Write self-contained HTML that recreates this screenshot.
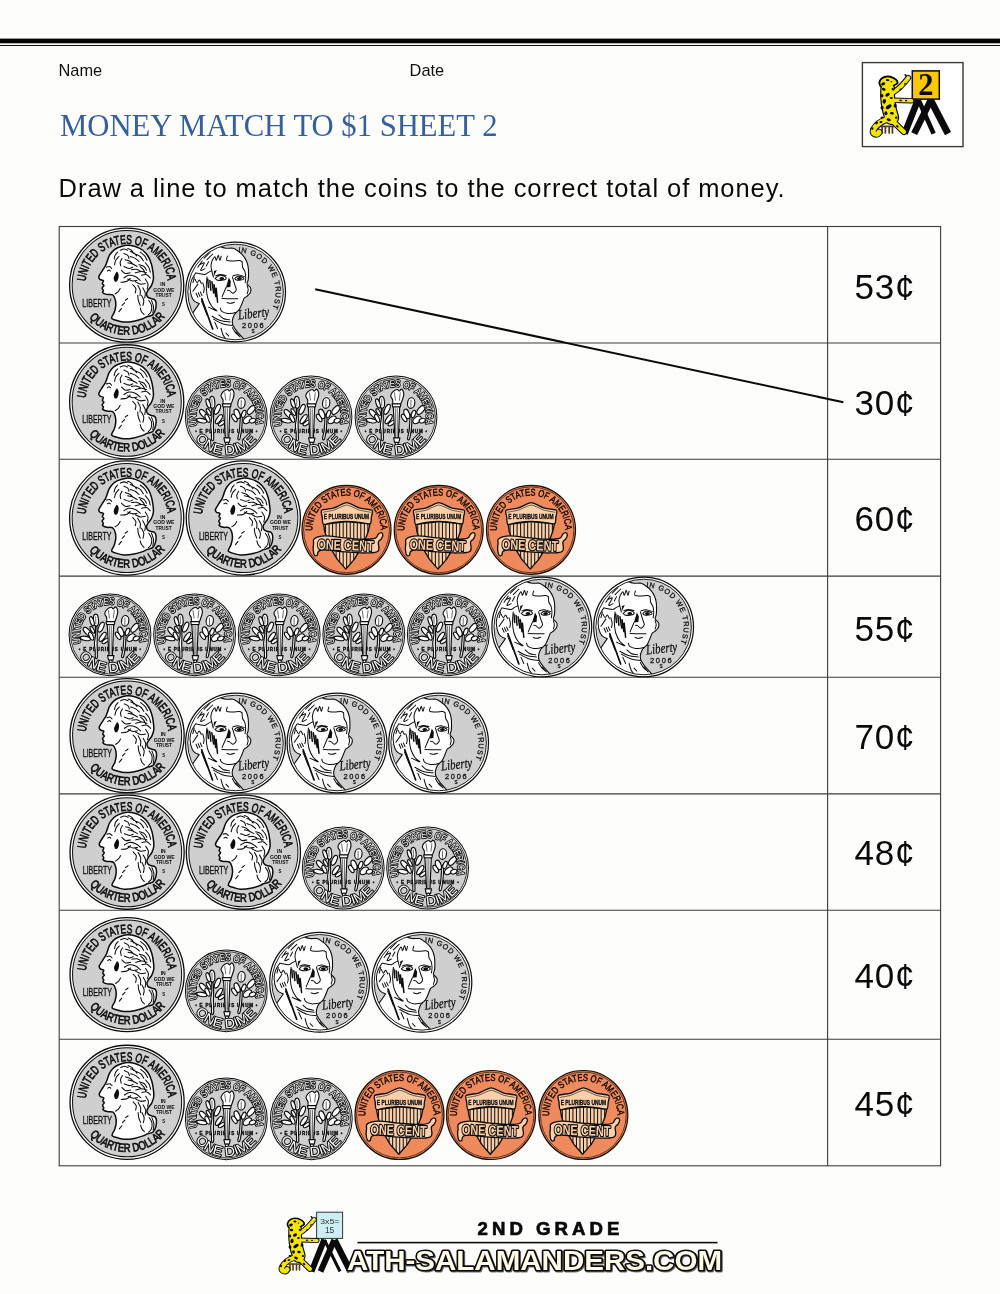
<!DOCTYPE html>
<html lang="en"><head><meta charset="utf-8"><title>Money Match to $1 Sheet 2</title>
<style>
html,body{margin:0;padding:0;background:#fdfefc;}
body{width:1000px;height:1294px;overflow:hidden;position:relative;}
svg{position:absolute;left:0;top:0;display:block;will-change:transform;opacity:0.999}
</style></head><body>
<svg width="1000" height="1294" viewBox="0 0 1000 1294" font-family="Liberation Sans, sans-serif">
<rect x="0" y="38.6" width="1000" height="4.7" fill="#050505"/>
<rect x="0" y="45" width="1000" height="1" fill="#111"/>
<text x="58.5" y="75.6" font-size="16.4" fill="#111">Name</text>
<text x="409.6" y="75.6" font-size="16.4" fill="#111">Date</text>
<text font-family="Liberation Serif, serif" x="60" y="135.7" font-size="32" fill="#365f9b" textLength="437.5" lengthAdjust="spacingAndGlyphs">MONEY MATCH TO $1 SHEET 2</text>
<text x="58.6" y="196.7" font-size="25.5" fill="#0a0a0a" textLength="726" lengthAdjust="spacing">Draw a line to match the coins to the correct total of money.</text>
<rect x="862.4" y="62.6" width="100.6" height="84" fill="#fff" stroke="#3a3a3a" stroke-width="1.4"/><g stroke="#0a0a0a" fill="none" stroke-linecap="butt"><path d="M918 99.6L904.6 133.6" stroke-width="6.6"/><path d="M931 99.6L914.2 133.6" stroke-width="6.6"/><path d="M918.6 100L933.6 133.6" stroke-width="4.6"/><path d="M930.4 99.6L948 133.6" stroke-width="6.8"/></g><rect x="912.3" y="70.9" width="27" height="28.2" fill="#fbc800" stroke="#0a0a0a" stroke-width="1.5"/><text x="925.8" y="95" text-anchor="middle" font-family="Liberation Serif, serif" font-weight="bold" font-size="30.5" fill="#0a0a0a">2</text><g transform="translate(849.4 56.6) scale(0.109)" fill="none" stroke-linecap="round" stroke-linejoin="round"><path d="M285 640H410M300 645V700M330 645V700M365 645V700M395 645V700" stroke="#5a3a1a" stroke-width="16"/><path d="M350 575C295 590 245 625 220 672C210 712 255 726 272 694" stroke="#0a0a0a" stroke-width="64"/><path d="M395 590C430 620 455 650 500 690" stroke="#0a0a0a" stroke-width="58"/><path d="M400 330C450 300 500 250 540 195" stroke="#0a0a0a" stroke-width="54"/><path d="M395 400C450 400 510 402 570 406" stroke="#0a0a0a" stroke-width="50"/><path d="M352 300C346 370 358 470 388 560" stroke="#0a0a0a" stroke-width="138"/><path d="M275 240C285 185 350 170 400 195C430 210 448 225 440 245C420 262 400 262 380 290C340 310 280 295 275 240Z" fill="#f3e400" stroke="#0a0a0a" stroke-width="18"/><path d="M350 575C295 590 245 625 220 672C210 712 255 726 272 694" stroke="#f3e400" stroke-width="46"/><path d="M395 590C430 620 455 650 500 690" stroke="#f3e400" stroke-width="40"/><path d="M400 330C450 300 500 250 540 195" stroke="#f3e400" stroke-width="36"/><path d="M395 400C450 400 510 402 570 406" stroke="#f3e400" stroke-width="32"/><path d="M352 300C346 370 358 470 388 560" stroke="#f3e400" stroke-width="116"/><path d="M285 240C295 195 350 182 395 203C420 215 436 228 430 242C412 255 395 255 372 284C340 300 292 290 285 240Z" fill="#f3e400"/><ellipse cx="300" cy="470" rx="14" ry="18" transform="rotate(0 300 470)" fill="#0a0a0a"/><ellipse cx="420" cy="450" rx="14" ry="18" transform="rotate(10 420 450)" fill="#0a0a0a"/><ellipse cx="400" cy="300" rx="14" ry="10" transform="rotate(30 400 300)" fill="#0a0a0a"/><ellipse cx="300" cy="360" rx="12" ry="16" transform="rotate(0 300 360)" fill="#0a0a0a"/><ellipse cx="430" cy="560" rx="12" ry="10" transform="rotate(0 430 560)" fill="#0a0a0a"/><ellipse cx="290" cy="600" rx="14" ry="9" transform="rotate(-20 290 600)" fill="#0a0a0a"/><ellipse cx="310" cy="250" rx="20" ry="13" transform="rotate(-20 310 250)" fill="#0a0a0a"/><ellipse cx="350" cy="215" rx="16" ry="10" transform="rotate(10 350 215)" fill="#0a0a0a"/><ellipse cx="315" cy="300" rx="18" ry="12" transform="rotate(20 315 300)" fill="#0a0a0a"/><ellipse cx="350" cy="350" rx="22" ry="14" transform="rotate(-30 350 350)" fill="#0a0a0a"/><ellipse cx="385" cy="380" rx="14" ry="10" transform="rotate(0 385 380)" fill="#0a0a0a"/><ellipse cx="320" cy="410" rx="16" ry="22" transform="rotate(10 320 410)" fill="#0a0a0a"/><ellipse cx="360" cy="460" rx="30" ry="16" transform="rotate(-35 360 460)" fill="#0a0a0a"/><ellipse cx="390" cy="520" rx="18" ry="12" transform="rotate(10 390 520)" fill="#0a0a0a"/><ellipse cx="335" cy="520" rx="14" ry="18" transform="rotate(0 335 520)" fill="#0a0a0a"/><ellipse cx="360" cy="580" rx="20" ry="12" transform="rotate(20 360 580)" fill="#0a0a0a"/><ellipse cx="300" cy="560" rx="14" ry="10" transform="rotate(0 300 560)" fill="#0a0a0a"/><ellipse cx="250" cy="610" rx="14" ry="10" transform="rotate(-30 250 610)" fill="#0a0a0a"/><ellipse cx="210" cy="660" rx="10" ry="12" transform="rotate(0 210 660)" fill="#0a0a0a"/><ellipse cx="440" cy="640" rx="14" ry="9" transform="rotate(40 440 640)" fill="#0a0a0a"/><ellipse cx="470" cy="300" rx="12" ry="8" transform="rotate(-45 470 300)" fill="#0a0a0a"/><ellipse cx="510" cy="250" rx="10" ry="7" transform="rotate(-50 510 250)" fill="#0a0a0a"/><ellipse cx="470" cy="402" rx="12" ry="8" transform="rotate(0 470 402)" fill="#0a0a0a"/><ellipse cx="520" cy="404" rx="10" ry="7" transform="rotate(0 520 404)" fill="#0a0a0a"/><ellipse cx="385" cy="230" rx="8" ry="6" transform="rotate(0 385 230)" fill="#0a0a0a"/><path d="M520 175L548 200" stroke="#ddd" stroke-width="14"/><path d="M512 168L524 180" stroke="#0a0a0a" stroke-width="14"/></g>
<g fill="none" stroke="#3c3c3c" stroke-width="1.1">
<rect x="59.2" y="226.5" width="881.4" height="939.3"/>
<line x1="59.2" y1="343" x2="940.6" y2="343"/>
<line x1="59.2" y1="459.2" x2="940.6" y2="459.2"/>
<line x1="59.2" y1="576.1" x2="940.6" y2="576.1"/>
<line x1="59.2" y1="677.3" x2="940.6" y2="677.3"/>
<line x1="59.2" y1="793.9" x2="940.6" y2="793.9"/>
<line x1="59.2" y1="910.2" x2="940.6" y2="910.2"/>
<line x1="59.2" y1="1039.2" x2="940.6" y2="1039.2"/>
<line x1="827.6" y1="226.5" x2="827.6" y2="1165.8"/>
</g>
<text x="854.4" y="298.5" font-size="35" fill="#0a0a0a" letter-spacing="0.9">53¢</text>
<text x="854.4" y="414.7" font-size="35" fill="#0a0a0a" letter-spacing="0.9">30¢</text>
<text x="854.4" y="531" font-size="35" fill="#0a0a0a" letter-spacing="0.9">60¢</text>
<text x="854.4" y="640.7" font-size="35" fill="#0a0a0a" letter-spacing="0.9">55¢</text>
<text x="854.4" y="749" font-size="35" fill="#0a0a0a" letter-spacing="0.9">70¢</text>
<text x="854.4" y="865.3" font-size="35" fill="#0a0a0a" letter-spacing="0.9">48¢</text>
<text x="854.4" y="988" font-size="35" fill="#0a0a0a" letter-spacing="0.9">40¢</text>
<text x="854.4" y="1116.4" font-size="35" fill="#0a0a0a" letter-spacing="0.9">45¢</text>
<g transform="translate(126.7 285.1) scale(1.003)"><circle r="56.9" fill="#fff" stroke="#0c0c0c" stroke-width="1.3"/><circle r="54.4" fill="#cfcfcf" stroke="#0c0c0c" stroke-width="1"/><path d="M-9 -37.25C-11.19 -36.35 -11.96 -35.73 -13.38 -34.38C-14.79 -33.02 -16.46 -30.98 -17.5 -29.12C-18.54 -27.27 -19 -24.92 -19.62 -23.25C-20.25 -21.58 -20.48 -20.58 -21.25 -19.12C-22.02 -17.67 -23.17 -16.27 -24.25 -14.5C-25.33 -12.73 -27.33 -9.96 -27.75 -8.5C-28.17 -7.04 -27.5 -6.42 -26.75 -5.75C-26 -5.08 -23.67 -5.21 -23.25 -4.5C-22.83 -3.79 -24.33 -2.33 -24.25 -1.5C-24.17 -0.67 -22.71 -0.25 -22.75 0.5C-22.79 1.25 -24.42 2.17 -24.5 3C-24.58 3.83 -23.33 4.75 -23.25 5.5C-23.17 6.25 -24.54 6.88 -24 7.5C-23.46 8.12 -21.67 8.88 -20 9.25C-18.33 9.62 -15.42 8.92 -14 9.75C-12.58 10.58 -12.02 12.5 -11.5 14.25C-10.98 16 -10.75 18.17 -10.88 20.25C-11 22.33 -11.56 24.62 -12.25 26.75C-12.94 28.88 -15.54 31.54 -15 33C-14.46 34.46 -11.04 34.85 -9 35.5C-6.96 36.15 -5.46 36.79 -2.75 36.88C-0.04 36.96 4.12 36.56 7.25 36C10.38 35.44 13.88 34.25 16 33.5C18.12 32.75 18.83 31.96 20 31.5C21.17 31.04 21.96 31.12 23 30.75C24.04 30.38 25.29 30.38 26.25 29.25C27.21 28.12 28.25 25.92 28.75 24C29.25 22.08 29.42 19.33 29.25 17.75C29.08 16.17 28.54 15.21 27.75 14.5C26.96 13.79 25.62 13.92 24.5 13.5C23.38 13.08 21.79 12.83 21 12C20.21 11.17 19.71 9.62 19.75 8.5C19.79 7.38 20.42 6.62 21.25 5.25C22.08 3.88 23.85 2.12 24.75 0.25C25.65 -1.62 26.4 -3.71 26.62 -6C26.85 -8.29 26.46 -11 26.12 -13.5C25.79 -16 25.4 -18.5 24.62 -21C23.85 -23.5 22.94 -26.21 21.5 -28.5C20.06 -30.79 18.17 -33.08 16 -34.75C13.83 -36.42 11.21 -37.67 8.5 -38.5C5.79 -39.33 2.67 -39.96 -0.25 -39.75C-3.17 -39.54 -6.81 -38.15 -9 -37.25Z" fill="#fff" stroke="#0c0c0c" stroke-width="1.5" stroke-linejoin="round"/><path d="M-6.5 -34.75C-5.88 -34.96 -4 -36 -2.75 -36C-1.5 -36 0.38 -34.96 1 -34.75M1 -36.62C1.62 -36.31 3.81 -35.58 4.75 -34.75C5.69 -33.92 6.31 -32.15 6.62 -31.62M-2.75 -31.62C-2.12 -31.31 0.17 -30.58 1 -29.75C1.83 -28.92 2.04 -27.15 2.25 -26.62M-7.75 -28.5C-8.27 -27.88 -10.15 -26.1 -10.88 -24.75C-11.6 -23.4 -11.92 -21.1 -12.12 -20.38M-4.62 -26.62C-4.94 -26 -6.29 -24.12 -6.5 -22.88C-6.71 -21.62 -5.98 -19.75 -5.88 -19.12M3.5 -28.5C4.33 -28.19 7.04 -27.46 8.5 -26.62C9.96 -25.79 11.62 -24.02 12.25 -23.5M8.5 -31C9.33 -30.58 12.15 -29.65 13.5 -28.5C14.85 -27.35 16.1 -24.85 16.62 -24.12M-2.75 -18.5C-1.92 -18.19 0.79 -16.73 2.25 -16.62C3.71 -16.52 5.38 -17.67 6 -17.88M1 -22.25C1.83 -22.04 4.44 -21.62 6 -21C7.56 -20.38 9.65 -18.92 10.38 -18.5M12.25 -20.38C13.08 -20.06 16 -19.44 17.25 -18.5C18.5 -17.56 19.33 -15.38 19.75 -14.75M-2.75 -7.25C-1.92 -7.67 0.38 -9.54 2.25 -9.75C4.12 -9.96 6.62 -9.33 8.5 -8.5C10.38 -7.67 12.67 -5.38 13.5 -4.75M-5.88 -2.88C-4.94 -2.98 -1.81 -2.88 -0.25 -3.5C1.31 -4.12 2.88 -6.1 3.5 -6.62M8.5 -3.5C9.33 -3.08 11.83 -1.31 13.5 -1C15.17 -0.69 17.67 -1.52 18.5 -1.62M14.75 -9.75C15.58 -9.85 18.29 -10.79 19.75 -10.38C21.21 -9.96 22.88 -7.77 23.5 -7.25M11 0.25C11.42 1.08 13.12 3.58 13.5 5.25C13.88 6.92 13.29 9.42 13.25 10.25M16 2.75C16.42 3.58 18.17 6.08 18.5 7.75C18.83 9.42 18.08 11.92 18 12.75M8.5 -12.25C9.54 -12.46 12.88 -13.5 14.75 -13.5C16.62 -13.5 18.92 -12.46 19.75 -12.25M3.5 -33.5C4.12 -33.25 6.21 -32.73 7.25 -32C8.29 -31.27 9.33 -29.6 9.75 -29.12M13.5 -32.88C14.23 -32.25 16.73 -30.48 17.88 -29.12C19.02 -27.77 19.96 -25.48 20.38 -24.75M-1.5 -25.38C-0.67 -25.06 2.15 -24.33 3.5 -23.5C4.85 -22.67 6.1 -20.9 6.62 -20.38M4.75 -15.38C5.58 -15.44 8.29 -15.96 9.75 -15.75C11.21 -15.54 12.88 -14.4 13.5 -14.12M-9 -32.88C-9.42 -32.35 -10.92 -30.9 -11.5 -29.75C-12.08 -28.6 -12.33 -26.62 -12.5 -26M18.5 -22.25C19.08 -21.52 21.17 -19.44 22 -17.88C22.83 -16.31 23.25 -13.71 23.5 -12.88M1 -6C1.83 -5.69 4.44 -4.33 6 -4.12C7.56 -3.92 9.65 -4.65 10.38 -4.75M18.5 -6C18.96 -5.17 20.94 -2.67 21.25 -1C21.56 0.67 20.52 3.17 20.38 4M6 -0.38C6.52 0.25 8.71 2.02 9.12 3.38C9.54 4.73 8.6 7.02 8.5 7.75M14.75 10.25C15.12 11.08 16.75 13.58 17 15.25C17.25 16.92 16.38 19.42 16.25 20.25M-5.25 -14.75C-4.62 -14.23 -2.96 -12.04 -1.5 -11.62C-0.04 -11.21 2.67 -12.15 3.5 -12.25M13.5 -18.5C14.02 -17.98 15.79 -16.52 16.62 -15.38C17.46 -14.23 18.19 -12.25 18.5 -11.62M-6.5 3.38C-6.81 3.9 -7.54 5.6 -8.38 6.5C-9.21 7.4 -10.98 8.38 -11.5 8.75M-1.5 15.25 L1 13.38M-4.62 20.25 L-2.12 17.75M-7.75 26.5 L-5.25 23.38M11 10.25C11.1 11.08 11.21 13.58 11.62 15.25C12.04 16.92 13.19 19.42 13.5 20.25M13.5 22.75C13.71 23.38 14.12 25.42 14.75 26.5C15.38 27.58 16.83 28.79 17.25 29.25M-20.25 -17.88C-19.73 -17.98 -18 -18.71 -17.12 -18.5C-16.25 -18.29 -15.35 -16.94 -15 -16.62M-19.25 -14.12C-18.96 -14.27 -18 -15.02 -17.5 -15C-17 -14.98 -16.46 -14.17 -16.25 -14M22 15.25C22.46 16.08 24.38 18.38 24.75 20.25C25.12 22.12 24.79 24.92 24.25 26.5C23.71 28.08 21.96 29.21 21.5 29.75M24.75 15.25C25.08 16.29 26.54 19.42 26.75 21.5C26.96 23.58 26.12 26.71 26 27.75" fill="none" stroke="#0c0c0c" stroke-width="1.05" stroke-linecap="round"/><path d="M-9.62 -13.25C-9 -13.15 -8.1 -11.17 -8 -9.75C-7.9 -8.33 -8.42 -5.83 -9 -4.75C-9.58 -3.67 -10.83 -2.94 -11.5 -3.25C-12.17 -3.56 -12.96 -5.44 -13 -6.62C-13.04 -7.81 -12.31 -9.27 -11.75 -10.38C-11.19 -11.48 -10.25 -13.35 -9.62 -13.25Z" fill="#0c0c0c"/><path id="c0a" d="M-41.04 -3.59 A41.2 41.2 0 0 1 40.97 -4.31" fill="none"/><path id="c0b" d="M-37.43 32.54 A49.6 49.6 0 0 0 38 -31.88" fill="none"/><g fill="#0c0c0c" stroke="#0c0c0c" stroke-width="0.65" font-family="Liberation Sans, sans-serif"><text font-size="12.6"><textPath href="#c0a" textLength="121" lengthAdjust="spacingAndGlyphs">UNITED STATES OF AMERICA</textPath></text><text font-size="12"><textPath href="#c0b" textLength="86" lengthAdjust="spacingAndGlyphs">QUARTER DOLLAR</textPath></text><text x="-44.2" y="21.6" font-size="10.2" stroke-width="0.3" textLength="29" lengthAdjust="spacingAndGlyphs">LIBERTY</text><g font-size="5" font-weight="bold" text-anchor="middle" stroke="none"><text x="36" y="0.8">IN</text><text x="37" y="6.4" textLength="21" lengthAdjust="spacingAndGlyphs">GOD WE</text><text x="36.8" y="11.6" textLength="16" lengthAdjust="spacingAndGlyphs">TRUST</text><text x="36.6" y="21" font-size="4.4">S</text></g></g></g>
<g transform="translate(235.6 292) scale(1.006)"><clipPath id="c1k"><circle r="47.3"/></clipPath><circle r="49.6" fill="#fff" stroke="#0c0c0c" stroke-width="1.2"/><circle r="47.5" fill="#cfcfcf"/><g clip-path="url(#c1k)"><path d="M-15.12 -45.25C-13.25 -44.22 -11.2 -43.73 -9.52 -43.5C-7.84 -43.27 -4.11 -43.87 -2.52 -43.5C-0.93 -43.13 1.07 -41.63 2.38 -40.7C3.69 -39.77 6.16 -37.81 7.28 -36.5C8.4 -35.19 10.08 -32.49 10.78 -30.9C11.48 -29.32 12.25 -26.38 12.53 -24.6C12.81 -22.83 12.88 -19.29 12.88 -17.61C12.88 -15.93 12.71 -13.29 12.53 -12.01C12.34 -10.73 11.15 -9.11 11.48 -8.02C11.8 -6.93 14.58 -5.03 14.98 -3.82C15.37 -2.61 14.96 -0.04 14.42 1.08C13.87 2.2 11.68 3.92 10.92 4.58C10.15 5.23 9.26 5.14 8.68 5.98C8.1 6.82 7.23 9.38 6.58 10.87C5.92 12.37 4.62 15.87 3.78 17.17C2.94 18.48 0.98 19.93 0.28 20.67C-0.42 21.42 -1 21.74 -1.47 22.77C-1.94 23.8 -3.08 26.97 -3.22 28.37C-3.36 29.77 -3.17 31.78 -2.52 33.27C-1.87 34.76 0.37 37.89 1.68 39.57C2.99 41.25 5.97 44.06 7.28 45.86C8.58 47.67 19.87 52.11 11.48 53.07C3.08 54.03 -46.75 66.79 -55.7 53.07C-64.66 39.36 -60 -35.89 -55.7 -49.8C-51.41 -63.7 -28.92 -51.8 -23.51 -51.2C-18.1 -50.59 -16.98 -46.27 -15.12 -45.25Z" fill="#fff" stroke="#0c0c0c" stroke-width="1.1"/><path d="M-49.41 -0.11C-48.85 -2.16 -45.17 1.1 -44.51 1.78C-43.84 2.46 -43.18 5.91 -42.76 6.68C-42.34 7.45 -40.97 8.99 -40.31 9.48C-39.64 9.97 -35.82 10.35 -36.11 11.57C-36.4 12.8 -41.85 20.65 -43.25 21.72C-44.65 22.79 -49.49 24.46 -50.1 22.28C-50.72 20.1 -49.97 1.94 -49.41 -0.11Z" fill="#cfcfcf"/><path d="M-8.12 -35.8C-8.21 -35.08 -9.61 -32.28 -8.68 -31.46C-7.74 -30.65 -4.6 -30.94 -2.52 -30.9C-0.44 -30.87 2.26 -31.39 3.78 -31.25C5.3 -31.11 6.11 -30.26 6.58 -30.06M6.58 -30.06C6.65 -29.15 6.55 -26.21 7 -24.6C7.44 -23 8.72 -22.04 9.24 -20.41C9.75 -18.77 10.03 -16.67 10.08 -14.81C10.12 -12.94 9.61 -10.14 9.52 -9.21M-23.51 -30.76C-23.05 -31.49 -21.44 -34.98 -20.71 -35.1C-19.99 -35.22 -19.76 -31.23 -19.17 -31.46C-18.59 -31.7 -17.8 -36.5 -17.21 -36.5C-16.63 -36.5 -16.17 -31.6 -15.68 -31.46C-15.19 -31.32 -14.51 -34.96 -14.28 -35.66M-31.21 -33.7 L-25.47 -39.3M-28.41 -32.16 L-22.67 -37.76M-35.41 -27.26C-34.69 -27.52 -31.19 -29.74 -31.07 -28.8C-30.95 -27.87 -34.83 -22.6 -34.71 -21.67C-34.59 -20.73 -31.09 -22.95 -30.37 -23.21M-29.11 -25.86 L-26.87 -30.2M-37.51 -24.6 L-33.31 -30.9M-39.61 -19.01C-38.91 -18.87 -36.93 -18.42 -35.41 -18.17C-33.89 -17.91 -31.91 -17.23 -30.51 -17.47C-29.11 -17.7 -28.08 -18.96 -27.01 -19.57C-25.94 -20.17 -24.56 -20.85 -24.07 -21.11M-23.51 -30.76C-23.68 -29.97 -24.49 -27.73 -24.49 -26C-24.49 -24.28 -23.91 -22.27 -23.51 -20.41C-23.12 -18.54 -22.35 -15.74 -22.11 -14.81M-40.31 -12.71C-39.96 -12.1 -38.91 -9.19 -38.21 -9.07C-37.51 -8.95 -36.81 -12.13 -36.11 -12.01C-35.41 -11.89 -34.36 -8.98 -34.01 -8.37M-42.41 -0.67 L-37.51 -7.81M-39.26 1.29 L-37.51 5.14M-37.16 0.59 L-35.41 4.44M-35.06 -0.11 L-33.45 3.53M-39.61 -19.01C-40.28 -17.84 -42.73 -14.34 -43.67 -12.01C-44.6 -9.68 -45.07 -7.31 -45.21 -5.01C-45.35 -2.71 -44.62 0.65 -44.51 1.78M-41.01 -14.81 L-42.41 -9.21M-32.61 -9.21C-32.38 -8.28 -31.33 -5.24 -31.21 -3.61C-31.09 -1.98 -31.79 -0.11 -31.91 0.59M-44.51 1.78C-44.22 2.59 -43.46 5.39 -42.76 6.68C-42.06 7.96 -41.42 8.66 -40.31 9.48C-39.2 10.29 -36.81 11.22 -36.11 11.57M-36.11 11.57 L-43.25 21.72M-20.36 -13.41C-19.72 -13.85 -18.09 -15.72 -16.52 -16.07C-14.94 -16.42 -12.08 -16.01 -10.92 -15.51C-9.75 -15.01 -9.05 -13.71 -9.52 -13.06C-9.98 -12.4 -12.2 -11.76 -13.72 -11.59C-15.23 -11.41 -17.51 -11.71 -18.61 -12.01C-19.72 -12.31 -20.07 -13.17 -20.36 -13.41M-0.77 -13.41C-0.24 -13.78 1.04 -15.47 2.38 -15.65C3.72 -15.82 6.34 -14.95 7.28 -14.46C8.21 -13.97 8.56 -13.19 7.98 -12.71C7.39 -12.23 5.06 -11.68 3.78 -11.59C2.5 -11.5 1.04 -11.85 0.28 -12.15C-0.48 -12.45 -0.59 -13.2 -0.77 -13.41M-19.66 -16.07C-18.91 -16.3 -16.81 -17.41 -15.12 -17.47C-13.42 -17.53 -10.45 -16.59 -9.52 -16.42M-2.52 -16.07C-1.7 -16.24 0.51 -17.23 2.38 -17.12C4.25 -17 7.63 -15.66 8.68 -15.37M-3.22 -15.02C-2.87 -13.85 -1.77 -10.12 -1.12 -8.02C-0.47 -5.92 0.68 -3.82 0.7 -2.42C0.72 -1.02 -0.33 -0.21 -0.98 0.38C-1.63 0.96 -2.38 1.37 -3.22 1.08C-4.06 0.79 -5.2 -0.91 -6.02 -1.37C-6.83 -1.84 -7.77 -1.66 -8.12 -1.72M-9.52 -4.52 L-13.37 4.58M-13.72 6.33C-12.43 6.4 -8.7 6.7 -6.02 6.75C-3.34 6.79 0.98 6.63 2.38 6.61M-8.47 10.52C-7.88 10.65 -6.19 11.35 -4.97 11.29C-3.74 11.24 -1.76 10.36 -1.12 10.17M-15.12 16.12C-14.88 16.65 -14.88 18.4 -13.72 19.27C-12.55 20.15 -9.98 21.08 -8.12 21.37C-6.25 21.66 -3.98 21.2 -2.52 21.02C-1.06 20.85 0.1 20.44 0.63 20.32M11.48 -6.41C11.65 -5.71 12.53 -3.61 12.53 -2.21C12.53 -0.81 11.65 1.29 11.48 1.99M-28.41 -15.02C-28.53 -13.27 -29.23 -8.02 -29.11 -4.52C-28.99 -1.02 -28.64 2.83 -27.71 5.98C-26.78 9.13 -25.03 12.27 -23.51 14.37C-22 16.47 -19.43 17.87 -18.61 18.57M-27.01 15.07 L-19.31 18.57M-23.51 24.17C-22.11 24.87 -18.15 27.44 -15.12 28.37C-12.08 29.3 -6.95 29.54 -5.32 29.77M-22.11 26.97C-20.48 27.79 -15.47 30.82 -12.32 31.87C-9.17 32.92 -4.74 33.03 -3.22 33.27M-16.52 22.77C-15.82 23.35 -14.07 25.45 -12.32 26.27C-10.57 27.09 -7.07 27.44 -6.02 27.67M-34.01 8.78 L-28.41 22.77M-14.42 36.07C-14.07 37.23 -13.13 41.32 -12.32 43.07C-11.5 44.81 -9.98 45.98 -9.52 46.56M-9.52 40.97 L-6.72 43.76M-3.22 35.37C-2.64 36.3 -1 39.45 0.28 40.97C1.56 42.48 3.78 43.88 4.48 44.46M-20.71 29.98 L-17.91 36.28M0.28 39.78 L4.48 44.67" fill="none" stroke="#0c0c0c" stroke-width="1" stroke-linecap="round" stroke-linejoin="round"/><path d="M-27.71 -12.92 L-27.01 -4.52M-25.61 -11.52 L-24.56 -1.72M-23.51 -10.12 L-21.76 1.08M-21.41 -7.32 L-19.66 4.58M-19.31 -3.82 L-17.91 10.17" fill="none" stroke="#0c0c0c" stroke-width="1.5" stroke-linecap="round"/><path d="M-33.66 6.68 L-22.81 36.77" fill="none" stroke="#0c0c0c" stroke-width="1.7" stroke-linecap="round"/><path d="M-6.72 -14.32 L-4.76 -10.61 L-5.18 -5.01 L-9.66 -4.45 L-7.98 -9.91ZM-21.41 -20.97 L-18.61 -21.81 L-21.97 -14.81Z" fill="#0c0c0c"/><ellipse cx="-13.72" cy="-13.41" rx="2.4" ry="1.5" fill="#0c0c0c"/><ellipse cx="3.78" cy="-13.41" rx="2.4" ry="1.5" fill="#0c0c0c"/></g><circle r="47.5" fill="none" stroke="#0c0c0c" stroke-width="0.9"/><path id="c1a" d="M2.78 -39.8 A39.9 39.9 0 0 1 34.55 19.95" fill="none"/><g fill="#0c0c0c" stroke="#0c0c0c" stroke-width="0.25" font-family="Liberation Sans, sans-serif"><text font-size="7.2"><textPath href="#c1a" textLength="76" lengthAdjust="spacing">IN GOD WE TRUST</textPath></text><text x="3" y="27.3" font-family="Liberation Serif, serif" font-style="italic" font-size="14" textLength="31" lengthAdjust="spacingAndGlyphs" transform="rotate(-6 3 27.3)">Liberty</text><text x="6.4" y="35.7" font-size="7.4" textLength="21.5" lengthAdjust="spacing">2006</text><text x="15.7" y="41.2" font-size="4.6">S</text></g></g>
<g transform="translate(126.7 401.8) scale(1.003)"><circle r="56.9" fill="#fff" stroke="#0c0c0c" stroke-width="1.3"/><circle r="54.4" fill="#cfcfcf" stroke="#0c0c0c" stroke-width="1"/><path d="M-9 -37.25C-11.19 -36.35 -11.96 -35.73 -13.38 -34.38C-14.79 -33.02 -16.46 -30.98 -17.5 -29.12C-18.54 -27.27 -19 -24.92 -19.62 -23.25C-20.25 -21.58 -20.48 -20.58 -21.25 -19.12C-22.02 -17.67 -23.17 -16.27 -24.25 -14.5C-25.33 -12.73 -27.33 -9.96 -27.75 -8.5C-28.17 -7.04 -27.5 -6.42 -26.75 -5.75C-26 -5.08 -23.67 -5.21 -23.25 -4.5C-22.83 -3.79 -24.33 -2.33 -24.25 -1.5C-24.17 -0.67 -22.71 -0.25 -22.75 0.5C-22.79 1.25 -24.42 2.17 -24.5 3C-24.58 3.83 -23.33 4.75 -23.25 5.5C-23.17 6.25 -24.54 6.88 -24 7.5C-23.46 8.12 -21.67 8.88 -20 9.25C-18.33 9.62 -15.42 8.92 -14 9.75C-12.58 10.58 -12.02 12.5 -11.5 14.25C-10.98 16 -10.75 18.17 -10.88 20.25C-11 22.33 -11.56 24.62 -12.25 26.75C-12.94 28.88 -15.54 31.54 -15 33C-14.46 34.46 -11.04 34.85 -9 35.5C-6.96 36.15 -5.46 36.79 -2.75 36.88C-0.04 36.96 4.12 36.56 7.25 36C10.38 35.44 13.88 34.25 16 33.5C18.12 32.75 18.83 31.96 20 31.5C21.17 31.04 21.96 31.12 23 30.75C24.04 30.38 25.29 30.38 26.25 29.25C27.21 28.12 28.25 25.92 28.75 24C29.25 22.08 29.42 19.33 29.25 17.75C29.08 16.17 28.54 15.21 27.75 14.5C26.96 13.79 25.62 13.92 24.5 13.5C23.38 13.08 21.79 12.83 21 12C20.21 11.17 19.71 9.62 19.75 8.5C19.79 7.38 20.42 6.62 21.25 5.25C22.08 3.88 23.85 2.12 24.75 0.25C25.65 -1.62 26.4 -3.71 26.62 -6C26.85 -8.29 26.46 -11 26.12 -13.5C25.79 -16 25.4 -18.5 24.62 -21C23.85 -23.5 22.94 -26.21 21.5 -28.5C20.06 -30.79 18.17 -33.08 16 -34.75C13.83 -36.42 11.21 -37.67 8.5 -38.5C5.79 -39.33 2.67 -39.96 -0.25 -39.75C-3.17 -39.54 -6.81 -38.15 -9 -37.25Z" fill="#fff" stroke="#0c0c0c" stroke-width="1.5" stroke-linejoin="round"/><path d="M-6.5 -34.75C-5.88 -34.96 -4 -36 -2.75 -36C-1.5 -36 0.38 -34.96 1 -34.75M1 -36.62C1.62 -36.31 3.81 -35.58 4.75 -34.75C5.69 -33.92 6.31 -32.15 6.62 -31.62M-2.75 -31.62C-2.12 -31.31 0.17 -30.58 1 -29.75C1.83 -28.92 2.04 -27.15 2.25 -26.62M-7.75 -28.5C-8.27 -27.88 -10.15 -26.1 -10.88 -24.75C-11.6 -23.4 -11.92 -21.1 -12.12 -20.38M-4.62 -26.62C-4.94 -26 -6.29 -24.12 -6.5 -22.88C-6.71 -21.62 -5.98 -19.75 -5.88 -19.12M3.5 -28.5C4.33 -28.19 7.04 -27.46 8.5 -26.62C9.96 -25.79 11.62 -24.02 12.25 -23.5M8.5 -31C9.33 -30.58 12.15 -29.65 13.5 -28.5C14.85 -27.35 16.1 -24.85 16.62 -24.12M-2.75 -18.5C-1.92 -18.19 0.79 -16.73 2.25 -16.62C3.71 -16.52 5.38 -17.67 6 -17.88M1 -22.25C1.83 -22.04 4.44 -21.62 6 -21C7.56 -20.38 9.65 -18.92 10.38 -18.5M12.25 -20.38C13.08 -20.06 16 -19.44 17.25 -18.5C18.5 -17.56 19.33 -15.38 19.75 -14.75M-2.75 -7.25C-1.92 -7.67 0.38 -9.54 2.25 -9.75C4.12 -9.96 6.62 -9.33 8.5 -8.5C10.38 -7.67 12.67 -5.38 13.5 -4.75M-5.88 -2.88C-4.94 -2.98 -1.81 -2.88 -0.25 -3.5C1.31 -4.12 2.88 -6.1 3.5 -6.62M8.5 -3.5C9.33 -3.08 11.83 -1.31 13.5 -1C15.17 -0.69 17.67 -1.52 18.5 -1.62M14.75 -9.75C15.58 -9.85 18.29 -10.79 19.75 -10.38C21.21 -9.96 22.88 -7.77 23.5 -7.25M11 0.25C11.42 1.08 13.12 3.58 13.5 5.25C13.88 6.92 13.29 9.42 13.25 10.25M16 2.75C16.42 3.58 18.17 6.08 18.5 7.75C18.83 9.42 18.08 11.92 18 12.75M8.5 -12.25C9.54 -12.46 12.88 -13.5 14.75 -13.5C16.62 -13.5 18.92 -12.46 19.75 -12.25M3.5 -33.5C4.12 -33.25 6.21 -32.73 7.25 -32C8.29 -31.27 9.33 -29.6 9.75 -29.12M13.5 -32.88C14.23 -32.25 16.73 -30.48 17.88 -29.12C19.02 -27.77 19.96 -25.48 20.38 -24.75M-1.5 -25.38C-0.67 -25.06 2.15 -24.33 3.5 -23.5C4.85 -22.67 6.1 -20.9 6.62 -20.38M4.75 -15.38C5.58 -15.44 8.29 -15.96 9.75 -15.75C11.21 -15.54 12.88 -14.4 13.5 -14.12M-9 -32.88C-9.42 -32.35 -10.92 -30.9 -11.5 -29.75C-12.08 -28.6 -12.33 -26.62 -12.5 -26M18.5 -22.25C19.08 -21.52 21.17 -19.44 22 -17.88C22.83 -16.31 23.25 -13.71 23.5 -12.88M1 -6C1.83 -5.69 4.44 -4.33 6 -4.12C7.56 -3.92 9.65 -4.65 10.38 -4.75M18.5 -6C18.96 -5.17 20.94 -2.67 21.25 -1C21.56 0.67 20.52 3.17 20.38 4M6 -0.38C6.52 0.25 8.71 2.02 9.12 3.38C9.54 4.73 8.6 7.02 8.5 7.75M14.75 10.25C15.12 11.08 16.75 13.58 17 15.25C17.25 16.92 16.38 19.42 16.25 20.25M-5.25 -14.75C-4.62 -14.23 -2.96 -12.04 -1.5 -11.62C-0.04 -11.21 2.67 -12.15 3.5 -12.25M13.5 -18.5C14.02 -17.98 15.79 -16.52 16.62 -15.38C17.46 -14.23 18.19 -12.25 18.5 -11.62M-6.5 3.38C-6.81 3.9 -7.54 5.6 -8.38 6.5C-9.21 7.4 -10.98 8.38 -11.5 8.75M-1.5 15.25 L1 13.38M-4.62 20.25 L-2.12 17.75M-7.75 26.5 L-5.25 23.38M11 10.25C11.1 11.08 11.21 13.58 11.62 15.25C12.04 16.92 13.19 19.42 13.5 20.25M13.5 22.75C13.71 23.38 14.12 25.42 14.75 26.5C15.38 27.58 16.83 28.79 17.25 29.25M-20.25 -17.88C-19.73 -17.98 -18 -18.71 -17.12 -18.5C-16.25 -18.29 -15.35 -16.94 -15 -16.62M-19.25 -14.12C-18.96 -14.27 -18 -15.02 -17.5 -15C-17 -14.98 -16.46 -14.17 -16.25 -14M22 15.25C22.46 16.08 24.38 18.38 24.75 20.25C25.12 22.12 24.79 24.92 24.25 26.5C23.71 28.08 21.96 29.21 21.5 29.75M24.75 15.25C25.08 16.29 26.54 19.42 26.75 21.5C26.96 23.58 26.12 26.71 26 27.75" fill="none" stroke="#0c0c0c" stroke-width="1.05" stroke-linecap="round"/><path d="M-9.62 -13.25C-9 -13.15 -8.1 -11.17 -8 -9.75C-7.9 -8.33 -8.42 -5.83 -9 -4.75C-9.58 -3.67 -10.83 -2.94 -11.5 -3.25C-12.17 -3.56 -12.96 -5.44 -13 -6.62C-13.04 -7.81 -12.31 -9.27 -11.75 -10.38C-11.19 -11.48 -10.25 -13.35 -9.62 -13.25Z" fill="#0c0c0c"/><path id="c2a" d="M-41.04 -3.59 A41.2 41.2 0 0 1 40.97 -4.31" fill="none"/><path id="c2b" d="M-37.43 32.54 A49.6 49.6 0 0 0 38 -31.88" fill="none"/><g fill="#0c0c0c" stroke="#0c0c0c" stroke-width="0.65" font-family="Liberation Sans, sans-serif"><text font-size="12.6"><textPath href="#c2a" textLength="121" lengthAdjust="spacingAndGlyphs">UNITED STATES OF AMERICA</textPath></text><text font-size="12"><textPath href="#c2b" textLength="86" lengthAdjust="spacingAndGlyphs">QUARTER DOLLAR</textPath></text><text x="-44.2" y="21.6" font-size="10.2" stroke-width="0.3" textLength="29" lengthAdjust="spacingAndGlyphs">LIBERTY</text><g font-size="5" font-weight="bold" text-anchor="middle" stroke="none"><text x="36" y="0.8">IN</text><text x="37" y="6.4" textLength="21" lengthAdjust="spacingAndGlyphs">GOD WE</text><text x="36.8" y="11.6" textLength="16" lengthAdjust="spacingAndGlyphs">TRUST</text><text x="36.6" y="21" font-size="4.4">S</text></g></g></g>
<g transform="translate(226.3 417) scale(1.005)"><circle r="40.7" fill="#fff" stroke="#0c0c0c" stroke-width="1"/><circle r="39.1" fill="#cfcfcf" stroke="#0c0c0c" stroke-width="0.8"/><text x="0" y="15.8" text-anchor="middle" font-family="Liberation Sans, sans-serif" font-weight="bold" font-size="4.5" fill="#0c0c0c" stroke="#0c0c0c" stroke-width="0.35" textLength="62" lengthAdjust="spacing">• E PLURIBUS UNUM •</text><g fill="#fff" stroke="#0c0c0c" stroke-width="1.15" stroke-linejoin="round"><path d="M-15.49 8.36C-15.55 11.05 -14.88 13.55 -14.73 15.96C-14.57 18.37 -14.88 21.66 -14.54 22.8C-14.19 23.94 -12.95 23.94 -12.64 22.8C-12.32 21.66 -12.6 18.37 -12.64 15.96C-12.67 13.55 -12.83 11.05 -12.83 8.36C-12.83 5.67 -12.56 2.66 -12.64 -0.19C-12.71 -3.04 -12.98 -7.32 -13.3 -8.74C-13.62 -10.17 -14.36 -10.17 -14.54 -8.74C-14.71 -7.32 -14.19 -3.04 -14.35 -0.19C-14.5 2.66 -15.42 5.67 -15.49 8.36Z"/><path d="M13.59 6.46C13.36 9.15 13.36 11.53 13.02 14.06C12.67 16.59 11.43 20.33 11.5 21.66C11.56 22.99 12.83 23.24 13.4 22.04C13.97 20.84 14.54 17.04 14.92 14.44C15.3 11.84 15.52 9.22 15.68 6.46C15.83 3.71 16.09 -0.67 15.87 -2.09C15.64 -3.52 14.73 -3.52 14.35 -2.09C13.97 -0.67 13.81 3.77 13.59 6.46Z"/><ellipse cx="-13.97" cy="-14.63" rx="2.57" ry="5.89" transform="rotate(-4 -13.97 -14.63)"/><ellipse cx="-8.84" cy="-7.6" rx="2.28" ry="5.32" transform="rotate(25 -8.84 -7.6)"/><ellipse cx="-17.96" cy="-13.49" rx="1.81" ry="4.75" transform="rotate(-18 -17.96 -13.49)"/><ellipse cx="-22.52" cy="-3.04" rx="2.38" ry="5.51" transform="rotate(-42 -22.52 -3.04)"/><ellipse cx="-24.42" cy="3.61" rx="2.09" ry="5.13" transform="rotate(-80 -24.42 3.61)"/><ellipse cx="-7.32" cy="2.09" rx="2.09" ry="5.32" transform="rotate(35 -7.32 2.09)"/><ellipse cx="-18.72" cy="1.33" rx="1.81" ry="4.37" transform="rotate(-25 -18.72 1.33)"/><ellipse cx="-4.47" cy="6.08" rx="1.71" ry="3.99" transform="rotate(55 -4.47 6.08)"/><ellipse cx="-17.58" cy="-4.94" rx="1.52" ry="3.8" transform="rotate(-30 -17.58 -4.94)"/><ellipse cx="15.11" cy="-13.87" rx="3.61" ry="5.32" transform="rotate(8 15.11 -13.87)"/><ellipse cx="24.8" cy="-7.03" rx="2.66" ry="5.32" transform="rotate(40 24.8 -7.03)"/><ellipse cx="21" cy="2.85" rx="2.95" ry="4.75" transform="rotate(52 21 2.85)"/><ellipse cx="10.74" cy="-3.04" rx="2.57" ry="4.94" transform="rotate(-20 10.74 -3.04)"/><ellipse cx="26.13" cy="3.61" rx="2.19" ry="3.23" transform="rotate(72 26.13 3.61)"/><ellipse cx="8.08" cy="0.95" rx="1.9" ry="4.18" transform="rotate(-32 8.08 0.95)"/><ellipse cx="17.39" cy="-3.04" rx="1.9" ry="3.8" transform="rotate(20 17.39 -3.04)"/><path d="M-2.66 -13.02C-3.93 -13.7 -2.9 -15.79 -3.33 -17.1C-3.75 -18.41 -5.16 -19.68 -5.23 -20.9C-5.29 -22.12 -4.4 -23.47 -3.71 -24.42C-3.01 -25.37 -1.9 -26.11 -1.05 -26.6C-0.19 -27.09 0.7 -27.49 1.43 -27.36C2.15 -27.23 2.69 -25.78 3.33 -25.84C3.96 -25.9 4.59 -27.74 5.23 -27.74C5.86 -27.74 6.71 -26.79 7.13 -25.84C7.54 -24.89 7.82 -23.47 7.7 -22.04C7.57 -20.62 6.94 -18.79 6.37 -17.29C5.8 -15.79 5.78 -13.73 4.28 -13.02C2.77 -12.3 -1.39 -12.33 -2.66 -13.02Z"/><path d="M-2.76 -10.45 L3.71 -10.45 L2.38 20.71 L-1.05 20.71Z"/><path d="M-3.9 -13.11 L4.85 -13.11 L4.28 -10.07 L-3.33 -10.07Z"/><path d="M-2.38 20.71 L3.9 20.71 L2.95 25.27 L-1.43 25.27Z"/><circle cx="0.67" cy="26.6" r="1.5"/></g><path d="M-0.67 -8.74 L-0.29 19.76M1.24 -8.74 L1.24 19.76M-1.62 -24.42 L-0.48 -16.34M4.28 -24.42 L3.33 -16.34M-14.25 -18.24 L-14.16 -10.64M14.92 -17.1 L14.73 -9.5" fill="none" stroke="#0c0c0c" stroke-width="0.6"/><path id="c3a" d="M-29.03 8.32 A30.2 30.2 0 1 1 29.3 7.31" fill="none"/><path id="c3b" d="M-30.47 21.34 A37.2 37.2 0 0 0 30.47 21.34" fill="none"/><g fill="#fff" stroke="#0c0c0c" stroke-width="2" font-family="Liberation Sans, sans-serif" font-weight="normal" paint-order="stroke" stroke-linejoin="round"><text font-size="9.6"><textPath href="#c3a" textLength="110" lengthAdjust="spacingAndGlyphs">UNITED STATES OF AMERICA</textPath></text><text font-size="13.4"><textPath href="#c3b" textLength="70" lengthAdjust="spacingAndGlyphs">ONE DIME</textPath></text></g></g>
<g transform="translate(311 417) scale(1.005)"><circle r="40.7" fill="#fff" stroke="#0c0c0c" stroke-width="1"/><circle r="39.1" fill="#cfcfcf" stroke="#0c0c0c" stroke-width="0.8"/><text x="0" y="15.8" text-anchor="middle" font-family="Liberation Sans, sans-serif" font-weight="bold" font-size="4.5" fill="#0c0c0c" stroke="#0c0c0c" stroke-width="0.35" textLength="62" lengthAdjust="spacing">• E PLURIBUS UNUM •</text><g fill="#fff" stroke="#0c0c0c" stroke-width="1.15" stroke-linejoin="round"><path d="M-15.49 8.36C-15.55 11.05 -14.88 13.55 -14.73 15.96C-14.57 18.37 -14.88 21.66 -14.54 22.8C-14.19 23.94 -12.95 23.94 -12.64 22.8C-12.32 21.66 -12.6 18.37 -12.64 15.96C-12.67 13.55 -12.83 11.05 -12.83 8.36C-12.83 5.67 -12.56 2.66 -12.64 -0.19C-12.71 -3.04 -12.98 -7.32 -13.3 -8.74C-13.62 -10.17 -14.36 -10.17 -14.54 -8.74C-14.71 -7.32 -14.19 -3.04 -14.35 -0.19C-14.5 2.66 -15.42 5.67 -15.49 8.36Z"/><path d="M13.59 6.46C13.36 9.15 13.36 11.53 13.02 14.06C12.67 16.59 11.43 20.33 11.5 21.66C11.56 22.99 12.83 23.24 13.4 22.04C13.97 20.84 14.54 17.04 14.92 14.44C15.3 11.84 15.52 9.22 15.68 6.46C15.83 3.71 16.09 -0.67 15.87 -2.09C15.64 -3.52 14.73 -3.52 14.35 -2.09C13.97 -0.67 13.81 3.77 13.59 6.46Z"/><ellipse cx="-13.97" cy="-14.63" rx="2.57" ry="5.89" transform="rotate(-4 -13.97 -14.63)"/><ellipse cx="-8.84" cy="-7.6" rx="2.28" ry="5.32" transform="rotate(25 -8.84 -7.6)"/><ellipse cx="-17.96" cy="-13.49" rx="1.81" ry="4.75" transform="rotate(-18 -17.96 -13.49)"/><ellipse cx="-22.52" cy="-3.04" rx="2.38" ry="5.51" transform="rotate(-42 -22.52 -3.04)"/><ellipse cx="-24.42" cy="3.61" rx="2.09" ry="5.13" transform="rotate(-80 -24.42 3.61)"/><ellipse cx="-7.32" cy="2.09" rx="2.09" ry="5.32" transform="rotate(35 -7.32 2.09)"/><ellipse cx="-18.72" cy="1.33" rx="1.81" ry="4.37" transform="rotate(-25 -18.72 1.33)"/><ellipse cx="-4.47" cy="6.08" rx="1.71" ry="3.99" transform="rotate(55 -4.47 6.08)"/><ellipse cx="-17.58" cy="-4.94" rx="1.52" ry="3.8" transform="rotate(-30 -17.58 -4.94)"/><ellipse cx="15.11" cy="-13.87" rx="3.61" ry="5.32" transform="rotate(8 15.11 -13.87)"/><ellipse cx="24.8" cy="-7.03" rx="2.66" ry="5.32" transform="rotate(40 24.8 -7.03)"/><ellipse cx="21" cy="2.85" rx="2.95" ry="4.75" transform="rotate(52 21 2.85)"/><ellipse cx="10.74" cy="-3.04" rx="2.57" ry="4.94" transform="rotate(-20 10.74 -3.04)"/><ellipse cx="26.13" cy="3.61" rx="2.19" ry="3.23" transform="rotate(72 26.13 3.61)"/><ellipse cx="8.08" cy="0.95" rx="1.9" ry="4.18" transform="rotate(-32 8.08 0.95)"/><ellipse cx="17.39" cy="-3.04" rx="1.9" ry="3.8" transform="rotate(20 17.39 -3.04)"/><path d="M-2.66 -13.02C-3.93 -13.7 -2.9 -15.79 -3.33 -17.1C-3.75 -18.41 -5.16 -19.68 -5.23 -20.9C-5.29 -22.12 -4.4 -23.47 -3.71 -24.42C-3.01 -25.37 -1.9 -26.11 -1.05 -26.6C-0.19 -27.09 0.7 -27.49 1.43 -27.36C2.15 -27.23 2.69 -25.78 3.33 -25.84C3.96 -25.9 4.59 -27.74 5.23 -27.74C5.86 -27.74 6.71 -26.79 7.13 -25.84C7.54 -24.89 7.82 -23.47 7.7 -22.04C7.57 -20.62 6.94 -18.79 6.37 -17.29C5.8 -15.79 5.78 -13.73 4.28 -13.02C2.77 -12.3 -1.39 -12.33 -2.66 -13.02Z"/><path d="M-2.76 -10.45 L3.71 -10.45 L2.38 20.71 L-1.05 20.71Z"/><path d="M-3.9 -13.11 L4.85 -13.11 L4.28 -10.07 L-3.33 -10.07Z"/><path d="M-2.38 20.71 L3.9 20.71 L2.95 25.27 L-1.43 25.27Z"/><circle cx="0.67" cy="26.6" r="1.5"/></g><path d="M-0.67 -8.74 L-0.29 19.76M1.24 -8.74 L1.24 19.76M-1.62 -24.42 L-0.48 -16.34M4.28 -24.42 L3.33 -16.34M-14.25 -18.24 L-14.16 -10.64M14.92 -17.1 L14.73 -9.5" fill="none" stroke="#0c0c0c" stroke-width="0.6"/><path id="c4a" d="M-29.03 8.32 A30.2 30.2 0 1 1 29.3 7.31" fill="none"/><path id="c4b" d="M-30.47 21.34 A37.2 37.2 0 0 0 30.47 21.34" fill="none"/><g fill="#fff" stroke="#0c0c0c" stroke-width="2" font-family="Liberation Sans, sans-serif" font-weight="normal" paint-order="stroke" stroke-linejoin="round"><text font-size="9.6"><textPath href="#c4a" textLength="110" lengthAdjust="spacingAndGlyphs">UNITED STATES OF AMERICA</textPath></text><text font-size="13.4"><textPath href="#c4b" textLength="70" lengthAdjust="spacingAndGlyphs">ONE DIME</textPath></text></g></g>
<g transform="translate(396 417) scale(1.005)"><circle r="40.7" fill="#fff" stroke="#0c0c0c" stroke-width="1"/><circle r="39.1" fill="#cfcfcf" stroke="#0c0c0c" stroke-width="0.8"/><text x="0" y="15.8" text-anchor="middle" font-family="Liberation Sans, sans-serif" font-weight="bold" font-size="4.5" fill="#0c0c0c" stroke="#0c0c0c" stroke-width="0.35" textLength="62" lengthAdjust="spacing">• E PLURIBUS UNUM •</text><g fill="#fff" stroke="#0c0c0c" stroke-width="1.15" stroke-linejoin="round"><path d="M-15.49 8.36C-15.55 11.05 -14.88 13.55 -14.73 15.96C-14.57 18.37 -14.88 21.66 -14.54 22.8C-14.19 23.94 -12.95 23.94 -12.64 22.8C-12.32 21.66 -12.6 18.37 -12.64 15.96C-12.67 13.55 -12.83 11.05 -12.83 8.36C-12.83 5.67 -12.56 2.66 -12.64 -0.19C-12.71 -3.04 -12.98 -7.32 -13.3 -8.74C-13.62 -10.17 -14.36 -10.17 -14.54 -8.74C-14.71 -7.32 -14.19 -3.04 -14.35 -0.19C-14.5 2.66 -15.42 5.67 -15.49 8.36Z"/><path d="M13.59 6.46C13.36 9.15 13.36 11.53 13.02 14.06C12.67 16.59 11.43 20.33 11.5 21.66C11.56 22.99 12.83 23.24 13.4 22.04C13.97 20.84 14.54 17.04 14.92 14.44C15.3 11.84 15.52 9.22 15.68 6.46C15.83 3.71 16.09 -0.67 15.87 -2.09C15.64 -3.52 14.73 -3.52 14.35 -2.09C13.97 -0.67 13.81 3.77 13.59 6.46Z"/><ellipse cx="-13.97" cy="-14.63" rx="2.57" ry="5.89" transform="rotate(-4 -13.97 -14.63)"/><ellipse cx="-8.84" cy="-7.6" rx="2.28" ry="5.32" transform="rotate(25 -8.84 -7.6)"/><ellipse cx="-17.96" cy="-13.49" rx="1.81" ry="4.75" transform="rotate(-18 -17.96 -13.49)"/><ellipse cx="-22.52" cy="-3.04" rx="2.38" ry="5.51" transform="rotate(-42 -22.52 -3.04)"/><ellipse cx="-24.42" cy="3.61" rx="2.09" ry="5.13" transform="rotate(-80 -24.42 3.61)"/><ellipse cx="-7.32" cy="2.09" rx="2.09" ry="5.32" transform="rotate(35 -7.32 2.09)"/><ellipse cx="-18.72" cy="1.33" rx="1.81" ry="4.37" transform="rotate(-25 -18.72 1.33)"/><ellipse cx="-4.47" cy="6.08" rx="1.71" ry="3.99" transform="rotate(55 -4.47 6.08)"/><ellipse cx="-17.58" cy="-4.94" rx="1.52" ry="3.8" transform="rotate(-30 -17.58 -4.94)"/><ellipse cx="15.11" cy="-13.87" rx="3.61" ry="5.32" transform="rotate(8 15.11 -13.87)"/><ellipse cx="24.8" cy="-7.03" rx="2.66" ry="5.32" transform="rotate(40 24.8 -7.03)"/><ellipse cx="21" cy="2.85" rx="2.95" ry="4.75" transform="rotate(52 21 2.85)"/><ellipse cx="10.74" cy="-3.04" rx="2.57" ry="4.94" transform="rotate(-20 10.74 -3.04)"/><ellipse cx="26.13" cy="3.61" rx="2.19" ry="3.23" transform="rotate(72 26.13 3.61)"/><ellipse cx="8.08" cy="0.95" rx="1.9" ry="4.18" transform="rotate(-32 8.08 0.95)"/><ellipse cx="17.39" cy="-3.04" rx="1.9" ry="3.8" transform="rotate(20 17.39 -3.04)"/><path d="M-2.66 -13.02C-3.93 -13.7 -2.9 -15.79 -3.33 -17.1C-3.75 -18.41 -5.16 -19.68 -5.23 -20.9C-5.29 -22.12 -4.4 -23.47 -3.71 -24.42C-3.01 -25.37 -1.9 -26.11 -1.05 -26.6C-0.19 -27.09 0.7 -27.49 1.43 -27.36C2.15 -27.23 2.69 -25.78 3.33 -25.84C3.96 -25.9 4.59 -27.74 5.23 -27.74C5.86 -27.74 6.71 -26.79 7.13 -25.84C7.54 -24.89 7.82 -23.47 7.7 -22.04C7.57 -20.62 6.94 -18.79 6.37 -17.29C5.8 -15.79 5.78 -13.73 4.28 -13.02C2.77 -12.3 -1.39 -12.33 -2.66 -13.02Z"/><path d="M-2.76 -10.45 L3.71 -10.45 L2.38 20.71 L-1.05 20.71Z"/><path d="M-3.9 -13.11 L4.85 -13.11 L4.28 -10.07 L-3.33 -10.07Z"/><path d="M-2.38 20.71 L3.9 20.71 L2.95 25.27 L-1.43 25.27Z"/><circle cx="0.67" cy="26.6" r="1.5"/></g><path d="M-0.67 -8.74 L-0.29 19.76M1.24 -8.74 L1.24 19.76M-1.62 -24.42 L-0.48 -16.34M4.28 -24.42 L3.33 -16.34M-14.25 -18.24 L-14.16 -10.64M14.92 -17.1 L14.73 -9.5" fill="none" stroke="#0c0c0c" stroke-width="0.6"/><path id="c5a" d="M-29.03 8.32 A30.2 30.2 0 1 1 29.3 7.31" fill="none"/><path id="c5b" d="M-30.47 21.34 A37.2 37.2 0 0 0 30.47 21.34" fill="none"/><g fill="#fff" stroke="#0c0c0c" stroke-width="2" font-family="Liberation Sans, sans-serif" font-weight="normal" paint-order="stroke" stroke-linejoin="round"><text font-size="9.6"><textPath href="#c5a" textLength="110" lengthAdjust="spacingAndGlyphs">UNITED STATES OF AMERICA</textPath></text><text font-size="13.4"><textPath href="#c5b" textLength="70" lengthAdjust="spacingAndGlyphs">ONE DIME</textPath></text></g></g>
<g transform="translate(126.7 518) scale(1.003)"><circle r="56.9" fill="#fff" stroke="#0c0c0c" stroke-width="1.3"/><circle r="54.4" fill="#cfcfcf" stroke="#0c0c0c" stroke-width="1"/><path d="M-9 -37.25C-11.19 -36.35 -11.96 -35.73 -13.38 -34.38C-14.79 -33.02 -16.46 -30.98 -17.5 -29.12C-18.54 -27.27 -19 -24.92 -19.62 -23.25C-20.25 -21.58 -20.48 -20.58 -21.25 -19.12C-22.02 -17.67 -23.17 -16.27 -24.25 -14.5C-25.33 -12.73 -27.33 -9.96 -27.75 -8.5C-28.17 -7.04 -27.5 -6.42 -26.75 -5.75C-26 -5.08 -23.67 -5.21 -23.25 -4.5C-22.83 -3.79 -24.33 -2.33 -24.25 -1.5C-24.17 -0.67 -22.71 -0.25 -22.75 0.5C-22.79 1.25 -24.42 2.17 -24.5 3C-24.58 3.83 -23.33 4.75 -23.25 5.5C-23.17 6.25 -24.54 6.88 -24 7.5C-23.46 8.12 -21.67 8.88 -20 9.25C-18.33 9.62 -15.42 8.92 -14 9.75C-12.58 10.58 -12.02 12.5 -11.5 14.25C-10.98 16 -10.75 18.17 -10.88 20.25C-11 22.33 -11.56 24.62 -12.25 26.75C-12.94 28.88 -15.54 31.54 -15 33C-14.46 34.46 -11.04 34.85 -9 35.5C-6.96 36.15 -5.46 36.79 -2.75 36.88C-0.04 36.96 4.12 36.56 7.25 36C10.38 35.44 13.88 34.25 16 33.5C18.12 32.75 18.83 31.96 20 31.5C21.17 31.04 21.96 31.12 23 30.75C24.04 30.38 25.29 30.38 26.25 29.25C27.21 28.12 28.25 25.92 28.75 24C29.25 22.08 29.42 19.33 29.25 17.75C29.08 16.17 28.54 15.21 27.75 14.5C26.96 13.79 25.62 13.92 24.5 13.5C23.38 13.08 21.79 12.83 21 12C20.21 11.17 19.71 9.62 19.75 8.5C19.79 7.38 20.42 6.62 21.25 5.25C22.08 3.88 23.85 2.12 24.75 0.25C25.65 -1.62 26.4 -3.71 26.62 -6C26.85 -8.29 26.46 -11 26.12 -13.5C25.79 -16 25.4 -18.5 24.62 -21C23.85 -23.5 22.94 -26.21 21.5 -28.5C20.06 -30.79 18.17 -33.08 16 -34.75C13.83 -36.42 11.21 -37.67 8.5 -38.5C5.79 -39.33 2.67 -39.96 -0.25 -39.75C-3.17 -39.54 -6.81 -38.15 -9 -37.25Z" fill="#fff" stroke="#0c0c0c" stroke-width="1.5" stroke-linejoin="round"/><path d="M-6.5 -34.75C-5.88 -34.96 -4 -36 -2.75 -36C-1.5 -36 0.38 -34.96 1 -34.75M1 -36.62C1.62 -36.31 3.81 -35.58 4.75 -34.75C5.69 -33.92 6.31 -32.15 6.62 -31.62M-2.75 -31.62C-2.12 -31.31 0.17 -30.58 1 -29.75C1.83 -28.92 2.04 -27.15 2.25 -26.62M-7.75 -28.5C-8.27 -27.88 -10.15 -26.1 -10.88 -24.75C-11.6 -23.4 -11.92 -21.1 -12.12 -20.38M-4.62 -26.62C-4.94 -26 -6.29 -24.12 -6.5 -22.88C-6.71 -21.62 -5.98 -19.75 -5.88 -19.12M3.5 -28.5C4.33 -28.19 7.04 -27.46 8.5 -26.62C9.96 -25.79 11.62 -24.02 12.25 -23.5M8.5 -31C9.33 -30.58 12.15 -29.65 13.5 -28.5C14.85 -27.35 16.1 -24.85 16.62 -24.12M-2.75 -18.5C-1.92 -18.19 0.79 -16.73 2.25 -16.62C3.71 -16.52 5.38 -17.67 6 -17.88M1 -22.25C1.83 -22.04 4.44 -21.62 6 -21C7.56 -20.38 9.65 -18.92 10.38 -18.5M12.25 -20.38C13.08 -20.06 16 -19.44 17.25 -18.5C18.5 -17.56 19.33 -15.38 19.75 -14.75M-2.75 -7.25C-1.92 -7.67 0.38 -9.54 2.25 -9.75C4.12 -9.96 6.62 -9.33 8.5 -8.5C10.38 -7.67 12.67 -5.38 13.5 -4.75M-5.88 -2.88C-4.94 -2.98 -1.81 -2.88 -0.25 -3.5C1.31 -4.12 2.88 -6.1 3.5 -6.62M8.5 -3.5C9.33 -3.08 11.83 -1.31 13.5 -1C15.17 -0.69 17.67 -1.52 18.5 -1.62M14.75 -9.75C15.58 -9.85 18.29 -10.79 19.75 -10.38C21.21 -9.96 22.88 -7.77 23.5 -7.25M11 0.25C11.42 1.08 13.12 3.58 13.5 5.25C13.88 6.92 13.29 9.42 13.25 10.25M16 2.75C16.42 3.58 18.17 6.08 18.5 7.75C18.83 9.42 18.08 11.92 18 12.75M8.5 -12.25C9.54 -12.46 12.88 -13.5 14.75 -13.5C16.62 -13.5 18.92 -12.46 19.75 -12.25M3.5 -33.5C4.12 -33.25 6.21 -32.73 7.25 -32C8.29 -31.27 9.33 -29.6 9.75 -29.12M13.5 -32.88C14.23 -32.25 16.73 -30.48 17.88 -29.12C19.02 -27.77 19.96 -25.48 20.38 -24.75M-1.5 -25.38C-0.67 -25.06 2.15 -24.33 3.5 -23.5C4.85 -22.67 6.1 -20.9 6.62 -20.38M4.75 -15.38C5.58 -15.44 8.29 -15.96 9.75 -15.75C11.21 -15.54 12.88 -14.4 13.5 -14.12M-9 -32.88C-9.42 -32.35 -10.92 -30.9 -11.5 -29.75C-12.08 -28.6 -12.33 -26.62 -12.5 -26M18.5 -22.25C19.08 -21.52 21.17 -19.44 22 -17.88C22.83 -16.31 23.25 -13.71 23.5 -12.88M1 -6C1.83 -5.69 4.44 -4.33 6 -4.12C7.56 -3.92 9.65 -4.65 10.38 -4.75M18.5 -6C18.96 -5.17 20.94 -2.67 21.25 -1C21.56 0.67 20.52 3.17 20.38 4M6 -0.38C6.52 0.25 8.71 2.02 9.12 3.38C9.54 4.73 8.6 7.02 8.5 7.75M14.75 10.25C15.12 11.08 16.75 13.58 17 15.25C17.25 16.92 16.38 19.42 16.25 20.25M-5.25 -14.75C-4.62 -14.23 -2.96 -12.04 -1.5 -11.62C-0.04 -11.21 2.67 -12.15 3.5 -12.25M13.5 -18.5C14.02 -17.98 15.79 -16.52 16.62 -15.38C17.46 -14.23 18.19 -12.25 18.5 -11.62M-6.5 3.38C-6.81 3.9 -7.54 5.6 -8.38 6.5C-9.21 7.4 -10.98 8.38 -11.5 8.75M-1.5 15.25 L1 13.38M-4.62 20.25 L-2.12 17.75M-7.75 26.5 L-5.25 23.38M11 10.25C11.1 11.08 11.21 13.58 11.62 15.25C12.04 16.92 13.19 19.42 13.5 20.25M13.5 22.75C13.71 23.38 14.12 25.42 14.75 26.5C15.38 27.58 16.83 28.79 17.25 29.25M-20.25 -17.88C-19.73 -17.98 -18 -18.71 -17.12 -18.5C-16.25 -18.29 -15.35 -16.94 -15 -16.62M-19.25 -14.12C-18.96 -14.27 -18 -15.02 -17.5 -15C-17 -14.98 -16.46 -14.17 -16.25 -14M22 15.25C22.46 16.08 24.38 18.38 24.75 20.25C25.12 22.12 24.79 24.92 24.25 26.5C23.71 28.08 21.96 29.21 21.5 29.75M24.75 15.25C25.08 16.29 26.54 19.42 26.75 21.5C26.96 23.58 26.12 26.71 26 27.75" fill="none" stroke="#0c0c0c" stroke-width="1.05" stroke-linecap="round"/><path d="M-9.62 -13.25C-9 -13.15 -8.1 -11.17 -8 -9.75C-7.9 -8.33 -8.42 -5.83 -9 -4.75C-9.58 -3.67 -10.83 -2.94 -11.5 -3.25C-12.17 -3.56 -12.96 -5.44 -13 -6.62C-13.04 -7.81 -12.31 -9.27 -11.75 -10.38C-11.19 -11.48 -10.25 -13.35 -9.62 -13.25Z" fill="#0c0c0c"/><path id="c6a" d="M-41.04 -3.59 A41.2 41.2 0 0 1 40.97 -4.31" fill="none"/><path id="c6b" d="M-37.43 32.54 A49.6 49.6 0 0 0 38 -31.88" fill="none"/><g fill="#0c0c0c" stroke="#0c0c0c" stroke-width="0.65" font-family="Liberation Sans, sans-serif"><text font-size="12.6"><textPath href="#c6a" textLength="121" lengthAdjust="spacingAndGlyphs">UNITED STATES OF AMERICA</textPath></text><text font-size="12"><textPath href="#c6b" textLength="86" lengthAdjust="spacingAndGlyphs">QUARTER DOLLAR</textPath></text><text x="-44.2" y="21.6" font-size="10.2" stroke-width="0.3" textLength="29" lengthAdjust="spacingAndGlyphs">LIBERTY</text><g font-size="5" font-weight="bold" text-anchor="middle" stroke="none"><text x="36" y="0.8">IN</text><text x="37" y="6.4" textLength="21" lengthAdjust="spacingAndGlyphs">GOD WE</text><text x="36.8" y="11.6" textLength="16" lengthAdjust="spacingAndGlyphs">TRUST</text><text x="36.6" y="21" font-size="4.4">S</text></g></g></g>
<g transform="translate(243.3 518) scale(1.003)"><circle r="56.9" fill="#fff" stroke="#0c0c0c" stroke-width="1.3"/><circle r="54.4" fill="#cfcfcf" stroke="#0c0c0c" stroke-width="1"/><path d="M-9 -37.25C-11.19 -36.35 -11.96 -35.73 -13.38 -34.38C-14.79 -33.02 -16.46 -30.98 -17.5 -29.12C-18.54 -27.27 -19 -24.92 -19.62 -23.25C-20.25 -21.58 -20.48 -20.58 -21.25 -19.12C-22.02 -17.67 -23.17 -16.27 -24.25 -14.5C-25.33 -12.73 -27.33 -9.96 -27.75 -8.5C-28.17 -7.04 -27.5 -6.42 -26.75 -5.75C-26 -5.08 -23.67 -5.21 -23.25 -4.5C-22.83 -3.79 -24.33 -2.33 -24.25 -1.5C-24.17 -0.67 -22.71 -0.25 -22.75 0.5C-22.79 1.25 -24.42 2.17 -24.5 3C-24.58 3.83 -23.33 4.75 -23.25 5.5C-23.17 6.25 -24.54 6.88 -24 7.5C-23.46 8.12 -21.67 8.88 -20 9.25C-18.33 9.62 -15.42 8.92 -14 9.75C-12.58 10.58 -12.02 12.5 -11.5 14.25C-10.98 16 -10.75 18.17 -10.88 20.25C-11 22.33 -11.56 24.62 -12.25 26.75C-12.94 28.88 -15.54 31.54 -15 33C-14.46 34.46 -11.04 34.85 -9 35.5C-6.96 36.15 -5.46 36.79 -2.75 36.88C-0.04 36.96 4.12 36.56 7.25 36C10.38 35.44 13.88 34.25 16 33.5C18.12 32.75 18.83 31.96 20 31.5C21.17 31.04 21.96 31.12 23 30.75C24.04 30.38 25.29 30.38 26.25 29.25C27.21 28.12 28.25 25.92 28.75 24C29.25 22.08 29.42 19.33 29.25 17.75C29.08 16.17 28.54 15.21 27.75 14.5C26.96 13.79 25.62 13.92 24.5 13.5C23.38 13.08 21.79 12.83 21 12C20.21 11.17 19.71 9.62 19.75 8.5C19.79 7.38 20.42 6.62 21.25 5.25C22.08 3.88 23.85 2.12 24.75 0.25C25.65 -1.62 26.4 -3.71 26.62 -6C26.85 -8.29 26.46 -11 26.12 -13.5C25.79 -16 25.4 -18.5 24.62 -21C23.85 -23.5 22.94 -26.21 21.5 -28.5C20.06 -30.79 18.17 -33.08 16 -34.75C13.83 -36.42 11.21 -37.67 8.5 -38.5C5.79 -39.33 2.67 -39.96 -0.25 -39.75C-3.17 -39.54 -6.81 -38.15 -9 -37.25Z" fill="#fff" stroke="#0c0c0c" stroke-width="1.5" stroke-linejoin="round"/><path d="M-6.5 -34.75C-5.88 -34.96 -4 -36 -2.75 -36C-1.5 -36 0.38 -34.96 1 -34.75M1 -36.62C1.62 -36.31 3.81 -35.58 4.75 -34.75C5.69 -33.92 6.31 -32.15 6.62 -31.62M-2.75 -31.62C-2.12 -31.31 0.17 -30.58 1 -29.75C1.83 -28.92 2.04 -27.15 2.25 -26.62M-7.75 -28.5C-8.27 -27.88 -10.15 -26.1 -10.88 -24.75C-11.6 -23.4 -11.92 -21.1 -12.12 -20.38M-4.62 -26.62C-4.94 -26 -6.29 -24.12 -6.5 -22.88C-6.71 -21.62 -5.98 -19.75 -5.88 -19.12M3.5 -28.5C4.33 -28.19 7.04 -27.46 8.5 -26.62C9.96 -25.79 11.62 -24.02 12.25 -23.5M8.5 -31C9.33 -30.58 12.15 -29.65 13.5 -28.5C14.85 -27.35 16.1 -24.85 16.62 -24.12M-2.75 -18.5C-1.92 -18.19 0.79 -16.73 2.25 -16.62C3.71 -16.52 5.38 -17.67 6 -17.88M1 -22.25C1.83 -22.04 4.44 -21.62 6 -21C7.56 -20.38 9.65 -18.92 10.38 -18.5M12.25 -20.38C13.08 -20.06 16 -19.44 17.25 -18.5C18.5 -17.56 19.33 -15.38 19.75 -14.75M-2.75 -7.25C-1.92 -7.67 0.38 -9.54 2.25 -9.75C4.12 -9.96 6.62 -9.33 8.5 -8.5C10.38 -7.67 12.67 -5.38 13.5 -4.75M-5.88 -2.88C-4.94 -2.98 -1.81 -2.88 -0.25 -3.5C1.31 -4.12 2.88 -6.1 3.5 -6.62M8.5 -3.5C9.33 -3.08 11.83 -1.31 13.5 -1C15.17 -0.69 17.67 -1.52 18.5 -1.62M14.75 -9.75C15.58 -9.85 18.29 -10.79 19.75 -10.38C21.21 -9.96 22.88 -7.77 23.5 -7.25M11 0.25C11.42 1.08 13.12 3.58 13.5 5.25C13.88 6.92 13.29 9.42 13.25 10.25M16 2.75C16.42 3.58 18.17 6.08 18.5 7.75C18.83 9.42 18.08 11.92 18 12.75M8.5 -12.25C9.54 -12.46 12.88 -13.5 14.75 -13.5C16.62 -13.5 18.92 -12.46 19.75 -12.25M3.5 -33.5C4.12 -33.25 6.21 -32.73 7.25 -32C8.29 -31.27 9.33 -29.6 9.75 -29.12M13.5 -32.88C14.23 -32.25 16.73 -30.48 17.88 -29.12C19.02 -27.77 19.96 -25.48 20.38 -24.75M-1.5 -25.38C-0.67 -25.06 2.15 -24.33 3.5 -23.5C4.85 -22.67 6.1 -20.9 6.62 -20.38M4.75 -15.38C5.58 -15.44 8.29 -15.96 9.75 -15.75C11.21 -15.54 12.88 -14.4 13.5 -14.12M-9 -32.88C-9.42 -32.35 -10.92 -30.9 -11.5 -29.75C-12.08 -28.6 -12.33 -26.62 -12.5 -26M18.5 -22.25C19.08 -21.52 21.17 -19.44 22 -17.88C22.83 -16.31 23.25 -13.71 23.5 -12.88M1 -6C1.83 -5.69 4.44 -4.33 6 -4.12C7.56 -3.92 9.65 -4.65 10.38 -4.75M18.5 -6C18.96 -5.17 20.94 -2.67 21.25 -1C21.56 0.67 20.52 3.17 20.38 4M6 -0.38C6.52 0.25 8.71 2.02 9.12 3.38C9.54 4.73 8.6 7.02 8.5 7.75M14.75 10.25C15.12 11.08 16.75 13.58 17 15.25C17.25 16.92 16.38 19.42 16.25 20.25M-5.25 -14.75C-4.62 -14.23 -2.96 -12.04 -1.5 -11.62C-0.04 -11.21 2.67 -12.15 3.5 -12.25M13.5 -18.5C14.02 -17.98 15.79 -16.52 16.62 -15.38C17.46 -14.23 18.19 -12.25 18.5 -11.62M-6.5 3.38C-6.81 3.9 -7.54 5.6 -8.38 6.5C-9.21 7.4 -10.98 8.38 -11.5 8.75M-1.5 15.25 L1 13.38M-4.62 20.25 L-2.12 17.75M-7.75 26.5 L-5.25 23.38M11 10.25C11.1 11.08 11.21 13.58 11.62 15.25C12.04 16.92 13.19 19.42 13.5 20.25M13.5 22.75C13.71 23.38 14.12 25.42 14.75 26.5C15.38 27.58 16.83 28.79 17.25 29.25M-20.25 -17.88C-19.73 -17.98 -18 -18.71 -17.12 -18.5C-16.25 -18.29 -15.35 -16.94 -15 -16.62M-19.25 -14.12C-18.96 -14.27 -18 -15.02 -17.5 -15C-17 -14.98 -16.46 -14.17 -16.25 -14M22 15.25C22.46 16.08 24.38 18.38 24.75 20.25C25.12 22.12 24.79 24.92 24.25 26.5C23.71 28.08 21.96 29.21 21.5 29.75M24.75 15.25C25.08 16.29 26.54 19.42 26.75 21.5C26.96 23.58 26.12 26.71 26 27.75" fill="none" stroke="#0c0c0c" stroke-width="1.05" stroke-linecap="round"/><path d="M-9.62 -13.25C-9 -13.15 -8.1 -11.17 -8 -9.75C-7.9 -8.33 -8.42 -5.83 -9 -4.75C-9.58 -3.67 -10.83 -2.94 -11.5 -3.25C-12.17 -3.56 -12.96 -5.44 -13 -6.62C-13.04 -7.81 -12.31 -9.27 -11.75 -10.38C-11.19 -11.48 -10.25 -13.35 -9.62 -13.25Z" fill="#0c0c0c"/><path id="c7a" d="M-41.04 -3.59 A41.2 41.2 0 0 1 40.97 -4.31" fill="none"/><path id="c7b" d="M-37.43 32.54 A49.6 49.6 0 0 0 38 -31.88" fill="none"/><g fill="#0c0c0c" stroke="#0c0c0c" stroke-width="0.65" font-family="Liberation Sans, sans-serif"><text font-size="12.6"><textPath href="#c7a" textLength="121" lengthAdjust="spacingAndGlyphs">UNITED STATES OF AMERICA</textPath></text><text font-size="12"><textPath href="#c7b" textLength="86" lengthAdjust="spacingAndGlyphs">QUARTER DOLLAR</textPath></text><text x="-44.2" y="21.6" font-size="10.2" stroke-width="0.3" textLength="29" lengthAdjust="spacingAndGlyphs">LIBERTY</text><g font-size="5" font-weight="bold" text-anchor="middle" stroke="none"><text x="36" y="0.8">IN</text><text x="37" y="6.4" textLength="21" lengthAdjust="spacingAndGlyphs">GOD WE</text><text x="36.8" y="11.6" textLength="16" lengthAdjust="spacingAndGlyphs">TRUST</text><text x="36.6" y="21" font-size="4.4">S</text></g></g></g>
<g transform="translate(346.5 529.8) scale(1.007)"><circle r="44.2" fill="#ef8a5d" stroke="#1c0d05" stroke-width="1.2"/><circle r="42.6" fill="none" stroke="#2a1408" stroke-width="0.7"/><clipPath id="c8k"><path d="M-22.7 -5.4 L-21.7 1.4 L-19.1 9.4 L-15.1 19.4 L-9.1 29.4 L-0.7 39 L7.7 29.4 L13.7 19.4 L18.7 9.4 L21.7 1.4 L23.3 -5.8 L0.2 -8.2Z"/></clipPath><g fill="#fbcfa8" stroke="#0c0c0c" stroke-width="1.3" stroke-linejoin="round"><path d="M-22.7 -5.4 L-21.7 1.4 L-19.1 9.4 L-15.1 19.4 L-9.1 29.4 L-0.7 39 L7.7 29.4 L13.7 19.4 L18.7 9.4 L21.7 1.4 L23.3 -5.8 L0.2 -8.2Z"/><path d="M-20.8 -7.6 L-20.8 39.4M-17.3 -7.6 L-17.3 39.4M-13.8 -7.6 L-13.8 39.4M-10.3 -7.6 L-10.3 39.4M-6.8 -7.6 L-6.8 39.4M-3.3 -7.6 L-3.3 39.4M0.2 -7.6 L0.2 39.4M3.7 -7.6 L3.7 39.4M7.2 -7.6 L7.2 39.4M10.7 -7.6 L10.7 39.4M14.2 -7.6 L14.2 39.4M17.7 -7.6 L17.7 39.4M21.2 -7.6 L21.2 39.4" fill="none" stroke-width="1" clip-path="url(#c8k)"/><path d="M-24.7 -19.4C-23.52 -20.32 -14.79 -21.04 -12.3 -21.8C-9.81 -22.56 -2.3 -27 0.2 -27C2.7 -27 10.19 -22.56 12.7 -21.8C15.21 -21.04 24.1 -20.32 25.3 -19.4C26.5 -18.48 24.88 -13.94 24.7 -12.6C24.52 -11.26 24.7 -6.52 23.5 -6C22.3 -5.48 15.03 -7.16 12.7 -7.4C10.37 -7.64 2.7 -8.4 0.2 -8.4C-2.3 -8.4 -9.99 -7.7 -12.3 -7.4C-14.61 -7.1 -21.72 -4.88 -22.9 -5.4C-24.08 -5.92 -23.92 -11.2 -24.1 -12.6C-24.28 -14 -25.88 -18.48 -24.7 -19.4Z"/><path d="M-23.5 -17.4C-22.38 -17.62 -14.67 -18.88 -12.3 -19.6C-9.93 -20.32 -2.3 -24.6 0.2 -24.6C2.7 -24.6 10.31 -20.32 12.7 -19.6C15.09 -18.88 22.96 -17.62 24.1 -17.4" fill="none" stroke-width="0.6"/><path d="M-31.7 8.6C-29.42 7.04 -27.38 6.12 -21.3 6C-15.22 5.88 -9.3 7.32 -1.3 8C6.7 8.68 12.7 9.36 18.7 9.4C24.7 9.44 26.14 9.2 28.7 8.2C31.26 7.2 30.34 5.48 31.5 4.4C32.66 3.32 33.58 2.6 34.5 2.8C35.42 3 36.14 4.08 36.1 5.4C36.06 6.72 35.18 8.04 34.3 9.4C33.42 10.76 32.34 9.8 31.7 12.2C31.06 14.6 33.7 19.24 31.1 21.4C28.5 23.56 25.18 22.88 18.7 23C12.22 23.12 6.7 22.6 -1.3 22C-9.3 21.4 -16.02 20.12 -21.3 20C-26.58 19.88 -26.14 20.32 -27.7 21.4C-29.26 22.48 -28.26 24.68 -29.1 25.4C-29.94 26.12 -31.1 26.16 -31.9 25C-32.7 23.84 -32.94 21.84 -33.1 19.6C-33.26 17.36 -32.98 16 -32.7 13.8C-32.42 11.6 -33.98 10.16 -31.7 8.6Z"/></g><g font-family="Liberation Sans, sans-serif" font-weight="bold"><text x="0" y="-10.4" text-anchor="middle" font-size="6.4" fill="#0c0c0c" stroke="#0c0c0c" stroke-width="0.3" textLength="45" lengthAdjust="spacingAndGlyphs">E PLURIBUS UNUM</text><text x="-0.6" y="20.2" text-anchor="middle" font-size="14" fill="#fbcfa8" stroke="#0c0c0c" stroke-width="2.4" stroke-linejoin="round" paint-order="stroke" textLength="56" lengthAdjust="spacingAndGlyphs" transform="rotate(1.5)">ONE CENT</text><path id="c8a" d="M-33.98 1.19 A34 34 0 1 1 33.98 1.19" fill="none"/><text font-size="9.8" fill="#0c0603" stroke="#0c0603" stroke-width="0.4" font-weight="normal"><textPath href="#c8a" textLength="108" lengthAdjust="spacingAndGlyphs">UNITED STATES OF AMERICA</textPath></text></g></g>
<g transform="translate(438.7 529.8) scale(1.007)"><circle r="44.2" fill="#ef8a5d" stroke="#1c0d05" stroke-width="1.2"/><circle r="42.6" fill="none" stroke="#2a1408" stroke-width="0.7"/><clipPath id="c9k"><path d="M-22.7 -5.4 L-21.7 1.4 L-19.1 9.4 L-15.1 19.4 L-9.1 29.4 L-0.7 39 L7.7 29.4 L13.7 19.4 L18.7 9.4 L21.7 1.4 L23.3 -5.8 L0.2 -8.2Z"/></clipPath><g fill="#fbcfa8" stroke="#0c0c0c" stroke-width="1.3" stroke-linejoin="round"><path d="M-22.7 -5.4 L-21.7 1.4 L-19.1 9.4 L-15.1 19.4 L-9.1 29.4 L-0.7 39 L7.7 29.4 L13.7 19.4 L18.7 9.4 L21.7 1.4 L23.3 -5.8 L0.2 -8.2Z"/><path d="M-20.8 -7.6 L-20.8 39.4M-17.3 -7.6 L-17.3 39.4M-13.8 -7.6 L-13.8 39.4M-10.3 -7.6 L-10.3 39.4M-6.8 -7.6 L-6.8 39.4M-3.3 -7.6 L-3.3 39.4M0.2 -7.6 L0.2 39.4M3.7 -7.6 L3.7 39.4M7.2 -7.6 L7.2 39.4M10.7 -7.6 L10.7 39.4M14.2 -7.6 L14.2 39.4M17.7 -7.6 L17.7 39.4M21.2 -7.6 L21.2 39.4" fill="none" stroke-width="1" clip-path="url(#c9k)"/><path d="M-24.7 -19.4C-23.52 -20.32 -14.79 -21.04 -12.3 -21.8C-9.81 -22.56 -2.3 -27 0.2 -27C2.7 -27 10.19 -22.56 12.7 -21.8C15.21 -21.04 24.1 -20.32 25.3 -19.4C26.5 -18.48 24.88 -13.94 24.7 -12.6C24.52 -11.26 24.7 -6.52 23.5 -6C22.3 -5.48 15.03 -7.16 12.7 -7.4C10.37 -7.64 2.7 -8.4 0.2 -8.4C-2.3 -8.4 -9.99 -7.7 -12.3 -7.4C-14.61 -7.1 -21.72 -4.88 -22.9 -5.4C-24.08 -5.92 -23.92 -11.2 -24.1 -12.6C-24.28 -14 -25.88 -18.48 -24.7 -19.4Z"/><path d="M-23.5 -17.4C-22.38 -17.62 -14.67 -18.88 -12.3 -19.6C-9.93 -20.32 -2.3 -24.6 0.2 -24.6C2.7 -24.6 10.31 -20.32 12.7 -19.6C15.09 -18.88 22.96 -17.62 24.1 -17.4" fill="none" stroke-width="0.6"/><path d="M-31.7 8.6C-29.42 7.04 -27.38 6.12 -21.3 6C-15.22 5.88 -9.3 7.32 -1.3 8C6.7 8.68 12.7 9.36 18.7 9.4C24.7 9.44 26.14 9.2 28.7 8.2C31.26 7.2 30.34 5.48 31.5 4.4C32.66 3.32 33.58 2.6 34.5 2.8C35.42 3 36.14 4.08 36.1 5.4C36.06 6.72 35.18 8.04 34.3 9.4C33.42 10.76 32.34 9.8 31.7 12.2C31.06 14.6 33.7 19.24 31.1 21.4C28.5 23.56 25.18 22.88 18.7 23C12.22 23.12 6.7 22.6 -1.3 22C-9.3 21.4 -16.02 20.12 -21.3 20C-26.58 19.88 -26.14 20.32 -27.7 21.4C-29.26 22.48 -28.26 24.68 -29.1 25.4C-29.94 26.12 -31.1 26.16 -31.9 25C-32.7 23.84 -32.94 21.84 -33.1 19.6C-33.26 17.36 -32.98 16 -32.7 13.8C-32.42 11.6 -33.98 10.16 -31.7 8.6Z"/></g><g font-family="Liberation Sans, sans-serif" font-weight="bold"><text x="0" y="-10.4" text-anchor="middle" font-size="6.4" fill="#0c0c0c" stroke="#0c0c0c" stroke-width="0.3" textLength="45" lengthAdjust="spacingAndGlyphs">E PLURIBUS UNUM</text><text x="-0.6" y="20.2" text-anchor="middle" font-size="14" fill="#fbcfa8" stroke="#0c0c0c" stroke-width="2.4" stroke-linejoin="round" paint-order="stroke" textLength="56" lengthAdjust="spacingAndGlyphs" transform="rotate(1.5)">ONE CENT</text><path id="c9a" d="M-33.98 1.19 A34 34 0 1 1 33.98 1.19" fill="none"/><text font-size="9.8" fill="#0c0603" stroke="#0c0603" stroke-width="0.4" font-weight="normal"><textPath href="#c9a" textLength="108" lengthAdjust="spacingAndGlyphs">UNITED STATES OF AMERICA</textPath></text></g></g>
<g transform="translate(531 529.8) scale(1.007)"><circle r="44.2" fill="#ef8a5d" stroke="#1c0d05" stroke-width="1.2"/><circle r="42.6" fill="none" stroke="#2a1408" stroke-width="0.7"/><clipPath id="c10k"><path d="M-22.7 -5.4 L-21.7 1.4 L-19.1 9.4 L-15.1 19.4 L-9.1 29.4 L-0.7 39 L7.7 29.4 L13.7 19.4 L18.7 9.4 L21.7 1.4 L23.3 -5.8 L0.2 -8.2Z"/></clipPath><g fill="#fbcfa8" stroke="#0c0c0c" stroke-width="1.3" stroke-linejoin="round"><path d="M-22.7 -5.4 L-21.7 1.4 L-19.1 9.4 L-15.1 19.4 L-9.1 29.4 L-0.7 39 L7.7 29.4 L13.7 19.4 L18.7 9.4 L21.7 1.4 L23.3 -5.8 L0.2 -8.2Z"/><path d="M-20.8 -7.6 L-20.8 39.4M-17.3 -7.6 L-17.3 39.4M-13.8 -7.6 L-13.8 39.4M-10.3 -7.6 L-10.3 39.4M-6.8 -7.6 L-6.8 39.4M-3.3 -7.6 L-3.3 39.4M0.2 -7.6 L0.2 39.4M3.7 -7.6 L3.7 39.4M7.2 -7.6 L7.2 39.4M10.7 -7.6 L10.7 39.4M14.2 -7.6 L14.2 39.4M17.7 -7.6 L17.7 39.4M21.2 -7.6 L21.2 39.4" fill="none" stroke-width="1" clip-path="url(#c10k)"/><path d="M-24.7 -19.4C-23.52 -20.32 -14.79 -21.04 -12.3 -21.8C-9.81 -22.56 -2.3 -27 0.2 -27C2.7 -27 10.19 -22.56 12.7 -21.8C15.21 -21.04 24.1 -20.32 25.3 -19.4C26.5 -18.48 24.88 -13.94 24.7 -12.6C24.52 -11.26 24.7 -6.52 23.5 -6C22.3 -5.48 15.03 -7.16 12.7 -7.4C10.37 -7.64 2.7 -8.4 0.2 -8.4C-2.3 -8.4 -9.99 -7.7 -12.3 -7.4C-14.61 -7.1 -21.72 -4.88 -22.9 -5.4C-24.08 -5.92 -23.92 -11.2 -24.1 -12.6C-24.28 -14 -25.88 -18.48 -24.7 -19.4Z"/><path d="M-23.5 -17.4C-22.38 -17.62 -14.67 -18.88 -12.3 -19.6C-9.93 -20.32 -2.3 -24.6 0.2 -24.6C2.7 -24.6 10.31 -20.32 12.7 -19.6C15.09 -18.88 22.96 -17.62 24.1 -17.4" fill="none" stroke-width="0.6"/><path d="M-31.7 8.6C-29.42 7.04 -27.38 6.12 -21.3 6C-15.22 5.88 -9.3 7.32 -1.3 8C6.7 8.68 12.7 9.36 18.7 9.4C24.7 9.44 26.14 9.2 28.7 8.2C31.26 7.2 30.34 5.48 31.5 4.4C32.66 3.32 33.58 2.6 34.5 2.8C35.42 3 36.14 4.08 36.1 5.4C36.06 6.72 35.18 8.04 34.3 9.4C33.42 10.76 32.34 9.8 31.7 12.2C31.06 14.6 33.7 19.24 31.1 21.4C28.5 23.56 25.18 22.88 18.7 23C12.22 23.12 6.7 22.6 -1.3 22C-9.3 21.4 -16.02 20.12 -21.3 20C-26.58 19.88 -26.14 20.32 -27.7 21.4C-29.26 22.48 -28.26 24.68 -29.1 25.4C-29.94 26.12 -31.1 26.16 -31.9 25C-32.7 23.84 -32.94 21.84 -33.1 19.6C-33.26 17.36 -32.98 16 -32.7 13.8C-32.42 11.6 -33.98 10.16 -31.7 8.6Z"/></g><g font-family="Liberation Sans, sans-serif" font-weight="bold"><text x="0" y="-10.4" text-anchor="middle" font-size="6.4" fill="#0c0c0c" stroke="#0c0c0c" stroke-width="0.3" textLength="45" lengthAdjust="spacingAndGlyphs">E PLURIBUS UNUM</text><text x="-0.6" y="20.2" text-anchor="middle" font-size="14" fill="#fbcfa8" stroke="#0c0c0c" stroke-width="2.4" stroke-linejoin="round" paint-order="stroke" textLength="56" lengthAdjust="spacingAndGlyphs" transform="rotate(1.5)">ONE CENT</text><path id="c10a" d="M-33.98 1.19 A34 34 0 1 1 33.98 1.19" fill="none"/><text font-size="9.8" fill="#0c0603" stroke="#0c0603" stroke-width="0.4" font-weight="normal"><textPath href="#c10a" textLength="108" lengthAdjust="spacingAndGlyphs">UNITED STATES OF AMERICA</textPath></text></g></g>
<g transform="translate(110 634.8) scale(1.005)"><circle r="40.7" fill="#fff" stroke="#0c0c0c" stroke-width="1"/><circle r="39.1" fill="#cfcfcf" stroke="#0c0c0c" stroke-width="0.8"/><text x="0" y="15.8" text-anchor="middle" font-family="Liberation Sans, sans-serif" font-weight="bold" font-size="4.5" fill="#0c0c0c" stroke="#0c0c0c" stroke-width="0.35" textLength="62" lengthAdjust="spacing">• E PLURIBUS UNUM •</text><g fill="#fff" stroke="#0c0c0c" stroke-width="1.15" stroke-linejoin="round"><path d="M-15.49 8.36C-15.55 11.05 -14.88 13.55 -14.73 15.96C-14.57 18.37 -14.88 21.66 -14.54 22.8C-14.19 23.94 -12.95 23.94 -12.64 22.8C-12.32 21.66 -12.6 18.37 -12.64 15.96C-12.67 13.55 -12.83 11.05 -12.83 8.36C-12.83 5.67 -12.56 2.66 -12.64 -0.19C-12.71 -3.04 -12.98 -7.32 -13.3 -8.74C-13.62 -10.17 -14.36 -10.17 -14.54 -8.74C-14.71 -7.32 -14.19 -3.04 -14.35 -0.19C-14.5 2.66 -15.42 5.67 -15.49 8.36Z"/><path d="M13.59 6.46C13.36 9.15 13.36 11.53 13.02 14.06C12.67 16.59 11.43 20.33 11.5 21.66C11.56 22.99 12.83 23.24 13.4 22.04C13.97 20.84 14.54 17.04 14.92 14.44C15.3 11.84 15.52 9.22 15.68 6.46C15.83 3.71 16.09 -0.67 15.87 -2.09C15.64 -3.52 14.73 -3.52 14.35 -2.09C13.97 -0.67 13.81 3.77 13.59 6.46Z"/><ellipse cx="-13.97" cy="-14.63" rx="2.57" ry="5.89" transform="rotate(-4 -13.97 -14.63)"/><ellipse cx="-8.84" cy="-7.6" rx="2.28" ry="5.32" transform="rotate(25 -8.84 -7.6)"/><ellipse cx="-17.96" cy="-13.49" rx="1.81" ry="4.75" transform="rotate(-18 -17.96 -13.49)"/><ellipse cx="-22.52" cy="-3.04" rx="2.38" ry="5.51" transform="rotate(-42 -22.52 -3.04)"/><ellipse cx="-24.42" cy="3.61" rx="2.09" ry="5.13" transform="rotate(-80 -24.42 3.61)"/><ellipse cx="-7.32" cy="2.09" rx="2.09" ry="5.32" transform="rotate(35 -7.32 2.09)"/><ellipse cx="-18.72" cy="1.33" rx="1.81" ry="4.37" transform="rotate(-25 -18.72 1.33)"/><ellipse cx="-4.47" cy="6.08" rx="1.71" ry="3.99" transform="rotate(55 -4.47 6.08)"/><ellipse cx="-17.58" cy="-4.94" rx="1.52" ry="3.8" transform="rotate(-30 -17.58 -4.94)"/><ellipse cx="15.11" cy="-13.87" rx="3.61" ry="5.32" transform="rotate(8 15.11 -13.87)"/><ellipse cx="24.8" cy="-7.03" rx="2.66" ry="5.32" transform="rotate(40 24.8 -7.03)"/><ellipse cx="21" cy="2.85" rx="2.95" ry="4.75" transform="rotate(52 21 2.85)"/><ellipse cx="10.74" cy="-3.04" rx="2.57" ry="4.94" transform="rotate(-20 10.74 -3.04)"/><ellipse cx="26.13" cy="3.61" rx="2.19" ry="3.23" transform="rotate(72 26.13 3.61)"/><ellipse cx="8.08" cy="0.95" rx="1.9" ry="4.18" transform="rotate(-32 8.08 0.95)"/><ellipse cx="17.39" cy="-3.04" rx="1.9" ry="3.8" transform="rotate(20 17.39 -3.04)"/><path d="M-2.66 -13.02C-3.93 -13.7 -2.9 -15.79 -3.33 -17.1C-3.75 -18.41 -5.16 -19.68 -5.23 -20.9C-5.29 -22.12 -4.4 -23.47 -3.71 -24.42C-3.01 -25.37 -1.9 -26.11 -1.05 -26.6C-0.19 -27.09 0.7 -27.49 1.43 -27.36C2.15 -27.23 2.69 -25.78 3.33 -25.84C3.96 -25.9 4.59 -27.74 5.23 -27.74C5.86 -27.74 6.71 -26.79 7.13 -25.84C7.54 -24.89 7.82 -23.47 7.7 -22.04C7.57 -20.62 6.94 -18.79 6.37 -17.29C5.8 -15.79 5.78 -13.73 4.28 -13.02C2.77 -12.3 -1.39 -12.33 -2.66 -13.02Z"/><path d="M-2.76 -10.45 L3.71 -10.45 L2.38 20.71 L-1.05 20.71Z"/><path d="M-3.9 -13.11 L4.85 -13.11 L4.28 -10.07 L-3.33 -10.07Z"/><path d="M-2.38 20.71 L3.9 20.71 L2.95 25.27 L-1.43 25.27Z"/><circle cx="0.67" cy="26.6" r="1.5"/></g><path d="M-0.67 -8.74 L-0.29 19.76M1.24 -8.74 L1.24 19.76M-1.62 -24.42 L-0.48 -16.34M4.28 -24.42 L3.33 -16.34M-14.25 -18.24 L-14.16 -10.64M14.92 -17.1 L14.73 -9.5" fill="none" stroke="#0c0c0c" stroke-width="0.6"/><path id="c11a" d="M-29.03 8.32 A30.2 30.2 0 1 1 29.3 7.31" fill="none"/><path id="c11b" d="M-30.47 21.34 A37.2 37.2 0 0 0 30.47 21.34" fill="none"/><g fill="#fff" stroke="#0c0c0c" stroke-width="2" font-family="Liberation Sans, sans-serif" font-weight="normal" paint-order="stroke" stroke-linejoin="round"><text font-size="9.6"><textPath href="#c11a" textLength="110" lengthAdjust="spacingAndGlyphs">UNITED STATES OF AMERICA</textPath></text><text font-size="13.4"><textPath href="#c11b" textLength="70" lengthAdjust="spacingAndGlyphs">ONE DIME</textPath></text></g></g>
<g transform="translate(194.6 634.8) scale(1.005)"><circle r="40.7" fill="#fff" stroke="#0c0c0c" stroke-width="1"/><circle r="39.1" fill="#cfcfcf" stroke="#0c0c0c" stroke-width="0.8"/><text x="0" y="15.8" text-anchor="middle" font-family="Liberation Sans, sans-serif" font-weight="bold" font-size="4.5" fill="#0c0c0c" stroke="#0c0c0c" stroke-width="0.35" textLength="62" lengthAdjust="spacing">• E PLURIBUS UNUM •</text><g fill="#fff" stroke="#0c0c0c" stroke-width="1.15" stroke-linejoin="round"><path d="M-15.49 8.36C-15.55 11.05 -14.88 13.55 -14.73 15.96C-14.57 18.37 -14.88 21.66 -14.54 22.8C-14.19 23.94 -12.95 23.94 -12.64 22.8C-12.32 21.66 -12.6 18.37 -12.64 15.96C-12.67 13.55 -12.83 11.05 -12.83 8.36C-12.83 5.67 -12.56 2.66 -12.64 -0.19C-12.71 -3.04 -12.98 -7.32 -13.3 -8.74C-13.62 -10.17 -14.36 -10.17 -14.54 -8.74C-14.71 -7.32 -14.19 -3.04 -14.35 -0.19C-14.5 2.66 -15.42 5.67 -15.49 8.36Z"/><path d="M13.59 6.46C13.36 9.15 13.36 11.53 13.02 14.06C12.67 16.59 11.43 20.33 11.5 21.66C11.56 22.99 12.83 23.24 13.4 22.04C13.97 20.84 14.54 17.04 14.92 14.44C15.3 11.84 15.52 9.22 15.68 6.46C15.83 3.71 16.09 -0.67 15.87 -2.09C15.64 -3.52 14.73 -3.52 14.35 -2.09C13.97 -0.67 13.81 3.77 13.59 6.46Z"/><ellipse cx="-13.97" cy="-14.63" rx="2.57" ry="5.89" transform="rotate(-4 -13.97 -14.63)"/><ellipse cx="-8.84" cy="-7.6" rx="2.28" ry="5.32" transform="rotate(25 -8.84 -7.6)"/><ellipse cx="-17.96" cy="-13.49" rx="1.81" ry="4.75" transform="rotate(-18 -17.96 -13.49)"/><ellipse cx="-22.52" cy="-3.04" rx="2.38" ry="5.51" transform="rotate(-42 -22.52 -3.04)"/><ellipse cx="-24.42" cy="3.61" rx="2.09" ry="5.13" transform="rotate(-80 -24.42 3.61)"/><ellipse cx="-7.32" cy="2.09" rx="2.09" ry="5.32" transform="rotate(35 -7.32 2.09)"/><ellipse cx="-18.72" cy="1.33" rx="1.81" ry="4.37" transform="rotate(-25 -18.72 1.33)"/><ellipse cx="-4.47" cy="6.08" rx="1.71" ry="3.99" transform="rotate(55 -4.47 6.08)"/><ellipse cx="-17.58" cy="-4.94" rx="1.52" ry="3.8" transform="rotate(-30 -17.58 -4.94)"/><ellipse cx="15.11" cy="-13.87" rx="3.61" ry="5.32" transform="rotate(8 15.11 -13.87)"/><ellipse cx="24.8" cy="-7.03" rx="2.66" ry="5.32" transform="rotate(40 24.8 -7.03)"/><ellipse cx="21" cy="2.85" rx="2.95" ry="4.75" transform="rotate(52 21 2.85)"/><ellipse cx="10.74" cy="-3.04" rx="2.57" ry="4.94" transform="rotate(-20 10.74 -3.04)"/><ellipse cx="26.13" cy="3.61" rx="2.19" ry="3.23" transform="rotate(72 26.13 3.61)"/><ellipse cx="8.08" cy="0.95" rx="1.9" ry="4.18" transform="rotate(-32 8.08 0.95)"/><ellipse cx="17.39" cy="-3.04" rx="1.9" ry="3.8" transform="rotate(20 17.39 -3.04)"/><path d="M-2.66 -13.02C-3.93 -13.7 -2.9 -15.79 -3.33 -17.1C-3.75 -18.41 -5.16 -19.68 -5.23 -20.9C-5.29 -22.12 -4.4 -23.47 -3.71 -24.42C-3.01 -25.37 -1.9 -26.11 -1.05 -26.6C-0.19 -27.09 0.7 -27.49 1.43 -27.36C2.15 -27.23 2.69 -25.78 3.33 -25.84C3.96 -25.9 4.59 -27.74 5.23 -27.74C5.86 -27.74 6.71 -26.79 7.13 -25.84C7.54 -24.89 7.82 -23.47 7.7 -22.04C7.57 -20.62 6.94 -18.79 6.37 -17.29C5.8 -15.79 5.78 -13.73 4.28 -13.02C2.77 -12.3 -1.39 -12.33 -2.66 -13.02Z"/><path d="M-2.76 -10.45 L3.71 -10.45 L2.38 20.71 L-1.05 20.71Z"/><path d="M-3.9 -13.11 L4.85 -13.11 L4.28 -10.07 L-3.33 -10.07Z"/><path d="M-2.38 20.71 L3.9 20.71 L2.95 25.27 L-1.43 25.27Z"/><circle cx="0.67" cy="26.6" r="1.5"/></g><path d="M-0.67 -8.74 L-0.29 19.76M1.24 -8.74 L1.24 19.76M-1.62 -24.42 L-0.48 -16.34M4.28 -24.42 L3.33 -16.34M-14.25 -18.24 L-14.16 -10.64M14.92 -17.1 L14.73 -9.5" fill="none" stroke="#0c0c0c" stroke-width="0.6"/><path id="c12a" d="M-29.03 8.32 A30.2 30.2 0 1 1 29.3 7.31" fill="none"/><path id="c12b" d="M-30.47 21.34 A37.2 37.2 0 0 0 30.47 21.34" fill="none"/><g fill="#fff" stroke="#0c0c0c" stroke-width="2" font-family="Liberation Sans, sans-serif" font-weight="normal" paint-order="stroke" stroke-linejoin="round"><text font-size="9.6"><textPath href="#c12a" textLength="110" lengthAdjust="spacingAndGlyphs">UNITED STATES OF AMERICA</textPath></text><text font-size="13.4"><textPath href="#c12b" textLength="70" lengthAdjust="spacingAndGlyphs">ONE DIME</textPath></text></g></g>
<g transform="translate(279.2 634.8) scale(1.005)"><circle r="40.7" fill="#fff" stroke="#0c0c0c" stroke-width="1"/><circle r="39.1" fill="#cfcfcf" stroke="#0c0c0c" stroke-width="0.8"/><text x="0" y="15.8" text-anchor="middle" font-family="Liberation Sans, sans-serif" font-weight="bold" font-size="4.5" fill="#0c0c0c" stroke="#0c0c0c" stroke-width="0.35" textLength="62" lengthAdjust="spacing">• E PLURIBUS UNUM •</text><g fill="#fff" stroke="#0c0c0c" stroke-width="1.15" stroke-linejoin="round"><path d="M-15.49 8.36C-15.55 11.05 -14.88 13.55 -14.73 15.96C-14.57 18.37 -14.88 21.66 -14.54 22.8C-14.19 23.94 -12.95 23.94 -12.64 22.8C-12.32 21.66 -12.6 18.37 -12.64 15.96C-12.67 13.55 -12.83 11.05 -12.83 8.36C-12.83 5.67 -12.56 2.66 -12.64 -0.19C-12.71 -3.04 -12.98 -7.32 -13.3 -8.74C-13.62 -10.17 -14.36 -10.17 -14.54 -8.74C-14.71 -7.32 -14.19 -3.04 -14.35 -0.19C-14.5 2.66 -15.42 5.67 -15.49 8.36Z"/><path d="M13.59 6.46C13.36 9.15 13.36 11.53 13.02 14.06C12.67 16.59 11.43 20.33 11.5 21.66C11.56 22.99 12.83 23.24 13.4 22.04C13.97 20.84 14.54 17.04 14.92 14.44C15.3 11.84 15.52 9.22 15.68 6.46C15.83 3.71 16.09 -0.67 15.87 -2.09C15.64 -3.52 14.73 -3.52 14.35 -2.09C13.97 -0.67 13.81 3.77 13.59 6.46Z"/><ellipse cx="-13.97" cy="-14.63" rx="2.57" ry="5.89" transform="rotate(-4 -13.97 -14.63)"/><ellipse cx="-8.84" cy="-7.6" rx="2.28" ry="5.32" transform="rotate(25 -8.84 -7.6)"/><ellipse cx="-17.96" cy="-13.49" rx="1.81" ry="4.75" transform="rotate(-18 -17.96 -13.49)"/><ellipse cx="-22.52" cy="-3.04" rx="2.38" ry="5.51" transform="rotate(-42 -22.52 -3.04)"/><ellipse cx="-24.42" cy="3.61" rx="2.09" ry="5.13" transform="rotate(-80 -24.42 3.61)"/><ellipse cx="-7.32" cy="2.09" rx="2.09" ry="5.32" transform="rotate(35 -7.32 2.09)"/><ellipse cx="-18.72" cy="1.33" rx="1.81" ry="4.37" transform="rotate(-25 -18.72 1.33)"/><ellipse cx="-4.47" cy="6.08" rx="1.71" ry="3.99" transform="rotate(55 -4.47 6.08)"/><ellipse cx="-17.58" cy="-4.94" rx="1.52" ry="3.8" transform="rotate(-30 -17.58 -4.94)"/><ellipse cx="15.11" cy="-13.87" rx="3.61" ry="5.32" transform="rotate(8 15.11 -13.87)"/><ellipse cx="24.8" cy="-7.03" rx="2.66" ry="5.32" transform="rotate(40 24.8 -7.03)"/><ellipse cx="21" cy="2.85" rx="2.95" ry="4.75" transform="rotate(52 21 2.85)"/><ellipse cx="10.74" cy="-3.04" rx="2.57" ry="4.94" transform="rotate(-20 10.74 -3.04)"/><ellipse cx="26.13" cy="3.61" rx="2.19" ry="3.23" transform="rotate(72 26.13 3.61)"/><ellipse cx="8.08" cy="0.95" rx="1.9" ry="4.18" transform="rotate(-32 8.08 0.95)"/><ellipse cx="17.39" cy="-3.04" rx="1.9" ry="3.8" transform="rotate(20 17.39 -3.04)"/><path d="M-2.66 -13.02C-3.93 -13.7 -2.9 -15.79 -3.33 -17.1C-3.75 -18.41 -5.16 -19.68 -5.23 -20.9C-5.29 -22.12 -4.4 -23.47 -3.71 -24.42C-3.01 -25.37 -1.9 -26.11 -1.05 -26.6C-0.19 -27.09 0.7 -27.49 1.43 -27.36C2.15 -27.23 2.69 -25.78 3.33 -25.84C3.96 -25.9 4.59 -27.74 5.23 -27.74C5.86 -27.74 6.71 -26.79 7.13 -25.84C7.54 -24.89 7.82 -23.47 7.7 -22.04C7.57 -20.62 6.94 -18.79 6.37 -17.29C5.8 -15.79 5.78 -13.73 4.28 -13.02C2.77 -12.3 -1.39 -12.33 -2.66 -13.02Z"/><path d="M-2.76 -10.45 L3.71 -10.45 L2.38 20.71 L-1.05 20.71Z"/><path d="M-3.9 -13.11 L4.85 -13.11 L4.28 -10.07 L-3.33 -10.07Z"/><path d="M-2.38 20.71 L3.9 20.71 L2.95 25.27 L-1.43 25.27Z"/><circle cx="0.67" cy="26.6" r="1.5"/></g><path d="M-0.67 -8.74 L-0.29 19.76M1.24 -8.74 L1.24 19.76M-1.62 -24.42 L-0.48 -16.34M4.28 -24.42 L3.33 -16.34M-14.25 -18.24 L-14.16 -10.64M14.92 -17.1 L14.73 -9.5" fill="none" stroke="#0c0c0c" stroke-width="0.6"/><path id="c13a" d="M-29.03 8.32 A30.2 30.2 0 1 1 29.3 7.31" fill="none"/><path id="c13b" d="M-30.47 21.34 A37.2 37.2 0 0 0 30.47 21.34" fill="none"/><g fill="#fff" stroke="#0c0c0c" stroke-width="2" font-family="Liberation Sans, sans-serif" font-weight="normal" paint-order="stroke" stroke-linejoin="round"><text font-size="9.6"><textPath href="#c13a" textLength="110" lengthAdjust="spacingAndGlyphs">UNITED STATES OF AMERICA</textPath></text><text font-size="13.4"><textPath href="#c13b" textLength="70" lengthAdjust="spacingAndGlyphs">ONE DIME</textPath></text></g></g>
<g transform="translate(363.8 634.8) scale(1.005)"><circle r="40.7" fill="#fff" stroke="#0c0c0c" stroke-width="1"/><circle r="39.1" fill="#cfcfcf" stroke="#0c0c0c" stroke-width="0.8"/><text x="0" y="15.8" text-anchor="middle" font-family="Liberation Sans, sans-serif" font-weight="bold" font-size="4.5" fill="#0c0c0c" stroke="#0c0c0c" stroke-width="0.35" textLength="62" lengthAdjust="spacing">• E PLURIBUS UNUM •</text><g fill="#fff" stroke="#0c0c0c" stroke-width="1.15" stroke-linejoin="round"><path d="M-15.49 8.36C-15.55 11.05 -14.88 13.55 -14.73 15.96C-14.57 18.37 -14.88 21.66 -14.54 22.8C-14.19 23.94 -12.95 23.94 -12.64 22.8C-12.32 21.66 -12.6 18.37 -12.64 15.96C-12.67 13.55 -12.83 11.05 -12.83 8.36C-12.83 5.67 -12.56 2.66 -12.64 -0.19C-12.71 -3.04 -12.98 -7.32 -13.3 -8.74C-13.62 -10.17 -14.36 -10.17 -14.54 -8.74C-14.71 -7.32 -14.19 -3.04 -14.35 -0.19C-14.5 2.66 -15.42 5.67 -15.49 8.36Z"/><path d="M13.59 6.46C13.36 9.15 13.36 11.53 13.02 14.06C12.67 16.59 11.43 20.33 11.5 21.66C11.56 22.99 12.83 23.24 13.4 22.04C13.97 20.84 14.54 17.04 14.92 14.44C15.3 11.84 15.52 9.22 15.68 6.46C15.83 3.71 16.09 -0.67 15.87 -2.09C15.64 -3.52 14.73 -3.52 14.35 -2.09C13.97 -0.67 13.81 3.77 13.59 6.46Z"/><ellipse cx="-13.97" cy="-14.63" rx="2.57" ry="5.89" transform="rotate(-4 -13.97 -14.63)"/><ellipse cx="-8.84" cy="-7.6" rx="2.28" ry="5.32" transform="rotate(25 -8.84 -7.6)"/><ellipse cx="-17.96" cy="-13.49" rx="1.81" ry="4.75" transform="rotate(-18 -17.96 -13.49)"/><ellipse cx="-22.52" cy="-3.04" rx="2.38" ry="5.51" transform="rotate(-42 -22.52 -3.04)"/><ellipse cx="-24.42" cy="3.61" rx="2.09" ry="5.13" transform="rotate(-80 -24.42 3.61)"/><ellipse cx="-7.32" cy="2.09" rx="2.09" ry="5.32" transform="rotate(35 -7.32 2.09)"/><ellipse cx="-18.72" cy="1.33" rx="1.81" ry="4.37" transform="rotate(-25 -18.72 1.33)"/><ellipse cx="-4.47" cy="6.08" rx="1.71" ry="3.99" transform="rotate(55 -4.47 6.08)"/><ellipse cx="-17.58" cy="-4.94" rx="1.52" ry="3.8" transform="rotate(-30 -17.58 -4.94)"/><ellipse cx="15.11" cy="-13.87" rx="3.61" ry="5.32" transform="rotate(8 15.11 -13.87)"/><ellipse cx="24.8" cy="-7.03" rx="2.66" ry="5.32" transform="rotate(40 24.8 -7.03)"/><ellipse cx="21" cy="2.85" rx="2.95" ry="4.75" transform="rotate(52 21 2.85)"/><ellipse cx="10.74" cy="-3.04" rx="2.57" ry="4.94" transform="rotate(-20 10.74 -3.04)"/><ellipse cx="26.13" cy="3.61" rx="2.19" ry="3.23" transform="rotate(72 26.13 3.61)"/><ellipse cx="8.08" cy="0.95" rx="1.9" ry="4.18" transform="rotate(-32 8.08 0.95)"/><ellipse cx="17.39" cy="-3.04" rx="1.9" ry="3.8" transform="rotate(20 17.39 -3.04)"/><path d="M-2.66 -13.02C-3.93 -13.7 -2.9 -15.79 -3.33 -17.1C-3.75 -18.41 -5.16 -19.68 -5.23 -20.9C-5.29 -22.12 -4.4 -23.47 -3.71 -24.42C-3.01 -25.37 -1.9 -26.11 -1.05 -26.6C-0.19 -27.09 0.7 -27.49 1.43 -27.36C2.15 -27.23 2.69 -25.78 3.33 -25.84C3.96 -25.9 4.59 -27.74 5.23 -27.74C5.86 -27.74 6.71 -26.79 7.13 -25.84C7.54 -24.89 7.82 -23.47 7.7 -22.04C7.57 -20.62 6.94 -18.79 6.37 -17.29C5.8 -15.79 5.78 -13.73 4.28 -13.02C2.77 -12.3 -1.39 -12.33 -2.66 -13.02Z"/><path d="M-2.76 -10.45 L3.71 -10.45 L2.38 20.71 L-1.05 20.71Z"/><path d="M-3.9 -13.11 L4.85 -13.11 L4.28 -10.07 L-3.33 -10.07Z"/><path d="M-2.38 20.71 L3.9 20.71 L2.95 25.27 L-1.43 25.27Z"/><circle cx="0.67" cy="26.6" r="1.5"/></g><path d="M-0.67 -8.74 L-0.29 19.76M1.24 -8.74 L1.24 19.76M-1.62 -24.42 L-0.48 -16.34M4.28 -24.42 L3.33 -16.34M-14.25 -18.24 L-14.16 -10.64M14.92 -17.1 L14.73 -9.5" fill="none" stroke="#0c0c0c" stroke-width="0.6"/><path id="c14a" d="M-29.03 8.32 A30.2 30.2 0 1 1 29.3 7.31" fill="none"/><path id="c14b" d="M-30.47 21.34 A37.2 37.2 0 0 0 30.47 21.34" fill="none"/><g fill="#fff" stroke="#0c0c0c" stroke-width="2" font-family="Liberation Sans, sans-serif" font-weight="normal" paint-order="stroke" stroke-linejoin="round"><text font-size="9.6"><textPath href="#c14a" textLength="110" lengthAdjust="spacingAndGlyphs">UNITED STATES OF AMERICA</textPath></text><text font-size="13.4"><textPath href="#c14b" textLength="70" lengthAdjust="spacingAndGlyphs">ONE DIME</textPath></text></g></g>
<g transform="translate(448.3 634.8) scale(1.005)"><circle r="40.7" fill="#fff" stroke="#0c0c0c" stroke-width="1"/><circle r="39.1" fill="#cfcfcf" stroke="#0c0c0c" stroke-width="0.8"/><text x="0" y="15.8" text-anchor="middle" font-family="Liberation Sans, sans-serif" font-weight="bold" font-size="4.5" fill="#0c0c0c" stroke="#0c0c0c" stroke-width="0.35" textLength="62" lengthAdjust="spacing">• E PLURIBUS UNUM •</text><g fill="#fff" stroke="#0c0c0c" stroke-width="1.15" stroke-linejoin="round"><path d="M-15.49 8.36C-15.55 11.05 -14.88 13.55 -14.73 15.96C-14.57 18.37 -14.88 21.66 -14.54 22.8C-14.19 23.94 -12.95 23.94 -12.64 22.8C-12.32 21.66 -12.6 18.37 -12.64 15.96C-12.67 13.55 -12.83 11.05 -12.83 8.36C-12.83 5.67 -12.56 2.66 -12.64 -0.19C-12.71 -3.04 -12.98 -7.32 -13.3 -8.74C-13.62 -10.17 -14.36 -10.17 -14.54 -8.74C-14.71 -7.32 -14.19 -3.04 -14.35 -0.19C-14.5 2.66 -15.42 5.67 -15.49 8.36Z"/><path d="M13.59 6.46C13.36 9.15 13.36 11.53 13.02 14.06C12.67 16.59 11.43 20.33 11.5 21.66C11.56 22.99 12.83 23.24 13.4 22.04C13.97 20.84 14.54 17.04 14.92 14.44C15.3 11.84 15.52 9.22 15.68 6.46C15.83 3.71 16.09 -0.67 15.87 -2.09C15.64 -3.52 14.73 -3.52 14.35 -2.09C13.97 -0.67 13.81 3.77 13.59 6.46Z"/><ellipse cx="-13.97" cy="-14.63" rx="2.57" ry="5.89" transform="rotate(-4 -13.97 -14.63)"/><ellipse cx="-8.84" cy="-7.6" rx="2.28" ry="5.32" transform="rotate(25 -8.84 -7.6)"/><ellipse cx="-17.96" cy="-13.49" rx="1.81" ry="4.75" transform="rotate(-18 -17.96 -13.49)"/><ellipse cx="-22.52" cy="-3.04" rx="2.38" ry="5.51" transform="rotate(-42 -22.52 -3.04)"/><ellipse cx="-24.42" cy="3.61" rx="2.09" ry="5.13" transform="rotate(-80 -24.42 3.61)"/><ellipse cx="-7.32" cy="2.09" rx="2.09" ry="5.32" transform="rotate(35 -7.32 2.09)"/><ellipse cx="-18.72" cy="1.33" rx="1.81" ry="4.37" transform="rotate(-25 -18.72 1.33)"/><ellipse cx="-4.47" cy="6.08" rx="1.71" ry="3.99" transform="rotate(55 -4.47 6.08)"/><ellipse cx="-17.58" cy="-4.94" rx="1.52" ry="3.8" transform="rotate(-30 -17.58 -4.94)"/><ellipse cx="15.11" cy="-13.87" rx="3.61" ry="5.32" transform="rotate(8 15.11 -13.87)"/><ellipse cx="24.8" cy="-7.03" rx="2.66" ry="5.32" transform="rotate(40 24.8 -7.03)"/><ellipse cx="21" cy="2.85" rx="2.95" ry="4.75" transform="rotate(52 21 2.85)"/><ellipse cx="10.74" cy="-3.04" rx="2.57" ry="4.94" transform="rotate(-20 10.74 -3.04)"/><ellipse cx="26.13" cy="3.61" rx="2.19" ry="3.23" transform="rotate(72 26.13 3.61)"/><ellipse cx="8.08" cy="0.95" rx="1.9" ry="4.18" transform="rotate(-32 8.08 0.95)"/><ellipse cx="17.39" cy="-3.04" rx="1.9" ry="3.8" transform="rotate(20 17.39 -3.04)"/><path d="M-2.66 -13.02C-3.93 -13.7 -2.9 -15.79 -3.33 -17.1C-3.75 -18.41 -5.16 -19.68 -5.23 -20.9C-5.29 -22.12 -4.4 -23.47 -3.71 -24.42C-3.01 -25.37 -1.9 -26.11 -1.05 -26.6C-0.19 -27.09 0.7 -27.49 1.43 -27.36C2.15 -27.23 2.69 -25.78 3.33 -25.84C3.96 -25.9 4.59 -27.74 5.23 -27.74C5.86 -27.74 6.71 -26.79 7.13 -25.84C7.54 -24.89 7.82 -23.47 7.7 -22.04C7.57 -20.62 6.94 -18.79 6.37 -17.29C5.8 -15.79 5.78 -13.73 4.28 -13.02C2.77 -12.3 -1.39 -12.33 -2.66 -13.02Z"/><path d="M-2.76 -10.45 L3.71 -10.45 L2.38 20.71 L-1.05 20.71Z"/><path d="M-3.9 -13.11 L4.85 -13.11 L4.28 -10.07 L-3.33 -10.07Z"/><path d="M-2.38 20.71 L3.9 20.71 L2.95 25.27 L-1.43 25.27Z"/><circle cx="0.67" cy="26.6" r="1.5"/></g><path d="M-0.67 -8.74 L-0.29 19.76M1.24 -8.74 L1.24 19.76M-1.62 -24.42 L-0.48 -16.34M4.28 -24.42 L3.33 -16.34M-14.25 -18.24 L-14.16 -10.64M14.92 -17.1 L14.73 -9.5" fill="none" stroke="#0c0c0c" stroke-width="0.6"/><path id="c15a" d="M-29.03 8.32 A30.2 30.2 0 1 1 29.3 7.31" fill="none"/><path id="c15b" d="M-30.47 21.34 A37.2 37.2 0 0 0 30.47 21.34" fill="none"/><g fill="#fff" stroke="#0c0c0c" stroke-width="2" font-family="Liberation Sans, sans-serif" font-weight="normal" paint-order="stroke" stroke-linejoin="round"><text font-size="9.6"><textPath href="#c15a" textLength="110" lengthAdjust="spacingAndGlyphs">UNITED STATES OF AMERICA</textPath></text><text font-size="13.4"><textPath href="#c15b" textLength="70" lengthAdjust="spacingAndGlyphs">ONE DIME</textPath></text></g></g>
<g transform="translate(541.8 627) scale(1.006)"><clipPath id="c16k"><circle r="47.3"/></clipPath><circle r="49.6" fill="#fff" stroke="#0c0c0c" stroke-width="1.2"/><circle r="47.5" fill="#cfcfcf"/><g clip-path="url(#c16k)"><path d="M-15.12 -45.25C-13.25 -44.22 -11.2 -43.73 -9.52 -43.5C-7.84 -43.27 -4.11 -43.87 -2.52 -43.5C-0.93 -43.13 1.07 -41.63 2.38 -40.7C3.69 -39.77 6.16 -37.81 7.28 -36.5C8.4 -35.19 10.08 -32.49 10.78 -30.9C11.48 -29.32 12.25 -26.38 12.53 -24.6C12.81 -22.83 12.88 -19.29 12.88 -17.61C12.88 -15.93 12.71 -13.29 12.53 -12.01C12.34 -10.73 11.15 -9.11 11.48 -8.02C11.8 -6.93 14.58 -5.03 14.98 -3.82C15.37 -2.61 14.96 -0.04 14.42 1.08C13.87 2.2 11.68 3.92 10.92 4.58C10.15 5.23 9.26 5.14 8.68 5.98C8.1 6.82 7.23 9.38 6.58 10.87C5.92 12.37 4.62 15.87 3.78 17.17C2.94 18.48 0.98 19.93 0.28 20.67C-0.42 21.42 -1 21.74 -1.47 22.77C-1.94 23.8 -3.08 26.97 -3.22 28.37C-3.36 29.77 -3.17 31.78 -2.52 33.27C-1.87 34.76 0.37 37.89 1.68 39.57C2.99 41.25 5.97 44.06 7.28 45.86C8.58 47.67 19.87 52.11 11.48 53.07C3.08 54.03 -46.75 66.79 -55.7 53.07C-64.66 39.36 -60 -35.89 -55.7 -49.8C-51.41 -63.7 -28.92 -51.8 -23.51 -51.2C-18.1 -50.59 -16.98 -46.27 -15.12 -45.25Z" fill="#fff" stroke="#0c0c0c" stroke-width="1.1"/><path d="M-49.41 -0.11C-48.85 -2.16 -45.17 1.1 -44.51 1.78C-43.84 2.46 -43.18 5.91 -42.76 6.68C-42.34 7.45 -40.97 8.99 -40.31 9.48C-39.64 9.97 -35.82 10.35 -36.11 11.57C-36.4 12.8 -41.85 20.65 -43.25 21.72C-44.65 22.79 -49.49 24.46 -50.1 22.28C-50.72 20.1 -49.97 1.94 -49.41 -0.11Z" fill="#cfcfcf"/><path d="M-8.12 -35.8C-8.21 -35.08 -9.61 -32.28 -8.68 -31.46C-7.74 -30.65 -4.6 -30.94 -2.52 -30.9C-0.44 -30.87 2.26 -31.39 3.78 -31.25C5.3 -31.11 6.11 -30.26 6.58 -30.06M6.58 -30.06C6.65 -29.15 6.55 -26.21 7 -24.6C7.44 -23 8.72 -22.04 9.24 -20.41C9.75 -18.77 10.03 -16.67 10.08 -14.81C10.12 -12.94 9.61 -10.14 9.52 -9.21M-23.51 -30.76C-23.05 -31.49 -21.44 -34.98 -20.71 -35.1C-19.99 -35.22 -19.76 -31.23 -19.17 -31.46C-18.59 -31.7 -17.8 -36.5 -17.21 -36.5C-16.63 -36.5 -16.17 -31.6 -15.68 -31.46C-15.19 -31.32 -14.51 -34.96 -14.28 -35.66M-31.21 -33.7 L-25.47 -39.3M-28.41 -32.16 L-22.67 -37.76M-35.41 -27.26C-34.69 -27.52 -31.19 -29.74 -31.07 -28.8C-30.95 -27.87 -34.83 -22.6 -34.71 -21.67C-34.59 -20.73 -31.09 -22.95 -30.37 -23.21M-29.11 -25.86 L-26.87 -30.2M-37.51 -24.6 L-33.31 -30.9M-39.61 -19.01C-38.91 -18.87 -36.93 -18.42 -35.41 -18.17C-33.89 -17.91 -31.91 -17.23 -30.51 -17.47C-29.11 -17.7 -28.08 -18.96 -27.01 -19.57C-25.94 -20.17 -24.56 -20.85 -24.07 -21.11M-23.51 -30.76C-23.68 -29.97 -24.49 -27.73 -24.49 -26C-24.49 -24.28 -23.91 -22.27 -23.51 -20.41C-23.12 -18.54 -22.35 -15.74 -22.11 -14.81M-40.31 -12.71C-39.96 -12.1 -38.91 -9.19 -38.21 -9.07C-37.51 -8.95 -36.81 -12.13 -36.11 -12.01C-35.41 -11.89 -34.36 -8.98 -34.01 -8.37M-42.41 -0.67 L-37.51 -7.81M-39.26 1.29 L-37.51 5.14M-37.16 0.59 L-35.41 4.44M-35.06 -0.11 L-33.45 3.53M-39.61 -19.01C-40.28 -17.84 -42.73 -14.34 -43.67 -12.01C-44.6 -9.68 -45.07 -7.31 -45.21 -5.01C-45.35 -2.71 -44.62 0.65 -44.51 1.78M-41.01 -14.81 L-42.41 -9.21M-32.61 -9.21C-32.38 -8.28 -31.33 -5.24 -31.21 -3.61C-31.09 -1.98 -31.79 -0.11 -31.91 0.59M-44.51 1.78C-44.22 2.59 -43.46 5.39 -42.76 6.68C-42.06 7.96 -41.42 8.66 -40.31 9.48C-39.2 10.29 -36.81 11.22 -36.11 11.57M-36.11 11.57 L-43.25 21.72M-20.36 -13.41C-19.72 -13.85 -18.09 -15.72 -16.52 -16.07C-14.94 -16.42 -12.08 -16.01 -10.92 -15.51C-9.75 -15.01 -9.05 -13.71 -9.52 -13.06C-9.98 -12.4 -12.2 -11.76 -13.72 -11.59C-15.23 -11.41 -17.51 -11.71 -18.61 -12.01C-19.72 -12.31 -20.07 -13.17 -20.36 -13.41M-0.77 -13.41C-0.24 -13.78 1.04 -15.47 2.38 -15.65C3.72 -15.82 6.34 -14.95 7.28 -14.46C8.21 -13.97 8.56 -13.19 7.98 -12.71C7.39 -12.23 5.06 -11.68 3.78 -11.59C2.5 -11.5 1.04 -11.85 0.28 -12.15C-0.48 -12.45 -0.59 -13.2 -0.77 -13.41M-19.66 -16.07C-18.91 -16.3 -16.81 -17.41 -15.12 -17.47C-13.42 -17.53 -10.45 -16.59 -9.52 -16.42M-2.52 -16.07C-1.7 -16.24 0.51 -17.23 2.38 -17.12C4.25 -17 7.63 -15.66 8.68 -15.37M-3.22 -15.02C-2.87 -13.85 -1.77 -10.12 -1.12 -8.02C-0.47 -5.92 0.68 -3.82 0.7 -2.42C0.72 -1.02 -0.33 -0.21 -0.98 0.38C-1.63 0.96 -2.38 1.37 -3.22 1.08C-4.06 0.79 -5.2 -0.91 -6.02 -1.37C-6.83 -1.84 -7.77 -1.66 -8.12 -1.72M-9.52 -4.52 L-13.37 4.58M-13.72 6.33C-12.43 6.4 -8.7 6.7 -6.02 6.75C-3.34 6.79 0.98 6.63 2.38 6.61M-8.47 10.52C-7.88 10.65 -6.19 11.35 -4.97 11.29C-3.74 11.24 -1.76 10.36 -1.12 10.17M-15.12 16.12C-14.88 16.65 -14.88 18.4 -13.72 19.27C-12.55 20.15 -9.98 21.08 -8.12 21.37C-6.25 21.66 -3.98 21.2 -2.52 21.02C-1.06 20.85 0.1 20.44 0.63 20.32M11.48 -6.41C11.65 -5.71 12.53 -3.61 12.53 -2.21C12.53 -0.81 11.65 1.29 11.48 1.99M-28.41 -15.02C-28.53 -13.27 -29.23 -8.02 -29.11 -4.52C-28.99 -1.02 -28.64 2.83 -27.71 5.98C-26.78 9.13 -25.03 12.27 -23.51 14.37C-22 16.47 -19.43 17.87 -18.61 18.57M-27.01 15.07 L-19.31 18.57M-23.51 24.17C-22.11 24.87 -18.15 27.44 -15.12 28.37C-12.08 29.3 -6.95 29.54 -5.32 29.77M-22.11 26.97C-20.48 27.79 -15.47 30.82 -12.32 31.87C-9.17 32.92 -4.74 33.03 -3.22 33.27M-16.52 22.77C-15.82 23.35 -14.07 25.45 -12.32 26.27C-10.57 27.09 -7.07 27.44 -6.02 27.67M-34.01 8.78 L-28.41 22.77M-14.42 36.07C-14.07 37.23 -13.13 41.32 -12.32 43.07C-11.5 44.81 -9.98 45.98 -9.52 46.56M-9.52 40.97 L-6.72 43.76M-3.22 35.37C-2.64 36.3 -1 39.45 0.28 40.97C1.56 42.48 3.78 43.88 4.48 44.46M-20.71 29.98 L-17.91 36.28M0.28 39.78 L4.48 44.67" fill="none" stroke="#0c0c0c" stroke-width="1" stroke-linecap="round" stroke-linejoin="round"/><path d="M-27.71 -12.92 L-27.01 -4.52M-25.61 -11.52 L-24.56 -1.72M-23.51 -10.12 L-21.76 1.08M-21.41 -7.32 L-19.66 4.58M-19.31 -3.82 L-17.91 10.17" fill="none" stroke="#0c0c0c" stroke-width="1.5" stroke-linecap="round"/><path d="M-33.66 6.68 L-22.81 36.77" fill="none" stroke="#0c0c0c" stroke-width="1.7" stroke-linecap="round"/><path d="M-6.72 -14.32 L-4.76 -10.61 L-5.18 -5.01 L-9.66 -4.45 L-7.98 -9.91ZM-21.41 -20.97 L-18.61 -21.81 L-21.97 -14.81Z" fill="#0c0c0c"/><ellipse cx="-13.72" cy="-13.41" rx="2.4" ry="1.5" fill="#0c0c0c"/><ellipse cx="3.78" cy="-13.41" rx="2.4" ry="1.5" fill="#0c0c0c"/></g><circle r="47.5" fill="none" stroke="#0c0c0c" stroke-width="0.9"/><path id="c16a" d="M2.78 -39.8 A39.9 39.9 0 0 1 34.55 19.95" fill="none"/><g fill="#0c0c0c" stroke="#0c0c0c" stroke-width="0.25" font-family="Liberation Sans, sans-serif"><text font-size="7.2"><textPath href="#c16a" textLength="76" lengthAdjust="spacing">IN GOD WE TRUST</textPath></text><text x="3" y="27.3" font-family="Liberation Serif, serif" font-style="italic" font-size="14" textLength="31" lengthAdjust="spacingAndGlyphs" transform="rotate(-6 3 27.3)">Liberty</text><text x="6.4" y="35.7" font-size="7.4" textLength="21.5" lengthAdjust="spacing">2006</text><text x="15.7" y="41.2" font-size="4.6">S</text></g></g>
<g transform="translate(643.6 627) scale(1.006)"><clipPath id="c17k"><circle r="47.3"/></clipPath><circle r="49.6" fill="#fff" stroke="#0c0c0c" stroke-width="1.2"/><circle r="47.5" fill="#cfcfcf"/><g clip-path="url(#c17k)"><path d="M-15.12 -45.25C-13.25 -44.22 -11.2 -43.73 -9.52 -43.5C-7.84 -43.27 -4.11 -43.87 -2.52 -43.5C-0.93 -43.13 1.07 -41.63 2.38 -40.7C3.69 -39.77 6.16 -37.81 7.28 -36.5C8.4 -35.19 10.08 -32.49 10.78 -30.9C11.48 -29.32 12.25 -26.38 12.53 -24.6C12.81 -22.83 12.88 -19.29 12.88 -17.61C12.88 -15.93 12.71 -13.29 12.53 -12.01C12.34 -10.73 11.15 -9.11 11.48 -8.02C11.8 -6.93 14.58 -5.03 14.98 -3.82C15.37 -2.61 14.96 -0.04 14.42 1.08C13.87 2.2 11.68 3.92 10.92 4.58C10.15 5.23 9.26 5.14 8.68 5.98C8.1 6.82 7.23 9.38 6.58 10.87C5.92 12.37 4.62 15.87 3.78 17.17C2.94 18.48 0.98 19.93 0.28 20.67C-0.42 21.42 -1 21.74 -1.47 22.77C-1.94 23.8 -3.08 26.97 -3.22 28.37C-3.36 29.77 -3.17 31.78 -2.52 33.27C-1.87 34.76 0.37 37.89 1.68 39.57C2.99 41.25 5.97 44.06 7.28 45.86C8.58 47.67 19.87 52.11 11.48 53.07C3.08 54.03 -46.75 66.79 -55.7 53.07C-64.66 39.36 -60 -35.89 -55.7 -49.8C-51.41 -63.7 -28.92 -51.8 -23.51 -51.2C-18.1 -50.59 -16.98 -46.27 -15.12 -45.25Z" fill="#fff" stroke="#0c0c0c" stroke-width="1.1"/><path d="M-49.41 -0.11C-48.85 -2.16 -45.17 1.1 -44.51 1.78C-43.84 2.46 -43.18 5.91 -42.76 6.68C-42.34 7.45 -40.97 8.99 -40.31 9.48C-39.64 9.97 -35.82 10.35 -36.11 11.57C-36.4 12.8 -41.85 20.65 -43.25 21.72C-44.65 22.79 -49.49 24.46 -50.1 22.28C-50.72 20.1 -49.97 1.94 -49.41 -0.11Z" fill="#cfcfcf"/><path d="M-8.12 -35.8C-8.21 -35.08 -9.61 -32.28 -8.68 -31.46C-7.74 -30.65 -4.6 -30.94 -2.52 -30.9C-0.44 -30.87 2.26 -31.39 3.78 -31.25C5.3 -31.11 6.11 -30.26 6.58 -30.06M6.58 -30.06C6.65 -29.15 6.55 -26.21 7 -24.6C7.44 -23 8.72 -22.04 9.24 -20.41C9.75 -18.77 10.03 -16.67 10.08 -14.81C10.12 -12.94 9.61 -10.14 9.52 -9.21M-23.51 -30.76C-23.05 -31.49 -21.44 -34.98 -20.71 -35.1C-19.99 -35.22 -19.76 -31.23 -19.17 -31.46C-18.59 -31.7 -17.8 -36.5 -17.21 -36.5C-16.63 -36.5 -16.17 -31.6 -15.68 -31.46C-15.19 -31.32 -14.51 -34.96 -14.28 -35.66M-31.21 -33.7 L-25.47 -39.3M-28.41 -32.16 L-22.67 -37.76M-35.41 -27.26C-34.69 -27.52 -31.19 -29.74 -31.07 -28.8C-30.95 -27.87 -34.83 -22.6 -34.71 -21.67C-34.59 -20.73 -31.09 -22.95 -30.37 -23.21M-29.11 -25.86 L-26.87 -30.2M-37.51 -24.6 L-33.31 -30.9M-39.61 -19.01C-38.91 -18.87 -36.93 -18.42 -35.41 -18.17C-33.89 -17.91 -31.91 -17.23 -30.51 -17.47C-29.11 -17.7 -28.08 -18.96 -27.01 -19.57C-25.94 -20.17 -24.56 -20.85 -24.07 -21.11M-23.51 -30.76C-23.68 -29.97 -24.49 -27.73 -24.49 -26C-24.49 -24.28 -23.91 -22.27 -23.51 -20.41C-23.12 -18.54 -22.35 -15.74 -22.11 -14.81M-40.31 -12.71C-39.96 -12.1 -38.91 -9.19 -38.21 -9.07C-37.51 -8.95 -36.81 -12.13 -36.11 -12.01C-35.41 -11.89 -34.36 -8.98 -34.01 -8.37M-42.41 -0.67 L-37.51 -7.81M-39.26 1.29 L-37.51 5.14M-37.16 0.59 L-35.41 4.44M-35.06 -0.11 L-33.45 3.53M-39.61 -19.01C-40.28 -17.84 -42.73 -14.34 -43.67 -12.01C-44.6 -9.68 -45.07 -7.31 -45.21 -5.01C-45.35 -2.71 -44.62 0.65 -44.51 1.78M-41.01 -14.81 L-42.41 -9.21M-32.61 -9.21C-32.38 -8.28 -31.33 -5.24 -31.21 -3.61C-31.09 -1.98 -31.79 -0.11 -31.91 0.59M-44.51 1.78C-44.22 2.59 -43.46 5.39 -42.76 6.68C-42.06 7.96 -41.42 8.66 -40.31 9.48C-39.2 10.29 -36.81 11.22 -36.11 11.57M-36.11 11.57 L-43.25 21.72M-20.36 -13.41C-19.72 -13.85 -18.09 -15.72 -16.52 -16.07C-14.94 -16.42 -12.08 -16.01 -10.92 -15.51C-9.75 -15.01 -9.05 -13.71 -9.52 -13.06C-9.98 -12.4 -12.2 -11.76 -13.72 -11.59C-15.23 -11.41 -17.51 -11.71 -18.61 -12.01C-19.72 -12.31 -20.07 -13.17 -20.36 -13.41M-0.77 -13.41C-0.24 -13.78 1.04 -15.47 2.38 -15.65C3.72 -15.82 6.34 -14.95 7.28 -14.46C8.21 -13.97 8.56 -13.19 7.98 -12.71C7.39 -12.23 5.06 -11.68 3.78 -11.59C2.5 -11.5 1.04 -11.85 0.28 -12.15C-0.48 -12.45 -0.59 -13.2 -0.77 -13.41M-19.66 -16.07C-18.91 -16.3 -16.81 -17.41 -15.12 -17.47C-13.42 -17.53 -10.45 -16.59 -9.52 -16.42M-2.52 -16.07C-1.7 -16.24 0.51 -17.23 2.38 -17.12C4.25 -17 7.63 -15.66 8.68 -15.37M-3.22 -15.02C-2.87 -13.85 -1.77 -10.12 -1.12 -8.02C-0.47 -5.92 0.68 -3.82 0.7 -2.42C0.72 -1.02 -0.33 -0.21 -0.98 0.38C-1.63 0.96 -2.38 1.37 -3.22 1.08C-4.06 0.79 -5.2 -0.91 -6.02 -1.37C-6.83 -1.84 -7.77 -1.66 -8.12 -1.72M-9.52 -4.52 L-13.37 4.58M-13.72 6.33C-12.43 6.4 -8.7 6.7 -6.02 6.75C-3.34 6.79 0.98 6.63 2.38 6.61M-8.47 10.52C-7.88 10.65 -6.19 11.35 -4.97 11.29C-3.74 11.24 -1.76 10.36 -1.12 10.17M-15.12 16.12C-14.88 16.65 -14.88 18.4 -13.72 19.27C-12.55 20.15 -9.98 21.08 -8.12 21.37C-6.25 21.66 -3.98 21.2 -2.52 21.02C-1.06 20.85 0.1 20.44 0.63 20.32M11.48 -6.41C11.65 -5.71 12.53 -3.61 12.53 -2.21C12.53 -0.81 11.65 1.29 11.48 1.99M-28.41 -15.02C-28.53 -13.27 -29.23 -8.02 -29.11 -4.52C-28.99 -1.02 -28.64 2.83 -27.71 5.98C-26.78 9.13 -25.03 12.27 -23.51 14.37C-22 16.47 -19.43 17.87 -18.61 18.57M-27.01 15.07 L-19.31 18.57M-23.51 24.17C-22.11 24.87 -18.15 27.44 -15.12 28.37C-12.08 29.3 -6.95 29.54 -5.32 29.77M-22.11 26.97C-20.48 27.79 -15.47 30.82 -12.32 31.87C-9.17 32.92 -4.74 33.03 -3.22 33.27M-16.52 22.77C-15.82 23.35 -14.07 25.45 -12.32 26.27C-10.57 27.09 -7.07 27.44 -6.02 27.67M-34.01 8.78 L-28.41 22.77M-14.42 36.07C-14.07 37.23 -13.13 41.32 -12.32 43.07C-11.5 44.81 -9.98 45.98 -9.52 46.56M-9.52 40.97 L-6.72 43.76M-3.22 35.37C-2.64 36.3 -1 39.45 0.28 40.97C1.56 42.48 3.78 43.88 4.48 44.46M-20.71 29.98 L-17.91 36.28M0.28 39.78 L4.48 44.67" fill="none" stroke="#0c0c0c" stroke-width="1" stroke-linecap="round" stroke-linejoin="round"/><path d="M-27.71 -12.92 L-27.01 -4.52M-25.61 -11.52 L-24.56 -1.72M-23.51 -10.12 L-21.76 1.08M-21.41 -7.32 L-19.66 4.58M-19.31 -3.82 L-17.91 10.17" fill="none" stroke="#0c0c0c" stroke-width="1.5" stroke-linecap="round"/><path d="M-33.66 6.68 L-22.81 36.77" fill="none" stroke="#0c0c0c" stroke-width="1.7" stroke-linecap="round"/><path d="M-6.72 -14.32 L-4.76 -10.61 L-5.18 -5.01 L-9.66 -4.45 L-7.98 -9.91ZM-21.41 -20.97 L-18.61 -21.81 L-21.97 -14.81Z" fill="#0c0c0c"/><ellipse cx="-13.72" cy="-13.41" rx="2.4" ry="1.5" fill="#0c0c0c"/><ellipse cx="3.78" cy="-13.41" rx="2.4" ry="1.5" fill="#0c0c0c"/></g><circle r="47.5" fill="none" stroke="#0c0c0c" stroke-width="0.9"/><path id="c17a" d="M2.78 -39.8 A39.9 39.9 0 0 1 34.55 19.95" fill="none"/><g fill="#0c0c0c" stroke="#0c0c0c" stroke-width="0.25" font-family="Liberation Sans, sans-serif"><text font-size="7.2"><textPath href="#c17a" textLength="76" lengthAdjust="spacing">IN GOD WE TRUST</textPath></text><text x="3" y="27.3" font-family="Liberation Serif, serif" font-style="italic" font-size="14" textLength="31" lengthAdjust="spacingAndGlyphs" transform="rotate(-6 3 27.3)">Liberty</text><text x="6.4" y="35.7" font-size="7.4" textLength="21.5" lengthAdjust="spacing">2006</text><text x="15.7" y="41.2" font-size="4.6">S</text></g></g>
<g transform="translate(127.1 735.6) scale(1.003)"><circle r="56.9" fill="#fff" stroke="#0c0c0c" stroke-width="1.3"/><circle r="54.4" fill="#cfcfcf" stroke="#0c0c0c" stroke-width="1"/><path d="M-9 -37.25C-11.19 -36.35 -11.96 -35.73 -13.38 -34.38C-14.79 -33.02 -16.46 -30.98 -17.5 -29.12C-18.54 -27.27 -19 -24.92 -19.62 -23.25C-20.25 -21.58 -20.48 -20.58 -21.25 -19.12C-22.02 -17.67 -23.17 -16.27 -24.25 -14.5C-25.33 -12.73 -27.33 -9.96 -27.75 -8.5C-28.17 -7.04 -27.5 -6.42 -26.75 -5.75C-26 -5.08 -23.67 -5.21 -23.25 -4.5C-22.83 -3.79 -24.33 -2.33 -24.25 -1.5C-24.17 -0.67 -22.71 -0.25 -22.75 0.5C-22.79 1.25 -24.42 2.17 -24.5 3C-24.58 3.83 -23.33 4.75 -23.25 5.5C-23.17 6.25 -24.54 6.88 -24 7.5C-23.46 8.12 -21.67 8.88 -20 9.25C-18.33 9.62 -15.42 8.92 -14 9.75C-12.58 10.58 -12.02 12.5 -11.5 14.25C-10.98 16 -10.75 18.17 -10.88 20.25C-11 22.33 -11.56 24.62 -12.25 26.75C-12.94 28.88 -15.54 31.54 -15 33C-14.46 34.46 -11.04 34.85 -9 35.5C-6.96 36.15 -5.46 36.79 -2.75 36.88C-0.04 36.96 4.12 36.56 7.25 36C10.38 35.44 13.88 34.25 16 33.5C18.12 32.75 18.83 31.96 20 31.5C21.17 31.04 21.96 31.12 23 30.75C24.04 30.38 25.29 30.38 26.25 29.25C27.21 28.12 28.25 25.92 28.75 24C29.25 22.08 29.42 19.33 29.25 17.75C29.08 16.17 28.54 15.21 27.75 14.5C26.96 13.79 25.62 13.92 24.5 13.5C23.38 13.08 21.79 12.83 21 12C20.21 11.17 19.71 9.62 19.75 8.5C19.79 7.38 20.42 6.62 21.25 5.25C22.08 3.88 23.85 2.12 24.75 0.25C25.65 -1.62 26.4 -3.71 26.62 -6C26.85 -8.29 26.46 -11 26.12 -13.5C25.79 -16 25.4 -18.5 24.62 -21C23.85 -23.5 22.94 -26.21 21.5 -28.5C20.06 -30.79 18.17 -33.08 16 -34.75C13.83 -36.42 11.21 -37.67 8.5 -38.5C5.79 -39.33 2.67 -39.96 -0.25 -39.75C-3.17 -39.54 -6.81 -38.15 -9 -37.25Z" fill="#fff" stroke="#0c0c0c" stroke-width="1.5" stroke-linejoin="round"/><path d="M-6.5 -34.75C-5.88 -34.96 -4 -36 -2.75 -36C-1.5 -36 0.38 -34.96 1 -34.75M1 -36.62C1.62 -36.31 3.81 -35.58 4.75 -34.75C5.69 -33.92 6.31 -32.15 6.62 -31.62M-2.75 -31.62C-2.12 -31.31 0.17 -30.58 1 -29.75C1.83 -28.92 2.04 -27.15 2.25 -26.62M-7.75 -28.5C-8.27 -27.88 -10.15 -26.1 -10.88 -24.75C-11.6 -23.4 -11.92 -21.1 -12.12 -20.38M-4.62 -26.62C-4.94 -26 -6.29 -24.12 -6.5 -22.88C-6.71 -21.62 -5.98 -19.75 -5.88 -19.12M3.5 -28.5C4.33 -28.19 7.04 -27.46 8.5 -26.62C9.96 -25.79 11.62 -24.02 12.25 -23.5M8.5 -31C9.33 -30.58 12.15 -29.65 13.5 -28.5C14.85 -27.35 16.1 -24.85 16.62 -24.12M-2.75 -18.5C-1.92 -18.19 0.79 -16.73 2.25 -16.62C3.71 -16.52 5.38 -17.67 6 -17.88M1 -22.25C1.83 -22.04 4.44 -21.62 6 -21C7.56 -20.38 9.65 -18.92 10.38 -18.5M12.25 -20.38C13.08 -20.06 16 -19.44 17.25 -18.5C18.5 -17.56 19.33 -15.38 19.75 -14.75M-2.75 -7.25C-1.92 -7.67 0.38 -9.54 2.25 -9.75C4.12 -9.96 6.62 -9.33 8.5 -8.5C10.38 -7.67 12.67 -5.38 13.5 -4.75M-5.88 -2.88C-4.94 -2.98 -1.81 -2.88 -0.25 -3.5C1.31 -4.12 2.88 -6.1 3.5 -6.62M8.5 -3.5C9.33 -3.08 11.83 -1.31 13.5 -1C15.17 -0.69 17.67 -1.52 18.5 -1.62M14.75 -9.75C15.58 -9.85 18.29 -10.79 19.75 -10.38C21.21 -9.96 22.88 -7.77 23.5 -7.25M11 0.25C11.42 1.08 13.12 3.58 13.5 5.25C13.88 6.92 13.29 9.42 13.25 10.25M16 2.75C16.42 3.58 18.17 6.08 18.5 7.75C18.83 9.42 18.08 11.92 18 12.75M8.5 -12.25C9.54 -12.46 12.88 -13.5 14.75 -13.5C16.62 -13.5 18.92 -12.46 19.75 -12.25M3.5 -33.5C4.12 -33.25 6.21 -32.73 7.25 -32C8.29 -31.27 9.33 -29.6 9.75 -29.12M13.5 -32.88C14.23 -32.25 16.73 -30.48 17.88 -29.12C19.02 -27.77 19.96 -25.48 20.38 -24.75M-1.5 -25.38C-0.67 -25.06 2.15 -24.33 3.5 -23.5C4.85 -22.67 6.1 -20.9 6.62 -20.38M4.75 -15.38C5.58 -15.44 8.29 -15.96 9.75 -15.75C11.21 -15.54 12.88 -14.4 13.5 -14.12M-9 -32.88C-9.42 -32.35 -10.92 -30.9 -11.5 -29.75C-12.08 -28.6 -12.33 -26.62 -12.5 -26M18.5 -22.25C19.08 -21.52 21.17 -19.44 22 -17.88C22.83 -16.31 23.25 -13.71 23.5 -12.88M1 -6C1.83 -5.69 4.44 -4.33 6 -4.12C7.56 -3.92 9.65 -4.65 10.38 -4.75M18.5 -6C18.96 -5.17 20.94 -2.67 21.25 -1C21.56 0.67 20.52 3.17 20.38 4M6 -0.38C6.52 0.25 8.71 2.02 9.12 3.38C9.54 4.73 8.6 7.02 8.5 7.75M14.75 10.25C15.12 11.08 16.75 13.58 17 15.25C17.25 16.92 16.38 19.42 16.25 20.25M-5.25 -14.75C-4.62 -14.23 -2.96 -12.04 -1.5 -11.62C-0.04 -11.21 2.67 -12.15 3.5 -12.25M13.5 -18.5C14.02 -17.98 15.79 -16.52 16.62 -15.38C17.46 -14.23 18.19 -12.25 18.5 -11.62M-6.5 3.38C-6.81 3.9 -7.54 5.6 -8.38 6.5C-9.21 7.4 -10.98 8.38 -11.5 8.75M-1.5 15.25 L1 13.38M-4.62 20.25 L-2.12 17.75M-7.75 26.5 L-5.25 23.38M11 10.25C11.1 11.08 11.21 13.58 11.62 15.25C12.04 16.92 13.19 19.42 13.5 20.25M13.5 22.75C13.71 23.38 14.12 25.42 14.75 26.5C15.38 27.58 16.83 28.79 17.25 29.25M-20.25 -17.88C-19.73 -17.98 -18 -18.71 -17.12 -18.5C-16.25 -18.29 -15.35 -16.94 -15 -16.62M-19.25 -14.12C-18.96 -14.27 -18 -15.02 -17.5 -15C-17 -14.98 -16.46 -14.17 -16.25 -14M22 15.25C22.46 16.08 24.38 18.38 24.75 20.25C25.12 22.12 24.79 24.92 24.25 26.5C23.71 28.08 21.96 29.21 21.5 29.75M24.75 15.25C25.08 16.29 26.54 19.42 26.75 21.5C26.96 23.58 26.12 26.71 26 27.75" fill="none" stroke="#0c0c0c" stroke-width="1.05" stroke-linecap="round"/><path d="M-9.62 -13.25C-9 -13.15 -8.1 -11.17 -8 -9.75C-7.9 -8.33 -8.42 -5.83 -9 -4.75C-9.58 -3.67 -10.83 -2.94 -11.5 -3.25C-12.17 -3.56 -12.96 -5.44 -13 -6.62C-13.04 -7.81 -12.31 -9.27 -11.75 -10.38C-11.19 -11.48 -10.25 -13.35 -9.62 -13.25Z" fill="#0c0c0c"/><path id="c18a" d="M-41.04 -3.59 A41.2 41.2 0 0 1 40.97 -4.31" fill="none"/><path id="c18b" d="M-37.43 32.54 A49.6 49.6 0 0 0 38 -31.88" fill="none"/><g fill="#0c0c0c" stroke="#0c0c0c" stroke-width="0.65" font-family="Liberation Sans, sans-serif"><text font-size="12.6"><textPath href="#c18a" textLength="121" lengthAdjust="spacingAndGlyphs">UNITED STATES OF AMERICA</textPath></text><text font-size="12"><textPath href="#c18b" textLength="86" lengthAdjust="spacingAndGlyphs">QUARTER DOLLAR</textPath></text><text x="-44.2" y="21.6" font-size="10.2" stroke-width="0.3" textLength="29" lengthAdjust="spacingAndGlyphs">LIBERTY</text><g font-size="5" font-weight="bold" text-anchor="middle" stroke="none"><text x="36" y="0.8">IN</text><text x="37" y="6.4" textLength="21" lengthAdjust="spacingAndGlyphs">GOD WE</text><text x="36.8" y="11.6" textLength="16" lengthAdjust="spacingAndGlyphs">TRUST</text><text x="36.6" y="21" font-size="4.4">S</text></g></g></g>
<g transform="translate(235.5 743) scale(1.006)"><clipPath id="c19k"><circle r="47.3"/></clipPath><circle r="49.6" fill="#fff" stroke="#0c0c0c" stroke-width="1.2"/><circle r="47.5" fill="#cfcfcf"/><g clip-path="url(#c19k)"><path d="M-15.12 -45.25C-13.25 -44.22 -11.2 -43.73 -9.52 -43.5C-7.84 -43.27 -4.11 -43.87 -2.52 -43.5C-0.93 -43.13 1.07 -41.63 2.38 -40.7C3.69 -39.77 6.16 -37.81 7.28 -36.5C8.4 -35.19 10.08 -32.49 10.78 -30.9C11.48 -29.32 12.25 -26.38 12.53 -24.6C12.81 -22.83 12.88 -19.29 12.88 -17.61C12.88 -15.93 12.71 -13.29 12.53 -12.01C12.34 -10.73 11.15 -9.11 11.48 -8.02C11.8 -6.93 14.58 -5.03 14.98 -3.82C15.37 -2.61 14.96 -0.04 14.42 1.08C13.87 2.2 11.68 3.92 10.92 4.58C10.15 5.23 9.26 5.14 8.68 5.98C8.1 6.82 7.23 9.38 6.58 10.87C5.92 12.37 4.62 15.87 3.78 17.17C2.94 18.48 0.98 19.93 0.28 20.67C-0.42 21.42 -1 21.74 -1.47 22.77C-1.94 23.8 -3.08 26.97 -3.22 28.37C-3.36 29.77 -3.17 31.78 -2.52 33.27C-1.87 34.76 0.37 37.89 1.68 39.57C2.99 41.25 5.97 44.06 7.28 45.86C8.58 47.67 19.87 52.11 11.48 53.07C3.08 54.03 -46.75 66.79 -55.7 53.07C-64.66 39.36 -60 -35.89 -55.7 -49.8C-51.41 -63.7 -28.92 -51.8 -23.51 -51.2C-18.1 -50.59 -16.98 -46.27 -15.12 -45.25Z" fill="#fff" stroke="#0c0c0c" stroke-width="1.1"/><path d="M-49.41 -0.11C-48.85 -2.16 -45.17 1.1 -44.51 1.78C-43.84 2.46 -43.18 5.91 -42.76 6.68C-42.34 7.45 -40.97 8.99 -40.31 9.48C-39.64 9.97 -35.82 10.35 -36.11 11.57C-36.4 12.8 -41.85 20.65 -43.25 21.72C-44.65 22.79 -49.49 24.46 -50.1 22.28C-50.72 20.1 -49.97 1.94 -49.41 -0.11Z" fill="#cfcfcf"/><path d="M-8.12 -35.8C-8.21 -35.08 -9.61 -32.28 -8.68 -31.46C-7.74 -30.65 -4.6 -30.94 -2.52 -30.9C-0.44 -30.87 2.26 -31.39 3.78 -31.25C5.3 -31.11 6.11 -30.26 6.58 -30.06M6.58 -30.06C6.65 -29.15 6.55 -26.21 7 -24.6C7.44 -23 8.72 -22.04 9.24 -20.41C9.75 -18.77 10.03 -16.67 10.08 -14.81C10.12 -12.94 9.61 -10.14 9.52 -9.21M-23.51 -30.76C-23.05 -31.49 -21.44 -34.98 -20.71 -35.1C-19.99 -35.22 -19.76 -31.23 -19.17 -31.46C-18.59 -31.7 -17.8 -36.5 -17.21 -36.5C-16.63 -36.5 -16.17 -31.6 -15.68 -31.46C-15.19 -31.32 -14.51 -34.96 -14.28 -35.66M-31.21 -33.7 L-25.47 -39.3M-28.41 -32.16 L-22.67 -37.76M-35.41 -27.26C-34.69 -27.52 -31.19 -29.74 -31.07 -28.8C-30.95 -27.87 -34.83 -22.6 -34.71 -21.67C-34.59 -20.73 -31.09 -22.95 -30.37 -23.21M-29.11 -25.86 L-26.87 -30.2M-37.51 -24.6 L-33.31 -30.9M-39.61 -19.01C-38.91 -18.87 -36.93 -18.42 -35.41 -18.17C-33.89 -17.91 -31.91 -17.23 -30.51 -17.47C-29.11 -17.7 -28.08 -18.96 -27.01 -19.57C-25.94 -20.17 -24.56 -20.85 -24.07 -21.11M-23.51 -30.76C-23.68 -29.97 -24.49 -27.73 -24.49 -26C-24.49 -24.28 -23.91 -22.27 -23.51 -20.41C-23.12 -18.54 -22.35 -15.74 -22.11 -14.81M-40.31 -12.71C-39.96 -12.1 -38.91 -9.19 -38.21 -9.07C-37.51 -8.95 -36.81 -12.13 -36.11 -12.01C-35.41 -11.89 -34.36 -8.98 -34.01 -8.37M-42.41 -0.67 L-37.51 -7.81M-39.26 1.29 L-37.51 5.14M-37.16 0.59 L-35.41 4.44M-35.06 -0.11 L-33.45 3.53M-39.61 -19.01C-40.28 -17.84 -42.73 -14.34 -43.67 -12.01C-44.6 -9.68 -45.07 -7.31 -45.21 -5.01C-45.35 -2.71 -44.62 0.65 -44.51 1.78M-41.01 -14.81 L-42.41 -9.21M-32.61 -9.21C-32.38 -8.28 -31.33 -5.24 -31.21 -3.61C-31.09 -1.98 -31.79 -0.11 -31.91 0.59M-44.51 1.78C-44.22 2.59 -43.46 5.39 -42.76 6.68C-42.06 7.96 -41.42 8.66 -40.31 9.48C-39.2 10.29 -36.81 11.22 -36.11 11.57M-36.11 11.57 L-43.25 21.72M-20.36 -13.41C-19.72 -13.85 -18.09 -15.72 -16.52 -16.07C-14.94 -16.42 -12.08 -16.01 -10.92 -15.51C-9.75 -15.01 -9.05 -13.71 -9.52 -13.06C-9.98 -12.4 -12.2 -11.76 -13.72 -11.59C-15.23 -11.41 -17.51 -11.71 -18.61 -12.01C-19.72 -12.31 -20.07 -13.17 -20.36 -13.41M-0.77 -13.41C-0.24 -13.78 1.04 -15.47 2.38 -15.65C3.72 -15.82 6.34 -14.95 7.28 -14.46C8.21 -13.97 8.56 -13.19 7.98 -12.71C7.39 -12.23 5.06 -11.68 3.78 -11.59C2.5 -11.5 1.04 -11.85 0.28 -12.15C-0.48 -12.45 -0.59 -13.2 -0.77 -13.41M-19.66 -16.07C-18.91 -16.3 -16.81 -17.41 -15.12 -17.47C-13.42 -17.53 -10.45 -16.59 -9.52 -16.42M-2.52 -16.07C-1.7 -16.24 0.51 -17.23 2.38 -17.12C4.25 -17 7.63 -15.66 8.68 -15.37M-3.22 -15.02C-2.87 -13.85 -1.77 -10.12 -1.12 -8.02C-0.47 -5.92 0.68 -3.82 0.7 -2.42C0.72 -1.02 -0.33 -0.21 -0.98 0.38C-1.63 0.96 -2.38 1.37 -3.22 1.08C-4.06 0.79 -5.2 -0.91 -6.02 -1.37C-6.83 -1.84 -7.77 -1.66 -8.12 -1.72M-9.52 -4.52 L-13.37 4.58M-13.72 6.33C-12.43 6.4 -8.7 6.7 -6.02 6.75C-3.34 6.79 0.98 6.63 2.38 6.61M-8.47 10.52C-7.88 10.65 -6.19 11.35 -4.97 11.29C-3.74 11.24 -1.76 10.36 -1.12 10.17M-15.12 16.12C-14.88 16.65 -14.88 18.4 -13.72 19.27C-12.55 20.15 -9.98 21.08 -8.12 21.37C-6.25 21.66 -3.98 21.2 -2.52 21.02C-1.06 20.85 0.1 20.44 0.63 20.32M11.48 -6.41C11.65 -5.71 12.53 -3.61 12.53 -2.21C12.53 -0.81 11.65 1.29 11.48 1.99M-28.41 -15.02C-28.53 -13.27 -29.23 -8.02 -29.11 -4.52C-28.99 -1.02 -28.64 2.83 -27.71 5.98C-26.78 9.13 -25.03 12.27 -23.51 14.37C-22 16.47 -19.43 17.87 -18.61 18.57M-27.01 15.07 L-19.31 18.57M-23.51 24.17C-22.11 24.87 -18.15 27.44 -15.12 28.37C-12.08 29.3 -6.95 29.54 -5.32 29.77M-22.11 26.97C-20.48 27.79 -15.47 30.82 -12.32 31.87C-9.17 32.92 -4.74 33.03 -3.22 33.27M-16.52 22.77C-15.82 23.35 -14.07 25.45 -12.32 26.27C-10.57 27.09 -7.07 27.44 -6.02 27.67M-34.01 8.78 L-28.41 22.77M-14.42 36.07C-14.07 37.23 -13.13 41.32 -12.32 43.07C-11.5 44.81 -9.98 45.98 -9.52 46.56M-9.52 40.97 L-6.72 43.76M-3.22 35.37C-2.64 36.3 -1 39.45 0.28 40.97C1.56 42.48 3.78 43.88 4.48 44.46M-20.71 29.98 L-17.91 36.28M0.28 39.78 L4.48 44.67" fill="none" stroke="#0c0c0c" stroke-width="1" stroke-linecap="round" stroke-linejoin="round"/><path d="M-27.71 -12.92 L-27.01 -4.52M-25.61 -11.52 L-24.56 -1.72M-23.51 -10.12 L-21.76 1.08M-21.41 -7.32 L-19.66 4.58M-19.31 -3.82 L-17.91 10.17" fill="none" stroke="#0c0c0c" stroke-width="1.5" stroke-linecap="round"/><path d="M-33.66 6.68 L-22.81 36.77" fill="none" stroke="#0c0c0c" stroke-width="1.7" stroke-linecap="round"/><path d="M-6.72 -14.32 L-4.76 -10.61 L-5.18 -5.01 L-9.66 -4.45 L-7.98 -9.91ZM-21.41 -20.97 L-18.61 -21.81 L-21.97 -14.81Z" fill="#0c0c0c"/><ellipse cx="-13.72" cy="-13.41" rx="2.4" ry="1.5" fill="#0c0c0c"/><ellipse cx="3.78" cy="-13.41" rx="2.4" ry="1.5" fill="#0c0c0c"/></g><circle r="47.5" fill="none" stroke="#0c0c0c" stroke-width="0.9"/><path id="c19a" d="M2.78 -39.8 A39.9 39.9 0 0 1 34.55 19.95" fill="none"/><g fill="#0c0c0c" stroke="#0c0c0c" stroke-width="0.25" font-family="Liberation Sans, sans-serif"><text font-size="7.2"><textPath href="#c19a" textLength="76" lengthAdjust="spacing">IN GOD WE TRUST</textPath></text><text x="3" y="27.3" font-family="Liberation Serif, serif" font-style="italic" font-size="14" textLength="31" lengthAdjust="spacingAndGlyphs" transform="rotate(-6 3 27.3)">Liberty</text><text x="6.4" y="35.7" font-size="7.4" textLength="21.5" lengthAdjust="spacing">2006</text><text x="15.7" y="41.2" font-size="4.6">S</text></g></g>
<g transform="translate(337 743) scale(1.006)"><clipPath id="c20k"><circle r="47.3"/></clipPath><circle r="49.6" fill="#fff" stroke="#0c0c0c" stroke-width="1.2"/><circle r="47.5" fill="#cfcfcf"/><g clip-path="url(#c20k)"><path d="M-15.12 -45.25C-13.25 -44.22 -11.2 -43.73 -9.52 -43.5C-7.84 -43.27 -4.11 -43.87 -2.52 -43.5C-0.93 -43.13 1.07 -41.63 2.38 -40.7C3.69 -39.77 6.16 -37.81 7.28 -36.5C8.4 -35.19 10.08 -32.49 10.78 -30.9C11.48 -29.32 12.25 -26.38 12.53 -24.6C12.81 -22.83 12.88 -19.29 12.88 -17.61C12.88 -15.93 12.71 -13.29 12.53 -12.01C12.34 -10.73 11.15 -9.11 11.48 -8.02C11.8 -6.93 14.58 -5.03 14.98 -3.82C15.37 -2.61 14.96 -0.04 14.42 1.08C13.87 2.2 11.68 3.92 10.92 4.58C10.15 5.23 9.26 5.14 8.68 5.98C8.1 6.82 7.23 9.38 6.58 10.87C5.92 12.37 4.62 15.87 3.78 17.17C2.94 18.48 0.98 19.93 0.28 20.67C-0.42 21.42 -1 21.74 -1.47 22.77C-1.94 23.8 -3.08 26.97 -3.22 28.37C-3.36 29.77 -3.17 31.78 -2.52 33.27C-1.87 34.76 0.37 37.89 1.68 39.57C2.99 41.25 5.97 44.06 7.28 45.86C8.58 47.67 19.87 52.11 11.48 53.07C3.08 54.03 -46.75 66.79 -55.7 53.07C-64.66 39.36 -60 -35.89 -55.7 -49.8C-51.41 -63.7 -28.92 -51.8 -23.51 -51.2C-18.1 -50.59 -16.98 -46.27 -15.12 -45.25Z" fill="#fff" stroke="#0c0c0c" stroke-width="1.1"/><path d="M-49.41 -0.11C-48.85 -2.16 -45.17 1.1 -44.51 1.78C-43.84 2.46 -43.18 5.91 -42.76 6.68C-42.34 7.45 -40.97 8.99 -40.31 9.48C-39.64 9.97 -35.82 10.35 -36.11 11.57C-36.4 12.8 -41.85 20.65 -43.25 21.72C-44.65 22.79 -49.49 24.46 -50.1 22.28C-50.72 20.1 -49.97 1.94 -49.41 -0.11Z" fill="#cfcfcf"/><path d="M-8.12 -35.8C-8.21 -35.08 -9.61 -32.28 -8.68 -31.46C-7.74 -30.65 -4.6 -30.94 -2.52 -30.9C-0.44 -30.87 2.26 -31.39 3.78 -31.25C5.3 -31.11 6.11 -30.26 6.58 -30.06M6.58 -30.06C6.65 -29.15 6.55 -26.21 7 -24.6C7.44 -23 8.72 -22.04 9.24 -20.41C9.75 -18.77 10.03 -16.67 10.08 -14.81C10.12 -12.94 9.61 -10.14 9.52 -9.21M-23.51 -30.76C-23.05 -31.49 -21.44 -34.98 -20.71 -35.1C-19.99 -35.22 -19.76 -31.23 -19.17 -31.46C-18.59 -31.7 -17.8 -36.5 -17.21 -36.5C-16.63 -36.5 -16.17 -31.6 -15.68 -31.46C-15.19 -31.32 -14.51 -34.96 -14.28 -35.66M-31.21 -33.7 L-25.47 -39.3M-28.41 -32.16 L-22.67 -37.76M-35.41 -27.26C-34.69 -27.52 -31.19 -29.74 -31.07 -28.8C-30.95 -27.87 -34.83 -22.6 -34.71 -21.67C-34.59 -20.73 -31.09 -22.95 -30.37 -23.21M-29.11 -25.86 L-26.87 -30.2M-37.51 -24.6 L-33.31 -30.9M-39.61 -19.01C-38.91 -18.87 -36.93 -18.42 -35.41 -18.17C-33.89 -17.91 -31.91 -17.23 -30.51 -17.47C-29.11 -17.7 -28.08 -18.96 -27.01 -19.57C-25.94 -20.17 -24.56 -20.85 -24.07 -21.11M-23.51 -30.76C-23.68 -29.97 -24.49 -27.73 -24.49 -26C-24.49 -24.28 -23.91 -22.27 -23.51 -20.41C-23.12 -18.54 -22.35 -15.74 -22.11 -14.81M-40.31 -12.71C-39.96 -12.1 -38.91 -9.19 -38.21 -9.07C-37.51 -8.95 -36.81 -12.13 -36.11 -12.01C-35.41 -11.89 -34.36 -8.98 -34.01 -8.37M-42.41 -0.67 L-37.51 -7.81M-39.26 1.29 L-37.51 5.14M-37.16 0.59 L-35.41 4.44M-35.06 -0.11 L-33.45 3.53M-39.61 -19.01C-40.28 -17.84 -42.73 -14.34 -43.67 -12.01C-44.6 -9.68 -45.07 -7.31 -45.21 -5.01C-45.35 -2.71 -44.62 0.65 -44.51 1.78M-41.01 -14.81 L-42.41 -9.21M-32.61 -9.21C-32.38 -8.28 -31.33 -5.24 -31.21 -3.61C-31.09 -1.98 -31.79 -0.11 -31.91 0.59M-44.51 1.78C-44.22 2.59 -43.46 5.39 -42.76 6.68C-42.06 7.96 -41.42 8.66 -40.31 9.48C-39.2 10.29 -36.81 11.22 -36.11 11.57M-36.11 11.57 L-43.25 21.72M-20.36 -13.41C-19.72 -13.85 -18.09 -15.72 -16.52 -16.07C-14.94 -16.42 -12.08 -16.01 -10.92 -15.51C-9.75 -15.01 -9.05 -13.71 -9.52 -13.06C-9.98 -12.4 -12.2 -11.76 -13.72 -11.59C-15.23 -11.41 -17.51 -11.71 -18.61 -12.01C-19.72 -12.31 -20.07 -13.17 -20.36 -13.41M-0.77 -13.41C-0.24 -13.78 1.04 -15.47 2.38 -15.65C3.72 -15.82 6.34 -14.95 7.28 -14.46C8.21 -13.97 8.56 -13.19 7.98 -12.71C7.39 -12.23 5.06 -11.68 3.78 -11.59C2.5 -11.5 1.04 -11.85 0.28 -12.15C-0.48 -12.45 -0.59 -13.2 -0.77 -13.41M-19.66 -16.07C-18.91 -16.3 -16.81 -17.41 -15.12 -17.47C-13.42 -17.53 -10.45 -16.59 -9.52 -16.42M-2.52 -16.07C-1.7 -16.24 0.51 -17.23 2.38 -17.12C4.25 -17 7.63 -15.66 8.68 -15.37M-3.22 -15.02C-2.87 -13.85 -1.77 -10.12 -1.12 -8.02C-0.47 -5.92 0.68 -3.82 0.7 -2.42C0.72 -1.02 -0.33 -0.21 -0.98 0.38C-1.63 0.96 -2.38 1.37 -3.22 1.08C-4.06 0.79 -5.2 -0.91 -6.02 -1.37C-6.83 -1.84 -7.77 -1.66 -8.12 -1.72M-9.52 -4.52 L-13.37 4.58M-13.72 6.33C-12.43 6.4 -8.7 6.7 -6.02 6.75C-3.34 6.79 0.98 6.63 2.38 6.61M-8.47 10.52C-7.88 10.65 -6.19 11.35 -4.97 11.29C-3.74 11.24 -1.76 10.36 -1.12 10.17M-15.12 16.12C-14.88 16.65 -14.88 18.4 -13.72 19.27C-12.55 20.15 -9.98 21.08 -8.12 21.37C-6.25 21.66 -3.98 21.2 -2.52 21.02C-1.06 20.85 0.1 20.44 0.63 20.32M11.48 -6.41C11.65 -5.71 12.53 -3.61 12.53 -2.21C12.53 -0.81 11.65 1.29 11.48 1.99M-28.41 -15.02C-28.53 -13.27 -29.23 -8.02 -29.11 -4.52C-28.99 -1.02 -28.64 2.83 -27.71 5.98C-26.78 9.13 -25.03 12.27 -23.51 14.37C-22 16.47 -19.43 17.87 -18.61 18.57M-27.01 15.07 L-19.31 18.57M-23.51 24.17C-22.11 24.87 -18.15 27.44 -15.12 28.37C-12.08 29.3 -6.95 29.54 -5.32 29.77M-22.11 26.97C-20.48 27.79 -15.47 30.82 -12.32 31.87C-9.17 32.92 -4.74 33.03 -3.22 33.27M-16.52 22.77C-15.82 23.35 -14.07 25.45 -12.32 26.27C-10.57 27.09 -7.07 27.44 -6.02 27.67M-34.01 8.78 L-28.41 22.77M-14.42 36.07C-14.07 37.23 -13.13 41.32 -12.32 43.07C-11.5 44.81 -9.98 45.98 -9.52 46.56M-9.52 40.97 L-6.72 43.76M-3.22 35.37C-2.64 36.3 -1 39.45 0.28 40.97C1.56 42.48 3.78 43.88 4.48 44.46M-20.71 29.98 L-17.91 36.28M0.28 39.78 L4.48 44.67" fill="none" stroke="#0c0c0c" stroke-width="1" stroke-linecap="round" stroke-linejoin="round"/><path d="M-27.71 -12.92 L-27.01 -4.52M-25.61 -11.52 L-24.56 -1.72M-23.51 -10.12 L-21.76 1.08M-21.41 -7.32 L-19.66 4.58M-19.31 -3.82 L-17.91 10.17" fill="none" stroke="#0c0c0c" stroke-width="1.5" stroke-linecap="round"/><path d="M-33.66 6.68 L-22.81 36.77" fill="none" stroke="#0c0c0c" stroke-width="1.7" stroke-linecap="round"/><path d="M-6.72 -14.32 L-4.76 -10.61 L-5.18 -5.01 L-9.66 -4.45 L-7.98 -9.91ZM-21.41 -20.97 L-18.61 -21.81 L-21.97 -14.81Z" fill="#0c0c0c"/><ellipse cx="-13.72" cy="-13.41" rx="2.4" ry="1.5" fill="#0c0c0c"/><ellipse cx="3.78" cy="-13.41" rx="2.4" ry="1.5" fill="#0c0c0c"/></g><circle r="47.5" fill="none" stroke="#0c0c0c" stroke-width="0.9"/><path id="c20a" d="M2.78 -39.8 A39.9 39.9 0 0 1 34.55 19.95" fill="none"/><g fill="#0c0c0c" stroke="#0c0c0c" stroke-width="0.25" font-family="Liberation Sans, sans-serif"><text font-size="7.2"><textPath href="#c20a" textLength="76" lengthAdjust="spacing">IN GOD WE TRUST</textPath></text><text x="3" y="27.3" font-family="Liberation Serif, serif" font-style="italic" font-size="14" textLength="31" lengthAdjust="spacingAndGlyphs" transform="rotate(-6 3 27.3)">Liberty</text><text x="6.4" y="35.7" font-size="7.4" textLength="21.5" lengthAdjust="spacing">2006</text><text x="15.7" y="41.2" font-size="4.6">S</text></g></g>
<g transform="translate(438.6 743) scale(1.006)"><clipPath id="c21k"><circle r="47.3"/></clipPath><circle r="49.6" fill="#fff" stroke="#0c0c0c" stroke-width="1.2"/><circle r="47.5" fill="#cfcfcf"/><g clip-path="url(#c21k)"><path d="M-15.12 -45.25C-13.25 -44.22 -11.2 -43.73 -9.52 -43.5C-7.84 -43.27 -4.11 -43.87 -2.52 -43.5C-0.93 -43.13 1.07 -41.63 2.38 -40.7C3.69 -39.77 6.16 -37.81 7.28 -36.5C8.4 -35.19 10.08 -32.49 10.78 -30.9C11.48 -29.32 12.25 -26.38 12.53 -24.6C12.81 -22.83 12.88 -19.29 12.88 -17.61C12.88 -15.93 12.71 -13.29 12.53 -12.01C12.34 -10.73 11.15 -9.11 11.48 -8.02C11.8 -6.93 14.58 -5.03 14.98 -3.82C15.37 -2.61 14.96 -0.04 14.42 1.08C13.87 2.2 11.68 3.92 10.92 4.58C10.15 5.23 9.26 5.14 8.68 5.98C8.1 6.82 7.23 9.38 6.58 10.87C5.92 12.37 4.62 15.87 3.78 17.17C2.94 18.48 0.98 19.93 0.28 20.67C-0.42 21.42 -1 21.74 -1.47 22.77C-1.94 23.8 -3.08 26.97 -3.22 28.37C-3.36 29.77 -3.17 31.78 -2.52 33.27C-1.87 34.76 0.37 37.89 1.68 39.57C2.99 41.25 5.97 44.06 7.28 45.86C8.58 47.67 19.87 52.11 11.48 53.07C3.08 54.03 -46.75 66.79 -55.7 53.07C-64.66 39.36 -60 -35.89 -55.7 -49.8C-51.41 -63.7 -28.92 -51.8 -23.51 -51.2C-18.1 -50.59 -16.98 -46.27 -15.12 -45.25Z" fill="#fff" stroke="#0c0c0c" stroke-width="1.1"/><path d="M-49.41 -0.11C-48.85 -2.16 -45.17 1.1 -44.51 1.78C-43.84 2.46 -43.18 5.91 -42.76 6.68C-42.34 7.45 -40.97 8.99 -40.31 9.48C-39.64 9.97 -35.82 10.35 -36.11 11.57C-36.4 12.8 -41.85 20.65 -43.25 21.72C-44.65 22.79 -49.49 24.46 -50.1 22.28C-50.72 20.1 -49.97 1.94 -49.41 -0.11Z" fill="#cfcfcf"/><path d="M-8.12 -35.8C-8.21 -35.08 -9.61 -32.28 -8.68 -31.46C-7.74 -30.65 -4.6 -30.94 -2.52 -30.9C-0.44 -30.87 2.26 -31.39 3.78 -31.25C5.3 -31.11 6.11 -30.26 6.58 -30.06M6.58 -30.06C6.65 -29.15 6.55 -26.21 7 -24.6C7.44 -23 8.72 -22.04 9.24 -20.41C9.75 -18.77 10.03 -16.67 10.08 -14.81C10.12 -12.94 9.61 -10.14 9.52 -9.21M-23.51 -30.76C-23.05 -31.49 -21.44 -34.98 -20.71 -35.1C-19.99 -35.22 -19.76 -31.23 -19.17 -31.46C-18.59 -31.7 -17.8 -36.5 -17.21 -36.5C-16.63 -36.5 -16.17 -31.6 -15.68 -31.46C-15.19 -31.32 -14.51 -34.96 -14.28 -35.66M-31.21 -33.7 L-25.47 -39.3M-28.41 -32.16 L-22.67 -37.76M-35.41 -27.26C-34.69 -27.52 -31.19 -29.74 -31.07 -28.8C-30.95 -27.87 -34.83 -22.6 -34.71 -21.67C-34.59 -20.73 -31.09 -22.95 -30.37 -23.21M-29.11 -25.86 L-26.87 -30.2M-37.51 -24.6 L-33.31 -30.9M-39.61 -19.01C-38.91 -18.87 -36.93 -18.42 -35.41 -18.17C-33.89 -17.91 -31.91 -17.23 -30.51 -17.47C-29.11 -17.7 -28.08 -18.96 -27.01 -19.57C-25.94 -20.17 -24.56 -20.85 -24.07 -21.11M-23.51 -30.76C-23.68 -29.97 -24.49 -27.73 -24.49 -26C-24.49 -24.28 -23.91 -22.27 -23.51 -20.41C-23.12 -18.54 -22.35 -15.74 -22.11 -14.81M-40.31 -12.71C-39.96 -12.1 -38.91 -9.19 -38.21 -9.07C-37.51 -8.95 -36.81 -12.13 -36.11 -12.01C-35.41 -11.89 -34.36 -8.98 -34.01 -8.37M-42.41 -0.67 L-37.51 -7.81M-39.26 1.29 L-37.51 5.14M-37.16 0.59 L-35.41 4.44M-35.06 -0.11 L-33.45 3.53M-39.61 -19.01C-40.28 -17.84 -42.73 -14.34 -43.67 -12.01C-44.6 -9.68 -45.07 -7.31 -45.21 -5.01C-45.35 -2.71 -44.62 0.65 -44.51 1.78M-41.01 -14.81 L-42.41 -9.21M-32.61 -9.21C-32.38 -8.28 -31.33 -5.24 -31.21 -3.61C-31.09 -1.98 -31.79 -0.11 -31.91 0.59M-44.51 1.78C-44.22 2.59 -43.46 5.39 -42.76 6.68C-42.06 7.96 -41.42 8.66 -40.31 9.48C-39.2 10.29 -36.81 11.22 -36.11 11.57M-36.11 11.57 L-43.25 21.72M-20.36 -13.41C-19.72 -13.85 -18.09 -15.72 -16.52 -16.07C-14.94 -16.42 -12.08 -16.01 -10.92 -15.51C-9.75 -15.01 -9.05 -13.71 -9.52 -13.06C-9.98 -12.4 -12.2 -11.76 -13.72 -11.59C-15.23 -11.41 -17.51 -11.71 -18.61 -12.01C-19.72 -12.31 -20.07 -13.17 -20.36 -13.41M-0.77 -13.41C-0.24 -13.78 1.04 -15.47 2.38 -15.65C3.72 -15.82 6.34 -14.95 7.28 -14.46C8.21 -13.97 8.56 -13.19 7.98 -12.71C7.39 -12.23 5.06 -11.68 3.78 -11.59C2.5 -11.5 1.04 -11.85 0.28 -12.15C-0.48 -12.45 -0.59 -13.2 -0.77 -13.41M-19.66 -16.07C-18.91 -16.3 -16.81 -17.41 -15.12 -17.47C-13.42 -17.53 -10.45 -16.59 -9.52 -16.42M-2.52 -16.07C-1.7 -16.24 0.51 -17.23 2.38 -17.12C4.25 -17 7.63 -15.66 8.68 -15.37M-3.22 -15.02C-2.87 -13.85 -1.77 -10.12 -1.12 -8.02C-0.47 -5.92 0.68 -3.82 0.7 -2.42C0.72 -1.02 -0.33 -0.21 -0.98 0.38C-1.63 0.96 -2.38 1.37 -3.22 1.08C-4.06 0.79 -5.2 -0.91 -6.02 -1.37C-6.83 -1.84 -7.77 -1.66 -8.12 -1.72M-9.52 -4.52 L-13.37 4.58M-13.72 6.33C-12.43 6.4 -8.7 6.7 -6.02 6.75C-3.34 6.79 0.98 6.63 2.38 6.61M-8.47 10.52C-7.88 10.65 -6.19 11.35 -4.97 11.29C-3.74 11.24 -1.76 10.36 -1.12 10.17M-15.12 16.12C-14.88 16.65 -14.88 18.4 -13.72 19.27C-12.55 20.15 -9.98 21.08 -8.12 21.37C-6.25 21.66 -3.98 21.2 -2.52 21.02C-1.06 20.85 0.1 20.44 0.63 20.32M11.48 -6.41C11.65 -5.71 12.53 -3.61 12.53 -2.21C12.53 -0.81 11.65 1.29 11.48 1.99M-28.41 -15.02C-28.53 -13.27 -29.23 -8.02 -29.11 -4.52C-28.99 -1.02 -28.64 2.83 -27.71 5.98C-26.78 9.13 -25.03 12.27 -23.51 14.37C-22 16.47 -19.43 17.87 -18.61 18.57M-27.01 15.07 L-19.31 18.57M-23.51 24.17C-22.11 24.87 -18.15 27.44 -15.12 28.37C-12.08 29.3 -6.95 29.54 -5.32 29.77M-22.11 26.97C-20.48 27.79 -15.47 30.82 -12.32 31.87C-9.17 32.92 -4.74 33.03 -3.22 33.27M-16.52 22.77C-15.82 23.35 -14.07 25.45 -12.32 26.27C-10.57 27.09 -7.07 27.44 -6.02 27.67M-34.01 8.78 L-28.41 22.77M-14.42 36.07C-14.07 37.23 -13.13 41.32 -12.32 43.07C-11.5 44.81 -9.98 45.98 -9.52 46.56M-9.52 40.97 L-6.72 43.76M-3.22 35.37C-2.64 36.3 -1 39.45 0.28 40.97C1.56 42.48 3.78 43.88 4.48 44.46M-20.71 29.98 L-17.91 36.28M0.28 39.78 L4.48 44.67" fill="none" stroke="#0c0c0c" stroke-width="1" stroke-linecap="round" stroke-linejoin="round"/><path d="M-27.71 -12.92 L-27.01 -4.52M-25.61 -11.52 L-24.56 -1.72M-23.51 -10.12 L-21.76 1.08M-21.41 -7.32 L-19.66 4.58M-19.31 -3.82 L-17.91 10.17" fill="none" stroke="#0c0c0c" stroke-width="1.5" stroke-linecap="round"/><path d="M-33.66 6.68 L-22.81 36.77" fill="none" stroke="#0c0c0c" stroke-width="1.7" stroke-linecap="round"/><path d="M-6.72 -14.32 L-4.76 -10.61 L-5.18 -5.01 L-9.66 -4.45 L-7.98 -9.91ZM-21.41 -20.97 L-18.61 -21.81 L-21.97 -14.81Z" fill="#0c0c0c"/><ellipse cx="-13.72" cy="-13.41" rx="2.4" ry="1.5" fill="#0c0c0c"/><ellipse cx="3.78" cy="-13.41" rx="2.4" ry="1.5" fill="#0c0c0c"/></g><circle r="47.5" fill="none" stroke="#0c0c0c" stroke-width="0.9"/><path id="c21a" d="M2.78 -39.8 A39.9 39.9 0 0 1 34.55 19.95" fill="none"/><g fill="#0c0c0c" stroke="#0c0c0c" stroke-width="0.25" font-family="Liberation Sans, sans-serif"><text font-size="7.2"><textPath href="#c21a" textLength="76" lengthAdjust="spacing">IN GOD WE TRUST</textPath></text><text x="3" y="27.3" font-family="Liberation Serif, serif" font-style="italic" font-size="14" textLength="31" lengthAdjust="spacingAndGlyphs" transform="rotate(-6 3 27.3)">Liberty</text><text x="6.4" y="35.7" font-size="7.4" textLength="21.5" lengthAdjust="spacing">2006</text><text x="15.7" y="41.2" font-size="4.6">S</text></g></g>
<g transform="translate(127.1 852.2) scale(1.003)"><circle r="56.9" fill="#fff" stroke="#0c0c0c" stroke-width="1.3"/><circle r="54.4" fill="#cfcfcf" stroke="#0c0c0c" stroke-width="1"/><path d="M-9 -37.25C-11.19 -36.35 -11.96 -35.73 -13.38 -34.38C-14.79 -33.02 -16.46 -30.98 -17.5 -29.12C-18.54 -27.27 -19 -24.92 -19.62 -23.25C-20.25 -21.58 -20.48 -20.58 -21.25 -19.12C-22.02 -17.67 -23.17 -16.27 -24.25 -14.5C-25.33 -12.73 -27.33 -9.96 -27.75 -8.5C-28.17 -7.04 -27.5 -6.42 -26.75 -5.75C-26 -5.08 -23.67 -5.21 -23.25 -4.5C-22.83 -3.79 -24.33 -2.33 -24.25 -1.5C-24.17 -0.67 -22.71 -0.25 -22.75 0.5C-22.79 1.25 -24.42 2.17 -24.5 3C-24.58 3.83 -23.33 4.75 -23.25 5.5C-23.17 6.25 -24.54 6.88 -24 7.5C-23.46 8.12 -21.67 8.88 -20 9.25C-18.33 9.62 -15.42 8.92 -14 9.75C-12.58 10.58 -12.02 12.5 -11.5 14.25C-10.98 16 -10.75 18.17 -10.88 20.25C-11 22.33 -11.56 24.62 -12.25 26.75C-12.94 28.88 -15.54 31.54 -15 33C-14.46 34.46 -11.04 34.85 -9 35.5C-6.96 36.15 -5.46 36.79 -2.75 36.88C-0.04 36.96 4.12 36.56 7.25 36C10.38 35.44 13.88 34.25 16 33.5C18.12 32.75 18.83 31.96 20 31.5C21.17 31.04 21.96 31.12 23 30.75C24.04 30.38 25.29 30.38 26.25 29.25C27.21 28.12 28.25 25.92 28.75 24C29.25 22.08 29.42 19.33 29.25 17.75C29.08 16.17 28.54 15.21 27.75 14.5C26.96 13.79 25.62 13.92 24.5 13.5C23.38 13.08 21.79 12.83 21 12C20.21 11.17 19.71 9.62 19.75 8.5C19.79 7.38 20.42 6.62 21.25 5.25C22.08 3.88 23.85 2.12 24.75 0.25C25.65 -1.62 26.4 -3.71 26.62 -6C26.85 -8.29 26.46 -11 26.12 -13.5C25.79 -16 25.4 -18.5 24.62 -21C23.85 -23.5 22.94 -26.21 21.5 -28.5C20.06 -30.79 18.17 -33.08 16 -34.75C13.83 -36.42 11.21 -37.67 8.5 -38.5C5.79 -39.33 2.67 -39.96 -0.25 -39.75C-3.17 -39.54 -6.81 -38.15 -9 -37.25Z" fill="#fff" stroke="#0c0c0c" stroke-width="1.5" stroke-linejoin="round"/><path d="M-6.5 -34.75C-5.88 -34.96 -4 -36 -2.75 -36C-1.5 -36 0.38 -34.96 1 -34.75M1 -36.62C1.62 -36.31 3.81 -35.58 4.75 -34.75C5.69 -33.92 6.31 -32.15 6.62 -31.62M-2.75 -31.62C-2.12 -31.31 0.17 -30.58 1 -29.75C1.83 -28.92 2.04 -27.15 2.25 -26.62M-7.75 -28.5C-8.27 -27.88 -10.15 -26.1 -10.88 -24.75C-11.6 -23.4 -11.92 -21.1 -12.12 -20.38M-4.62 -26.62C-4.94 -26 -6.29 -24.12 -6.5 -22.88C-6.71 -21.62 -5.98 -19.75 -5.88 -19.12M3.5 -28.5C4.33 -28.19 7.04 -27.46 8.5 -26.62C9.96 -25.79 11.62 -24.02 12.25 -23.5M8.5 -31C9.33 -30.58 12.15 -29.65 13.5 -28.5C14.85 -27.35 16.1 -24.85 16.62 -24.12M-2.75 -18.5C-1.92 -18.19 0.79 -16.73 2.25 -16.62C3.71 -16.52 5.38 -17.67 6 -17.88M1 -22.25C1.83 -22.04 4.44 -21.62 6 -21C7.56 -20.38 9.65 -18.92 10.38 -18.5M12.25 -20.38C13.08 -20.06 16 -19.44 17.25 -18.5C18.5 -17.56 19.33 -15.38 19.75 -14.75M-2.75 -7.25C-1.92 -7.67 0.38 -9.54 2.25 -9.75C4.12 -9.96 6.62 -9.33 8.5 -8.5C10.38 -7.67 12.67 -5.38 13.5 -4.75M-5.88 -2.88C-4.94 -2.98 -1.81 -2.88 -0.25 -3.5C1.31 -4.12 2.88 -6.1 3.5 -6.62M8.5 -3.5C9.33 -3.08 11.83 -1.31 13.5 -1C15.17 -0.69 17.67 -1.52 18.5 -1.62M14.75 -9.75C15.58 -9.85 18.29 -10.79 19.75 -10.38C21.21 -9.96 22.88 -7.77 23.5 -7.25M11 0.25C11.42 1.08 13.12 3.58 13.5 5.25C13.88 6.92 13.29 9.42 13.25 10.25M16 2.75C16.42 3.58 18.17 6.08 18.5 7.75C18.83 9.42 18.08 11.92 18 12.75M8.5 -12.25C9.54 -12.46 12.88 -13.5 14.75 -13.5C16.62 -13.5 18.92 -12.46 19.75 -12.25M3.5 -33.5C4.12 -33.25 6.21 -32.73 7.25 -32C8.29 -31.27 9.33 -29.6 9.75 -29.12M13.5 -32.88C14.23 -32.25 16.73 -30.48 17.88 -29.12C19.02 -27.77 19.96 -25.48 20.38 -24.75M-1.5 -25.38C-0.67 -25.06 2.15 -24.33 3.5 -23.5C4.85 -22.67 6.1 -20.9 6.62 -20.38M4.75 -15.38C5.58 -15.44 8.29 -15.96 9.75 -15.75C11.21 -15.54 12.88 -14.4 13.5 -14.12M-9 -32.88C-9.42 -32.35 -10.92 -30.9 -11.5 -29.75C-12.08 -28.6 -12.33 -26.62 -12.5 -26M18.5 -22.25C19.08 -21.52 21.17 -19.44 22 -17.88C22.83 -16.31 23.25 -13.71 23.5 -12.88M1 -6C1.83 -5.69 4.44 -4.33 6 -4.12C7.56 -3.92 9.65 -4.65 10.38 -4.75M18.5 -6C18.96 -5.17 20.94 -2.67 21.25 -1C21.56 0.67 20.52 3.17 20.38 4M6 -0.38C6.52 0.25 8.71 2.02 9.12 3.38C9.54 4.73 8.6 7.02 8.5 7.75M14.75 10.25C15.12 11.08 16.75 13.58 17 15.25C17.25 16.92 16.38 19.42 16.25 20.25M-5.25 -14.75C-4.62 -14.23 -2.96 -12.04 -1.5 -11.62C-0.04 -11.21 2.67 -12.15 3.5 -12.25M13.5 -18.5C14.02 -17.98 15.79 -16.52 16.62 -15.38C17.46 -14.23 18.19 -12.25 18.5 -11.62M-6.5 3.38C-6.81 3.9 -7.54 5.6 -8.38 6.5C-9.21 7.4 -10.98 8.38 -11.5 8.75M-1.5 15.25 L1 13.38M-4.62 20.25 L-2.12 17.75M-7.75 26.5 L-5.25 23.38M11 10.25C11.1 11.08 11.21 13.58 11.62 15.25C12.04 16.92 13.19 19.42 13.5 20.25M13.5 22.75C13.71 23.38 14.12 25.42 14.75 26.5C15.38 27.58 16.83 28.79 17.25 29.25M-20.25 -17.88C-19.73 -17.98 -18 -18.71 -17.12 -18.5C-16.25 -18.29 -15.35 -16.94 -15 -16.62M-19.25 -14.12C-18.96 -14.27 -18 -15.02 -17.5 -15C-17 -14.98 -16.46 -14.17 -16.25 -14M22 15.25C22.46 16.08 24.38 18.38 24.75 20.25C25.12 22.12 24.79 24.92 24.25 26.5C23.71 28.08 21.96 29.21 21.5 29.75M24.75 15.25C25.08 16.29 26.54 19.42 26.75 21.5C26.96 23.58 26.12 26.71 26 27.75" fill="none" stroke="#0c0c0c" stroke-width="1.05" stroke-linecap="round"/><path d="M-9.62 -13.25C-9 -13.15 -8.1 -11.17 -8 -9.75C-7.9 -8.33 -8.42 -5.83 -9 -4.75C-9.58 -3.67 -10.83 -2.94 -11.5 -3.25C-12.17 -3.56 -12.96 -5.44 -13 -6.62C-13.04 -7.81 -12.31 -9.27 -11.75 -10.38C-11.19 -11.48 -10.25 -13.35 -9.62 -13.25Z" fill="#0c0c0c"/><path id="c22a" d="M-41.04 -3.59 A41.2 41.2 0 0 1 40.97 -4.31" fill="none"/><path id="c22b" d="M-37.43 32.54 A49.6 49.6 0 0 0 38 -31.88" fill="none"/><g fill="#0c0c0c" stroke="#0c0c0c" stroke-width="0.65" font-family="Liberation Sans, sans-serif"><text font-size="12.6"><textPath href="#c22a" textLength="121" lengthAdjust="spacingAndGlyphs">UNITED STATES OF AMERICA</textPath></text><text font-size="12"><textPath href="#c22b" textLength="86" lengthAdjust="spacingAndGlyphs">QUARTER DOLLAR</textPath></text><text x="-44.2" y="21.6" font-size="10.2" stroke-width="0.3" textLength="29" lengthAdjust="spacingAndGlyphs">LIBERTY</text><g font-size="5" font-weight="bold" text-anchor="middle" stroke="none"><text x="36" y="0.8">IN</text><text x="37" y="6.4" textLength="21" lengthAdjust="spacingAndGlyphs">GOD WE</text><text x="36.8" y="11.6" textLength="16" lengthAdjust="spacingAndGlyphs">TRUST</text><text x="36.6" y="21" font-size="4.4">S</text></g></g></g>
<g transform="translate(243.4 852.2) scale(1.003)"><circle r="56.9" fill="#fff" stroke="#0c0c0c" stroke-width="1.3"/><circle r="54.4" fill="#cfcfcf" stroke="#0c0c0c" stroke-width="1"/><path d="M-9 -37.25C-11.19 -36.35 -11.96 -35.73 -13.38 -34.38C-14.79 -33.02 -16.46 -30.98 -17.5 -29.12C-18.54 -27.27 -19 -24.92 -19.62 -23.25C-20.25 -21.58 -20.48 -20.58 -21.25 -19.12C-22.02 -17.67 -23.17 -16.27 -24.25 -14.5C-25.33 -12.73 -27.33 -9.96 -27.75 -8.5C-28.17 -7.04 -27.5 -6.42 -26.75 -5.75C-26 -5.08 -23.67 -5.21 -23.25 -4.5C-22.83 -3.79 -24.33 -2.33 -24.25 -1.5C-24.17 -0.67 -22.71 -0.25 -22.75 0.5C-22.79 1.25 -24.42 2.17 -24.5 3C-24.58 3.83 -23.33 4.75 -23.25 5.5C-23.17 6.25 -24.54 6.88 -24 7.5C-23.46 8.12 -21.67 8.88 -20 9.25C-18.33 9.62 -15.42 8.92 -14 9.75C-12.58 10.58 -12.02 12.5 -11.5 14.25C-10.98 16 -10.75 18.17 -10.88 20.25C-11 22.33 -11.56 24.62 -12.25 26.75C-12.94 28.88 -15.54 31.54 -15 33C-14.46 34.46 -11.04 34.85 -9 35.5C-6.96 36.15 -5.46 36.79 -2.75 36.88C-0.04 36.96 4.12 36.56 7.25 36C10.38 35.44 13.88 34.25 16 33.5C18.12 32.75 18.83 31.96 20 31.5C21.17 31.04 21.96 31.12 23 30.75C24.04 30.38 25.29 30.38 26.25 29.25C27.21 28.12 28.25 25.92 28.75 24C29.25 22.08 29.42 19.33 29.25 17.75C29.08 16.17 28.54 15.21 27.75 14.5C26.96 13.79 25.62 13.92 24.5 13.5C23.38 13.08 21.79 12.83 21 12C20.21 11.17 19.71 9.62 19.75 8.5C19.79 7.38 20.42 6.62 21.25 5.25C22.08 3.88 23.85 2.12 24.75 0.25C25.65 -1.62 26.4 -3.71 26.62 -6C26.85 -8.29 26.46 -11 26.12 -13.5C25.79 -16 25.4 -18.5 24.62 -21C23.85 -23.5 22.94 -26.21 21.5 -28.5C20.06 -30.79 18.17 -33.08 16 -34.75C13.83 -36.42 11.21 -37.67 8.5 -38.5C5.79 -39.33 2.67 -39.96 -0.25 -39.75C-3.17 -39.54 -6.81 -38.15 -9 -37.25Z" fill="#fff" stroke="#0c0c0c" stroke-width="1.5" stroke-linejoin="round"/><path d="M-6.5 -34.75C-5.88 -34.96 -4 -36 -2.75 -36C-1.5 -36 0.38 -34.96 1 -34.75M1 -36.62C1.62 -36.31 3.81 -35.58 4.75 -34.75C5.69 -33.92 6.31 -32.15 6.62 -31.62M-2.75 -31.62C-2.12 -31.31 0.17 -30.58 1 -29.75C1.83 -28.92 2.04 -27.15 2.25 -26.62M-7.75 -28.5C-8.27 -27.88 -10.15 -26.1 -10.88 -24.75C-11.6 -23.4 -11.92 -21.1 -12.12 -20.38M-4.62 -26.62C-4.94 -26 -6.29 -24.12 -6.5 -22.88C-6.71 -21.62 -5.98 -19.75 -5.88 -19.12M3.5 -28.5C4.33 -28.19 7.04 -27.46 8.5 -26.62C9.96 -25.79 11.62 -24.02 12.25 -23.5M8.5 -31C9.33 -30.58 12.15 -29.65 13.5 -28.5C14.85 -27.35 16.1 -24.85 16.62 -24.12M-2.75 -18.5C-1.92 -18.19 0.79 -16.73 2.25 -16.62C3.71 -16.52 5.38 -17.67 6 -17.88M1 -22.25C1.83 -22.04 4.44 -21.62 6 -21C7.56 -20.38 9.65 -18.92 10.38 -18.5M12.25 -20.38C13.08 -20.06 16 -19.44 17.25 -18.5C18.5 -17.56 19.33 -15.38 19.75 -14.75M-2.75 -7.25C-1.92 -7.67 0.38 -9.54 2.25 -9.75C4.12 -9.96 6.62 -9.33 8.5 -8.5C10.38 -7.67 12.67 -5.38 13.5 -4.75M-5.88 -2.88C-4.94 -2.98 -1.81 -2.88 -0.25 -3.5C1.31 -4.12 2.88 -6.1 3.5 -6.62M8.5 -3.5C9.33 -3.08 11.83 -1.31 13.5 -1C15.17 -0.69 17.67 -1.52 18.5 -1.62M14.75 -9.75C15.58 -9.85 18.29 -10.79 19.75 -10.38C21.21 -9.96 22.88 -7.77 23.5 -7.25M11 0.25C11.42 1.08 13.12 3.58 13.5 5.25C13.88 6.92 13.29 9.42 13.25 10.25M16 2.75C16.42 3.58 18.17 6.08 18.5 7.75C18.83 9.42 18.08 11.92 18 12.75M8.5 -12.25C9.54 -12.46 12.88 -13.5 14.75 -13.5C16.62 -13.5 18.92 -12.46 19.75 -12.25M3.5 -33.5C4.12 -33.25 6.21 -32.73 7.25 -32C8.29 -31.27 9.33 -29.6 9.75 -29.12M13.5 -32.88C14.23 -32.25 16.73 -30.48 17.88 -29.12C19.02 -27.77 19.96 -25.48 20.38 -24.75M-1.5 -25.38C-0.67 -25.06 2.15 -24.33 3.5 -23.5C4.85 -22.67 6.1 -20.9 6.62 -20.38M4.75 -15.38C5.58 -15.44 8.29 -15.96 9.75 -15.75C11.21 -15.54 12.88 -14.4 13.5 -14.12M-9 -32.88C-9.42 -32.35 -10.92 -30.9 -11.5 -29.75C-12.08 -28.6 -12.33 -26.62 -12.5 -26M18.5 -22.25C19.08 -21.52 21.17 -19.44 22 -17.88C22.83 -16.31 23.25 -13.71 23.5 -12.88M1 -6C1.83 -5.69 4.44 -4.33 6 -4.12C7.56 -3.92 9.65 -4.65 10.38 -4.75M18.5 -6C18.96 -5.17 20.94 -2.67 21.25 -1C21.56 0.67 20.52 3.17 20.38 4M6 -0.38C6.52 0.25 8.71 2.02 9.12 3.38C9.54 4.73 8.6 7.02 8.5 7.75M14.75 10.25C15.12 11.08 16.75 13.58 17 15.25C17.25 16.92 16.38 19.42 16.25 20.25M-5.25 -14.75C-4.62 -14.23 -2.96 -12.04 -1.5 -11.62C-0.04 -11.21 2.67 -12.15 3.5 -12.25M13.5 -18.5C14.02 -17.98 15.79 -16.52 16.62 -15.38C17.46 -14.23 18.19 -12.25 18.5 -11.62M-6.5 3.38C-6.81 3.9 -7.54 5.6 -8.38 6.5C-9.21 7.4 -10.98 8.38 -11.5 8.75M-1.5 15.25 L1 13.38M-4.62 20.25 L-2.12 17.75M-7.75 26.5 L-5.25 23.38M11 10.25C11.1 11.08 11.21 13.58 11.62 15.25C12.04 16.92 13.19 19.42 13.5 20.25M13.5 22.75C13.71 23.38 14.12 25.42 14.75 26.5C15.38 27.58 16.83 28.79 17.25 29.25M-20.25 -17.88C-19.73 -17.98 -18 -18.71 -17.12 -18.5C-16.25 -18.29 -15.35 -16.94 -15 -16.62M-19.25 -14.12C-18.96 -14.27 -18 -15.02 -17.5 -15C-17 -14.98 -16.46 -14.17 -16.25 -14M22 15.25C22.46 16.08 24.38 18.38 24.75 20.25C25.12 22.12 24.79 24.92 24.25 26.5C23.71 28.08 21.96 29.21 21.5 29.75M24.75 15.25C25.08 16.29 26.54 19.42 26.75 21.5C26.96 23.58 26.12 26.71 26 27.75" fill="none" stroke="#0c0c0c" stroke-width="1.05" stroke-linecap="round"/><path d="M-9.62 -13.25C-9 -13.15 -8.1 -11.17 -8 -9.75C-7.9 -8.33 -8.42 -5.83 -9 -4.75C-9.58 -3.67 -10.83 -2.94 -11.5 -3.25C-12.17 -3.56 -12.96 -5.44 -13 -6.62C-13.04 -7.81 -12.31 -9.27 -11.75 -10.38C-11.19 -11.48 -10.25 -13.35 -9.62 -13.25Z" fill="#0c0c0c"/><path id="c23a" d="M-41.04 -3.59 A41.2 41.2 0 0 1 40.97 -4.31" fill="none"/><path id="c23b" d="M-37.43 32.54 A49.6 49.6 0 0 0 38 -31.88" fill="none"/><g fill="#0c0c0c" stroke="#0c0c0c" stroke-width="0.65" font-family="Liberation Sans, sans-serif"><text font-size="12.6"><textPath href="#c23a" textLength="121" lengthAdjust="spacingAndGlyphs">UNITED STATES OF AMERICA</textPath></text><text font-size="12"><textPath href="#c23b" textLength="86" lengthAdjust="spacingAndGlyphs">QUARTER DOLLAR</textPath></text><text x="-44.2" y="21.6" font-size="10.2" stroke-width="0.3" textLength="29" lengthAdjust="spacingAndGlyphs">LIBERTY</text><g font-size="5" font-weight="bold" text-anchor="middle" stroke="none"><text x="36" y="0.8">IN</text><text x="37" y="6.4" textLength="21" lengthAdjust="spacingAndGlyphs">GOD WE</text><text x="36.8" y="11.6" textLength="16" lengthAdjust="spacingAndGlyphs">TRUST</text><text x="36.6" y="21" font-size="4.4">S</text></g></g></g>
<g transform="translate(343.2 868) scale(1.005)"><circle r="40.7" fill="#fff" stroke="#0c0c0c" stroke-width="1"/><circle r="39.1" fill="#cfcfcf" stroke="#0c0c0c" stroke-width="0.8"/><text x="0" y="15.8" text-anchor="middle" font-family="Liberation Sans, sans-serif" font-weight="bold" font-size="4.5" fill="#0c0c0c" stroke="#0c0c0c" stroke-width="0.35" textLength="62" lengthAdjust="spacing">• E PLURIBUS UNUM •</text><g fill="#fff" stroke="#0c0c0c" stroke-width="1.15" stroke-linejoin="round"><path d="M-15.49 8.36C-15.55 11.05 -14.88 13.55 -14.73 15.96C-14.57 18.37 -14.88 21.66 -14.54 22.8C-14.19 23.94 -12.95 23.94 -12.64 22.8C-12.32 21.66 -12.6 18.37 -12.64 15.96C-12.67 13.55 -12.83 11.05 -12.83 8.36C-12.83 5.67 -12.56 2.66 -12.64 -0.19C-12.71 -3.04 -12.98 -7.32 -13.3 -8.74C-13.62 -10.17 -14.36 -10.17 -14.54 -8.74C-14.71 -7.32 -14.19 -3.04 -14.35 -0.19C-14.5 2.66 -15.42 5.67 -15.49 8.36Z"/><path d="M13.59 6.46C13.36 9.15 13.36 11.53 13.02 14.06C12.67 16.59 11.43 20.33 11.5 21.66C11.56 22.99 12.83 23.24 13.4 22.04C13.97 20.84 14.54 17.04 14.92 14.44C15.3 11.84 15.52 9.22 15.68 6.46C15.83 3.71 16.09 -0.67 15.87 -2.09C15.64 -3.52 14.73 -3.52 14.35 -2.09C13.97 -0.67 13.81 3.77 13.59 6.46Z"/><ellipse cx="-13.97" cy="-14.63" rx="2.57" ry="5.89" transform="rotate(-4 -13.97 -14.63)"/><ellipse cx="-8.84" cy="-7.6" rx="2.28" ry="5.32" transform="rotate(25 -8.84 -7.6)"/><ellipse cx="-17.96" cy="-13.49" rx="1.81" ry="4.75" transform="rotate(-18 -17.96 -13.49)"/><ellipse cx="-22.52" cy="-3.04" rx="2.38" ry="5.51" transform="rotate(-42 -22.52 -3.04)"/><ellipse cx="-24.42" cy="3.61" rx="2.09" ry="5.13" transform="rotate(-80 -24.42 3.61)"/><ellipse cx="-7.32" cy="2.09" rx="2.09" ry="5.32" transform="rotate(35 -7.32 2.09)"/><ellipse cx="-18.72" cy="1.33" rx="1.81" ry="4.37" transform="rotate(-25 -18.72 1.33)"/><ellipse cx="-4.47" cy="6.08" rx="1.71" ry="3.99" transform="rotate(55 -4.47 6.08)"/><ellipse cx="-17.58" cy="-4.94" rx="1.52" ry="3.8" transform="rotate(-30 -17.58 -4.94)"/><ellipse cx="15.11" cy="-13.87" rx="3.61" ry="5.32" transform="rotate(8 15.11 -13.87)"/><ellipse cx="24.8" cy="-7.03" rx="2.66" ry="5.32" transform="rotate(40 24.8 -7.03)"/><ellipse cx="21" cy="2.85" rx="2.95" ry="4.75" transform="rotate(52 21 2.85)"/><ellipse cx="10.74" cy="-3.04" rx="2.57" ry="4.94" transform="rotate(-20 10.74 -3.04)"/><ellipse cx="26.13" cy="3.61" rx="2.19" ry="3.23" transform="rotate(72 26.13 3.61)"/><ellipse cx="8.08" cy="0.95" rx="1.9" ry="4.18" transform="rotate(-32 8.08 0.95)"/><ellipse cx="17.39" cy="-3.04" rx="1.9" ry="3.8" transform="rotate(20 17.39 -3.04)"/><path d="M-2.66 -13.02C-3.93 -13.7 -2.9 -15.79 -3.33 -17.1C-3.75 -18.41 -5.16 -19.68 -5.23 -20.9C-5.29 -22.12 -4.4 -23.47 -3.71 -24.42C-3.01 -25.37 -1.9 -26.11 -1.05 -26.6C-0.19 -27.09 0.7 -27.49 1.43 -27.36C2.15 -27.23 2.69 -25.78 3.33 -25.84C3.96 -25.9 4.59 -27.74 5.23 -27.74C5.86 -27.74 6.71 -26.79 7.13 -25.84C7.54 -24.89 7.82 -23.47 7.7 -22.04C7.57 -20.62 6.94 -18.79 6.37 -17.29C5.8 -15.79 5.78 -13.73 4.28 -13.02C2.77 -12.3 -1.39 -12.33 -2.66 -13.02Z"/><path d="M-2.76 -10.45 L3.71 -10.45 L2.38 20.71 L-1.05 20.71Z"/><path d="M-3.9 -13.11 L4.85 -13.11 L4.28 -10.07 L-3.33 -10.07Z"/><path d="M-2.38 20.71 L3.9 20.71 L2.95 25.27 L-1.43 25.27Z"/><circle cx="0.67" cy="26.6" r="1.5"/></g><path d="M-0.67 -8.74 L-0.29 19.76M1.24 -8.74 L1.24 19.76M-1.62 -24.42 L-0.48 -16.34M4.28 -24.42 L3.33 -16.34M-14.25 -18.24 L-14.16 -10.64M14.92 -17.1 L14.73 -9.5" fill="none" stroke="#0c0c0c" stroke-width="0.6"/><path id="c24a" d="M-29.03 8.32 A30.2 30.2 0 1 1 29.3 7.31" fill="none"/><path id="c24b" d="M-30.47 21.34 A37.2 37.2 0 0 0 30.47 21.34" fill="none"/><g fill="#fff" stroke="#0c0c0c" stroke-width="2" font-family="Liberation Sans, sans-serif" font-weight="normal" paint-order="stroke" stroke-linejoin="round"><text font-size="9.6"><textPath href="#c24a" textLength="110" lengthAdjust="spacingAndGlyphs">UNITED STATES OF AMERICA</textPath></text><text font-size="13.4"><textPath href="#c24b" textLength="70" lengthAdjust="spacingAndGlyphs">ONE DIME</textPath></text></g></g>
<g transform="translate(427.6 868) scale(1.005)"><circle r="40.7" fill="#fff" stroke="#0c0c0c" stroke-width="1"/><circle r="39.1" fill="#cfcfcf" stroke="#0c0c0c" stroke-width="0.8"/><text x="0" y="15.8" text-anchor="middle" font-family="Liberation Sans, sans-serif" font-weight="bold" font-size="4.5" fill="#0c0c0c" stroke="#0c0c0c" stroke-width="0.35" textLength="62" lengthAdjust="spacing">• E PLURIBUS UNUM •</text><g fill="#fff" stroke="#0c0c0c" stroke-width="1.15" stroke-linejoin="round"><path d="M-15.49 8.36C-15.55 11.05 -14.88 13.55 -14.73 15.96C-14.57 18.37 -14.88 21.66 -14.54 22.8C-14.19 23.94 -12.95 23.94 -12.64 22.8C-12.32 21.66 -12.6 18.37 -12.64 15.96C-12.67 13.55 -12.83 11.05 -12.83 8.36C-12.83 5.67 -12.56 2.66 -12.64 -0.19C-12.71 -3.04 -12.98 -7.32 -13.3 -8.74C-13.62 -10.17 -14.36 -10.17 -14.54 -8.74C-14.71 -7.32 -14.19 -3.04 -14.35 -0.19C-14.5 2.66 -15.42 5.67 -15.49 8.36Z"/><path d="M13.59 6.46C13.36 9.15 13.36 11.53 13.02 14.06C12.67 16.59 11.43 20.33 11.5 21.66C11.56 22.99 12.83 23.24 13.4 22.04C13.97 20.84 14.54 17.04 14.92 14.44C15.3 11.84 15.52 9.22 15.68 6.46C15.83 3.71 16.09 -0.67 15.87 -2.09C15.64 -3.52 14.73 -3.52 14.35 -2.09C13.97 -0.67 13.81 3.77 13.59 6.46Z"/><ellipse cx="-13.97" cy="-14.63" rx="2.57" ry="5.89" transform="rotate(-4 -13.97 -14.63)"/><ellipse cx="-8.84" cy="-7.6" rx="2.28" ry="5.32" transform="rotate(25 -8.84 -7.6)"/><ellipse cx="-17.96" cy="-13.49" rx="1.81" ry="4.75" transform="rotate(-18 -17.96 -13.49)"/><ellipse cx="-22.52" cy="-3.04" rx="2.38" ry="5.51" transform="rotate(-42 -22.52 -3.04)"/><ellipse cx="-24.42" cy="3.61" rx="2.09" ry="5.13" transform="rotate(-80 -24.42 3.61)"/><ellipse cx="-7.32" cy="2.09" rx="2.09" ry="5.32" transform="rotate(35 -7.32 2.09)"/><ellipse cx="-18.72" cy="1.33" rx="1.81" ry="4.37" transform="rotate(-25 -18.72 1.33)"/><ellipse cx="-4.47" cy="6.08" rx="1.71" ry="3.99" transform="rotate(55 -4.47 6.08)"/><ellipse cx="-17.58" cy="-4.94" rx="1.52" ry="3.8" transform="rotate(-30 -17.58 -4.94)"/><ellipse cx="15.11" cy="-13.87" rx="3.61" ry="5.32" transform="rotate(8 15.11 -13.87)"/><ellipse cx="24.8" cy="-7.03" rx="2.66" ry="5.32" transform="rotate(40 24.8 -7.03)"/><ellipse cx="21" cy="2.85" rx="2.95" ry="4.75" transform="rotate(52 21 2.85)"/><ellipse cx="10.74" cy="-3.04" rx="2.57" ry="4.94" transform="rotate(-20 10.74 -3.04)"/><ellipse cx="26.13" cy="3.61" rx="2.19" ry="3.23" transform="rotate(72 26.13 3.61)"/><ellipse cx="8.08" cy="0.95" rx="1.9" ry="4.18" transform="rotate(-32 8.08 0.95)"/><ellipse cx="17.39" cy="-3.04" rx="1.9" ry="3.8" transform="rotate(20 17.39 -3.04)"/><path d="M-2.66 -13.02C-3.93 -13.7 -2.9 -15.79 -3.33 -17.1C-3.75 -18.41 -5.16 -19.68 -5.23 -20.9C-5.29 -22.12 -4.4 -23.47 -3.71 -24.42C-3.01 -25.37 -1.9 -26.11 -1.05 -26.6C-0.19 -27.09 0.7 -27.49 1.43 -27.36C2.15 -27.23 2.69 -25.78 3.33 -25.84C3.96 -25.9 4.59 -27.74 5.23 -27.74C5.86 -27.74 6.71 -26.79 7.13 -25.84C7.54 -24.89 7.82 -23.47 7.7 -22.04C7.57 -20.62 6.94 -18.79 6.37 -17.29C5.8 -15.79 5.78 -13.73 4.28 -13.02C2.77 -12.3 -1.39 -12.33 -2.66 -13.02Z"/><path d="M-2.76 -10.45 L3.71 -10.45 L2.38 20.71 L-1.05 20.71Z"/><path d="M-3.9 -13.11 L4.85 -13.11 L4.28 -10.07 L-3.33 -10.07Z"/><path d="M-2.38 20.71 L3.9 20.71 L2.95 25.27 L-1.43 25.27Z"/><circle cx="0.67" cy="26.6" r="1.5"/></g><path d="M-0.67 -8.74 L-0.29 19.76M1.24 -8.74 L1.24 19.76M-1.62 -24.42 L-0.48 -16.34M4.28 -24.42 L3.33 -16.34M-14.25 -18.24 L-14.16 -10.64M14.92 -17.1 L14.73 -9.5" fill="none" stroke="#0c0c0c" stroke-width="0.6"/><path id="c25a" d="M-29.03 8.32 A30.2 30.2 0 1 1 29.3 7.31" fill="none"/><path id="c25b" d="M-30.47 21.34 A37.2 37.2 0 0 0 30.47 21.34" fill="none"/><g fill="#fff" stroke="#0c0c0c" stroke-width="2" font-family="Liberation Sans, sans-serif" font-weight="normal" paint-order="stroke" stroke-linejoin="round"><text font-size="9.6"><textPath href="#c25a" textLength="110" lengthAdjust="spacingAndGlyphs">UNITED STATES OF AMERICA</textPath></text><text font-size="13.4"><textPath href="#c25b" textLength="70" lengthAdjust="spacingAndGlyphs">ONE DIME</textPath></text></g></g>
<g transform="translate(127.1 974.6) scale(1.003)"><circle r="56.9" fill="#fff" stroke="#0c0c0c" stroke-width="1.3"/><circle r="54.4" fill="#cfcfcf" stroke="#0c0c0c" stroke-width="1"/><path d="M-9 -37.25C-11.19 -36.35 -11.96 -35.73 -13.38 -34.38C-14.79 -33.02 -16.46 -30.98 -17.5 -29.12C-18.54 -27.27 -19 -24.92 -19.62 -23.25C-20.25 -21.58 -20.48 -20.58 -21.25 -19.12C-22.02 -17.67 -23.17 -16.27 -24.25 -14.5C-25.33 -12.73 -27.33 -9.96 -27.75 -8.5C-28.17 -7.04 -27.5 -6.42 -26.75 -5.75C-26 -5.08 -23.67 -5.21 -23.25 -4.5C-22.83 -3.79 -24.33 -2.33 -24.25 -1.5C-24.17 -0.67 -22.71 -0.25 -22.75 0.5C-22.79 1.25 -24.42 2.17 -24.5 3C-24.58 3.83 -23.33 4.75 -23.25 5.5C-23.17 6.25 -24.54 6.88 -24 7.5C-23.46 8.12 -21.67 8.88 -20 9.25C-18.33 9.62 -15.42 8.92 -14 9.75C-12.58 10.58 -12.02 12.5 -11.5 14.25C-10.98 16 -10.75 18.17 -10.88 20.25C-11 22.33 -11.56 24.62 -12.25 26.75C-12.94 28.88 -15.54 31.54 -15 33C-14.46 34.46 -11.04 34.85 -9 35.5C-6.96 36.15 -5.46 36.79 -2.75 36.88C-0.04 36.96 4.12 36.56 7.25 36C10.38 35.44 13.88 34.25 16 33.5C18.12 32.75 18.83 31.96 20 31.5C21.17 31.04 21.96 31.12 23 30.75C24.04 30.38 25.29 30.38 26.25 29.25C27.21 28.12 28.25 25.92 28.75 24C29.25 22.08 29.42 19.33 29.25 17.75C29.08 16.17 28.54 15.21 27.75 14.5C26.96 13.79 25.62 13.92 24.5 13.5C23.38 13.08 21.79 12.83 21 12C20.21 11.17 19.71 9.62 19.75 8.5C19.79 7.38 20.42 6.62 21.25 5.25C22.08 3.88 23.85 2.12 24.75 0.25C25.65 -1.62 26.4 -3.71 26.62 -6C26.85 -8.29 26.46 -11 26.12 -13.5C25.79 -16 25.4 -18.5 24.62 -21C23.85 -23.5 22.94 -26.21 21.5 -28.5C20.06 -30.79 18.17 -33.08 16 -34.75C13.83 -36.42 11.21 -37.67 8.5 -38.5C5.79 -39.33 2.67 -39.96 -0.25 -39.75C-3.17 -39.54 -6.81 -38.15 -9 -37.25Z" fill="#fff" stroke="#0c0c0c" stroke-width="1.5" stroke-linejoin="round"/><path d="M-6.5 -34.75C-5.88 -34.96 -4 -36 -2.75 -36C-1.5 -36 0.38 -34.96 1 -34.75M1 -36.62C1.62 -36.31 3.81 -35.58 4.75 -34.75C5.69 -33.92 6.31 -32.15 6.62 -31.62M-2.75 -31.62C-2.12 -31.31 0.17 -30.58 1 -29.75C1.83 -28.92 2.04 -27.15 2.25 -26.62M-7.75 -28.5C-8.27 -27.88 -10.15 -26.1 -10.88 -24.75C-11.6 -23.4 -11.92 -21.1 -12.12 -20.38M-4.62 -26.62C-4.94 -26 -6.29 -24.12 -6.5 -22.88C-6.71 -21.62 -5.98 -19.75 -5.88 -19.12M3.5 -28.5C4.33 -28.19 7.04 -27.46 8.5 -26.62C9.96 -25.79 11.62 -24.02 12.25 -23.5M8.5 -31C9.33 -30.58 12.15 -29.65 13.5 -28.5C14.85 -27.35 16.1 -24.85 16.62 -24.12M-2.75 -18.5C-1.92 -18.19 0.79 -16.73 2.25 -16.62C3.71 -16.52 5.38 -17.67 6 -17.88M1 -22.25C1.83 -22.04 4.44 -21.62 6 -21C7.56 -20.38 9.65 -18.92 10.38 -18.5M12.25 -20.38C13.08 -20.06 16 -19.44 17.25 -18.5C18.5 -17.56 19.33 -15.38 19.75 -14.75M-2.75 -7.25C-1.92 -7.67 0.38 -9.54 2.25 -9.75C4.12 -9.96 6.62 -9.33 8.5 -8.5C10.38 -7.67 12.67 -5.38 13.5 -4.75M-5.88 -2.88C-4.94 -2.98 -1.81 -2.88 -0.25 -3.5C1.31 -4.12 2.88 -6.1 3.5 -6.62M8.5 -3.5C9.33 -3.08 11.83 -1.31 13.5 -1C15.17 -0.69 17.67 -1.52 18.5 -1.62M14.75 -9.75C15.58 -9.85 18.29 -10.79 19.75 -10.38C21.21 -9.96 22.88 -7.77 23.5 -7.25M11 0.25C11.42 1.08 13.12 3.58 13.5 5.25C13.88 6.92 13.29 9.42 13.25 10.25M16 2.75C16.42 3.58 18.17 6.08 18.5 7.75C18.83 9.42 18.08 11.92 18 12.75M8.5 -12.25C9.54 -12.46 12.88 -13.5 14.75 -13.5C16.62 -13.5 18.92 -12.46 19.75 -12.25M3.5 -33.5C4.12 -33.25 6.21 -32.73 7.25 -32C8.29 -31.27 9.33 -29.6 9.75 -29.12M13.5 -32.88C14.23 -32.25 16.73 -30.48 17.88 -29.12C19.02 -27.77 19.96 -25.48 20.38 -24.75M-1.5 -25.38C-0.67 -25.06 2.15 -24.33 3.5 -23.5C4.85 -22.67 6.1 -20.9 6.62 -20.38M4.75 -15.38C5.58 -15.44 8.29 -15.96 9.75 -15.75C11.21 -15.54 12.88 -14.4 13.5 -14.12M-9 -32.88C-9.42 -32.35 -10.92 -30.9 -11.5 -29.75C-12.08 -28.6 -12.33 -26.62 -12.5 -26M18.5 -22.25C19.08 -21.52 21.17 -19.44 22 -17.88C22.83 -16.31 23.25 -13.71 23.5 -12.88M1 -6C1.83 -5.69 4.44 -4.33 6 -4.12C7.56 -3.92 9.65 -4.65 10.38 -4.75M18.5 -6C18.96 -5.17 20.94 -2.67 21.25 -1C21.56 0.67 20.52 3.17 20.38 4M6 -0.38C6.52 0.25 8.71 2.02 9.12 3.38C9.54 4.73 8.6 7.02 8.5 7.75M14.75 10.25C15.12 11.08 16.75 13.58 17 15.25C17.25 16.92 16.38 19.42 16.25 20.25M-5.25 -14.75C-4.62 -14.23 -2.96 -12.04 -1.5 -11.62C-0.04 -11.21 2.67 -12.15 3.5 -12.25M13.5 -18.5C14.02 -17.98 15.79 -16.52 16.62 -15.38C17.46 -14.23 18.19 -12.25 18.5 -11.62M-6.5 3.38C-6.81 3.9 -7.54 5.6 -8.38 6.5C-9.21 7.4 -10.98 8.38 -11.5 8.75M-1.5 15.25 L1 13.38M-4.62 20.25 L-2.12 17.75M-7.75 26.5 L-5.25 23.38M11 10.25C11.1 11.08 11.21 13.58 11.62 15.25C12.04 16.92 13.19 19.42 13.5 20.25M13.5 22.75C13.71 23.38 14.12 25.42 14.75 26.5C15.38 27.58 16.83 28.79 17.25 29.25M-20.25 -17.88C-19.73 -17.98 -18 -18.71 -17.12 -18.5C-16.25 -18.29 -15.35 -16.94 -15 -16.62M-19.25 -14.12C-18.96 -14.27 -18 -15.02 -17.5 -15C-17 -14.98 -16.46 -14.17 -16.25 -14M22 15.25C22.46 16.08 24.38 18.38 24.75 20.25C25.12 22.12 24.79 24.92 24.25 26.5C23.71 28.08 21.96 29.21 21.5 29.75M24.75 15.25C25.08 16.29 26.54 19.42 26.75 21.5C26.96 23.58 26.12 26.71 26 27.75" fill="none" stroke="#0c0c0c" stroke-width="1.05" stroke-linecap="round"/><path d="M-9.62 -13.25C-9 -13.15 -8.1 -11.17 -8 -9.75C-7.9 -8.33 -8.42 -5.83 -9 -4.75C-9.58 -3.67 -10.83 -2.94 -11.5 -3.25C-12.17 -3.56 -12.96 -5.44 -13 -6.62C-13.04 -7.81 -12.31 -9.27 -11.75 -10.38C-11.19 -11.48 -10.25 -13.35 -9.62 -13.25Z" fill="#0c0c0c"/><path id="c26a" d="M-41.04 -3.59 A41.2 41.2 0 0 1 40.97 -4.31" fill="none"/><path id="c26b" d="M-37.43 32.54 A49.6 49.6 0 0 0 38 -31.88" fill="none"/><g fill="#0c0c0c" stroke="#0c0c0c" stroke-width="0.65" font-family="Liberation Sans, sans-serif"><text font-size="12.6"><textPath href="#c26a" textLength="121" lengthAdjust="spacingAndGlyphs">UNITED STATES OF AMERICA</textPath></text><text font-size="12"><textPath href="#c26b" textLength="86" lengthAdjust="spacingAndGlyphs">QUARTER DOLLAR</textPath></text><text x="-44.2" y="21.6" font-size="10.2" stroke-width="0.3" textLength="29" lengthAdjust="spacingAndGlyphs">LIBERTY</text><g font-size="5" font-weight="bold" text-anchor="middle" stroke="none"><text x="36" y="0.8">IN</text><text x="37" y="6.4" textLength="21" lengthAdjust="spacingAndGlyphs">GOD WE</text><text x="36.8" y="11.6" textLength="16" lengthAdjust="spacingAndGlyphs">TRUST</text><text x="36.6" y="21" font-size="4.4">S</text></g></g></g>
<g transform="translate(226.3 990.8) scale(1.005)"><circle r="40.7" fill="#fff" stroke="#0c0c0c" stroke-width="1"/><circle r="39.1" fill="#cfcfcf" stroke="#0c0c0c" stroke-width="0.8"/><text x="0" y="15.8" text-anchor="middle" font-family="Liberation Sans, sans-serif" font-weight="bold" font-size="4.5" fill="#0c0c0c" stroke="#0c0c0c" stroke-width="0.35" textLength="62" lengthAdjust="spacing">• E PLURIBUS UNUM •</text><g fill="#fff" stroke="#0c0c0c" stroke-width="1.15" stroke-linejoin="round"><path d="M-15.49 8.36C-15.55 11.05 -14.88 13.55 -14.73 15.96C-14.57 18.37 -14.88 21.66 -14.54 22.8C-14.19 23.94 -12.95 23.94 -12.64 22.8C-12.32 21.66 -12.6 18.37 -12.64 15.96C-12.67 13.55 -12.83 11.05 -12.83 8.36C-12.83 5.67 -12.56 2.66 -12.64 -0.19C-12.71 -3.04 -12.98 -7.32 -13.3 -8.74C-13.62 -10.17 -14.36 -10.17 -14.54 -8.74C-14.71 -7.32 -14.19 -3.04 -14.35 -0.19C-14.5 2.66 -15.42 5.67 -15.49 8.36Z"/><path d="M13.59 6.46C13.36 9.15 13.36 11.53 13.02 14.06C12.67 16.59 11.43 20.33 11.5 21.66C11.56 22.99 12.83 23.24 13.4 22.04C13.97 20.84 14.54 17.04 14.92 14.44C15.3 11.84 15.52 9.22 15.68 6.46C15.83 3.71 16.09 -0.67 15.87 -2.09C15.64 -3.52 14.73 -3.52 14.35 -2.09C13.97 -0.67 13.81 3.77 13.59 6.46Z"/><ellipse cx="-13.97" cy="-14.63" rx="2.57" ry="5.89" transform="rotate(-4 -13.97 -14.63)"/><ellipse cx="-8.84" cy="-7.6" rx="2.28" ry="5.32" transform="rotate(25 -8.84 -7.6)"/><ellipse cx="-17.96" cy="-13.49" rx="1.81" ry="4.75" transform="rotate(-18 -17.96 -13.49)"/><ellipse cx="-22.52" cy="-3.04" rx="2.38" ry="5.51" transform="rotate(-42 -22.52 -3.04)"/><ellipse cx="-24.42" cy="3.61" rx="2.09" ry="5.13" transform="rotate(-80 -24.42 3.61)"/><ellipse cx="-7.32" cy="2.09" rx="2.09" ry="5.32" transform="rotate(35 -7.32 2.09)"/><ellipse cx="-18.72" cy="1.33" rx="1.81" ry="4.37" transform="rotate(-25 -18.72 1.33)"/><ellipse cx="-4.47" cy="6.08" rx="1.71" ry="3.99" transform="rotate(55 -4.47 6.08)"/><ellipse cx="-17.58" cy="-4.94" rx="1.52" ry="3.8" transform="rotate(-30 -17.58 -4.94)"/><ellipse cx="15.11" cy="-13.87" rx="3.61" ry="5.32" transform="rotate(8 15.11 -13.87)"/><ellipse cx="24.8" cy="-7.03" rx="2.66" ry="5.32" transform="rotate(40 24.8 -7.03)"/><ellipse cx="21" cy="2.85" rx="2.95" ry="4.75" transform="rotate(52 21 2.85)"/><ellipse cx="10.74" cy="-3.04" rx="2.57" ry="4.94" transform="rotate(-20 10.74 -3.04)"/><ellipse cx="26.13" cy="3.61" rx="2.19" ry="3.23" transform="rotate(72 26.13 3.61)"/><ellipse cx="8.08" cy="0.95" rx="1.9" ry="4.18" transform="rotate(-32 8.08 0.95)"/><ellipse cx="17.39" cy="-3.04" rx="1.9" ry="3.8" transform="rotate(20 17.39 -3.04)"/><path d="M-2.66 -13.02C-3.93 -13.7 -2.9 -15.79 -3.33 -17.1C-3.75 -18.41 -5.16 -19.68 -5.23 -20.9C-5.29 -22.12 -4.4 -23.47 -3.71 -24.42C-3.01 -25.37 -1.9 -26.11 -1.05 -26.6C-0.19 -27.09 0.7 -27.49 1.43 -27.36C2.15 -27.23 2.69 -25.78 3.33 -25.84C3.96 -25.9 4.59 -27.74 5.23 -27.74C5.86 -27.74 6.71 -26.79 7.13 -25.84C7.54 -24.89 7.82 -23.47 7.7 -22.04C7.57 -20.62 6.94 -18.79 6.37 -17.29C5.8 -15.79 5.78 -13.73 4.28 -13.02C2.77 -12.3 -1.39 -12.33 -2.66 -13.02Z"/><path d="M-2.76 -10.45 L3.71 -10.45 L2.38 20.71 L-1.05 20.71Z"/><path d="M-3.9 -13.11 L4.85 -13.11 L4.28 -10.07 L-3.33 -10.07Z"/><path d="M-2.38 20.71 L3.9 20.71 L2.95 25.27 L-1.43 25.27Z"/><circle cx="0.67" cy="26.6" r="1.5"/></g><path d="M-0.67 -8.74 L-0.29 19.76M1.24 -8.74 L1.24 19.76M-1.62 -24.42 L-0.48 -16.34M4.28 -24.42 L3.33 -16.34M-14.25 -18.24 L-14.16 -10.64M14.92 -17.1 L14.73 -9.5" fill="none" stroke="#0c0c0c" stroke-width="0.6"/><path id="c27a" d="M-29.03 8.32 A30.2 30.2 0 1 1 29.3 7.31" fill="none"/><path id="c27b" d="M-30.47 21.34 A37.2 37.2 0 0 0 30.47 21.34" fill="none"/><g fill="#fff" stroke="#0c0c0c" stroke-width="2" font-family="Liberation Sans, sans-serif" font-weight="normal" paint-order="stroke" stroke-linejoin="round"><text font-size="9.6"><textPath href="#c27a" textLength="110" lengthAdjust="spacingAndGlyphs">UNITED STATES OF AMERICA</textPath></text><text font-size="13.4"><textPath href="#c27b" textLength="70" lengthAdjust="spacingAndGlyphs">ONE DIME</textPath></text></g></g>
<g transform="translate(319.6 982.3) scale(1.006)"><clipPath id="c28k"><circle r="47.3"/></clipPath><circle r="49.6" fill="#fff" stroke="#0c0c0c" stroke-width="1.2"/><circle r="47.5" fill="#cfcfcf"/><g clip-path="url(#c28k)"><path d="M-15.12 -45.25C-13.25 -44.22 -11.2 -43.73 -9.52 -43.5C-7.84 -43.27 -4.11 -43.87 -2.52 -43.5C-0.93 -43.13 1.07 -41.63 2.38 -40.7C3.69 -39.77 6.16 -37.81 7.28 -36.5C8.4 -35.19 10.08 -32.49 10.78 -30.9C11.48 -29.32 12.25 -26.38 12.53 -24.6C12.81 -22.83 12.88 -19.29 12.88 -17.61C12.88 -15.93 12.71 -13.29 12.53 -12.01C12.34 -10.73 11.15 -9.11 11.48 -8.02C11.8 -6.93 14.58 -5.03 14.98 -3.82C15.37 -2.61 14.96 -0.04 14.42 1.08C13.87 2.2 11.68 3.92 10.92 4.58C10.15 5.23 9.26 5.14 8.68 5.98C8.1 6.82 7.23 9.38 6.58 10.87C5.92 12.37 4.62 15.87 3.78 17.17C2.94 18.48 0.98 19.93 0.28 20.67C-0.42 21.42 -1 21.74 -1.47 22.77C-1.94 23.8 -3.08 26.97 -3.22 28.37C-3.36 29.77 -3.17 31.78 -2.52 33.27C-1.87 34.76 0.37 37.89 1.68 39.57C2.99 41.25 5.97 44.06 7.28 45.86C8.58 47.67 19.87 52.11 11.48 53.07C3.08 54.03 -46.75 66.79 -55.7 53.07C-64.66 39.36 -60 -35.89 -55.7 -49.8C-51.41 -63.7 -28.92 -51.8 -23.51 -51.2C-18.1 -50.59 -16.98 -46.27 -15.12 -45.25Z" fill="#fff" stroke="#0c0c0c" stroke-width="1.1"/><path d="M-49.41 -0.11C-48.85 -2.16 -45.17 1.1 -44.51 1.78C-43.84 2.46 -43.18 5.91 -42.76 6.68C-42.34 7.45 -40.97 8.99 -40.31 9.48C-39.64 9.97 -35.82 10.35 -36.11 11.57C-36.4 12.8 -41.85 20.65 -43.25 21.72C-44.65 22.79 -49.49 24.46 -50.1 22.28C-50.72 20.1 -49.97 1.94 -49.41 -0.11Z" fill="#cfcfcf"/><path d="M-8.12 -35.8C-8.21 -35.08 -9.61 -32.28 -8.68 -31.46C-7.74 -30.65 -4.6 -30.94 -2.52 -30.9C-0.44 -30.87 2.26 -31.39 3.78 -31.25C5.3 -31.11 6.11 -30.26 6.58 -30.06M6.58 -30.06C6.65 -29.15 6.55 -26.21 7 -24.6C7.44 -23 8.72 -22.04 9.24 -20.41C9.75 -18.77 10.03 -16.67 10.08 -14.81C10.12 -12.94 9.61 -10.14 9.52 -9.21M-23.51 -30.76C-23.05 -31.49 -21.44 -34.98 -20.71 -35.1C-19.99 -35.22 -19.76 -31.23 -19.17 -31.46C-18.59 -31.7 -17.8 -36.5 -17.21 -36.5C-16.63 -36.5 -16.17 -31.6 -15.68 -31.46C-15.19 -31.32 -14.51 -34.96 -14.28 -35.66M-31.21 -33.7 L-25.47 -39.3M-28.41 -32.16 L-22.67 -37.76M-35.41 -27.26C-34.69 -27.52 -31.19 -29.74 -31.07 -28.8C-30.95 -27.87 -34.83 -22.6 -34.71 -21.67C-34.59 -20.73 -31.09 -22.95 -30.37 -23.21M-29.11 -25.86 L-26.87 -30.2M-37.51 -24.6 L-33.31 -30.9M-39.61 -19.01C-38.91 -18.87 -36.93 -18.42 -35.41 -18.17C-33.89 -17.91 -31.91 -17.23 -30.51 -17.47C-29.11 -17.7 -28.08 -18.96 -27.01 -19.57C-25.94 -20.17 -24.56 -20.85 -24.07 -21.11M-23.51 -30.76C-23.68 -29.97 -24.49 -27.73 -24.49 -26C-24.49 -24.28 -23.91 -22.27 -23.51 -20.41C-23.12 -18.54 -22.35 -15.74 -22.11 -14.81M-40.31 -12.71C-39.96 -12.1 -38.91 -9.19 -38.21 -9.07C-37.51 -8.95 -36.81 -12.13 -36.11 -12.01C-35.41 -11.89 -34.36 -8.98 -34.01 -8.37M-42.41 -0.67 L-37.51 -7.81M-39.26 1.29 L-37.51 5.14M-37.16 0.59 L-35.41 4.44M-35.06 -0.11 L-33.45 3.53M-39.61 -19.01C-40.28 -17.84 -42.73 -14.34 -43.67 -12.01C-44.6 -9.68 -45.07 -7.31 -45.21 -5.01C-45.35 -2.71 -44.62 0.65 -44.51 1.78M-41.01 -14.81 L-42.41 -9.21M-32.61 -9.21C-32.38 -8.28 -31.33 -5.24 -31.21 -3.61C-31.09 -1.98 -31.79 -0.11 -31.91 0.59M-44.51 1.78C-44.22 2.59 -43.46 5.39 -42.76 6.68C-42.06 7.96 -41.42 8.66 -40.31 9.48C-39.2 10.29 -36.81 11.22 -36.11 11.57M-36.11 11.57 L-43.25 21.72M-20.36 -13.41C-19.72 -13.85 -18.09 -15.72 -16.52 -16.07C-14.94 -16.42 -12.08 -16.01 -10.92 -15.51C-9.75 -15.01 -9.05 -13.71 -9.52 -13.06C-9.98 -12.4 -12.2 -11.76 -13.72 -11.59C-15.23 -11.41 -17.51 -11.71 -18.61 -12.01C-19.72 -12.31 -20.07 -13.17 -20.36 -13.41M-0.77 -13.41C-0.24 -13.78 1.04 -15.47 2.38 -15.65C3.72 -15.82 6.34 -14.95 7.28 -14.46C8.21 -13.97 8.56 -13.19 7.98 -12.71C7.39 -12.23 5.06 -11.68 3.78 -11.59C2.5 -11.5 1.04 -11.85 0.28 -12.15C-0.48 -12.45 -0.59 -13.2 -0.77 -13.41M-19.66 -16.07C-18.91 -16.3 -16.81 -17.41 -15.12 -17.47C-13.42 -17.53 -10.45 -16.59 -9.52 -16.42M-2.52 -16.07C-1.7 -16.24 0.51 -17.23 2.38 -17.12C4.25 -17 7.63 -15.66 8.68 -15.37M-3.22 -15.02C-2.87 -13.85 -1.77 -10.12 -1.12 -8.02C-0.47 -5.92 0.68 -3.82 0.7 -2.42C0.72 -1.02 -0.33 -0.21 -0.98 0.38C-1.63 0.96 -2.38 1.37 -3.22 1.08C-4.06 0.79 -5.2 -0.91 -6.02 -1.37C-6.83 -1.84 -7.77 -1.66 -8.12 -1.72M-9.52 -4.52 L-13.37 4.58M-13.72 6.33C-12.43 6.4 -8.7 6.7 -6.02 6.75C-3.34 6.79 0.98 6.63 2.38 6.61M-8.47 10.52C-7.88 10.65 -6.19 11.35 -4.97 11.29C-3.74 11.24 -1.76 10.36 -1.12 10.17M-15.12 16.12C-14.88 16.65 -14.88 18.4 -13.72 19.27C-12.55 20.15 -9.98 21.08 -8.12 21.37C-6.25 21.66 -3.98 21.2 -2.52 21.02C-1.06 20.85 0.1 20.44 0.63 20.32M11.48 -6.41C11.65 -5.71 12.53 -3.61 12.53 -2.21C12.53 -0.81 11.65 1.29 11.48 1.99M-28.41 -15.02C-28.53 -13.27 -29.23 -8.02 -29.11 -4.52C-28.99 -1.02 -28.64 2.83 -27.71 5.98C-26.78 9.13 -25.03 12.27 -23.51 14.37C-22 16.47 -19.43 17.87 -18.61 18.57M-27.01 15.07 L-19.31 18.57M-23.51 24.17C-22.11 24.87 -18.15 27.44 -15.12 28.37C-12.08 29.3 -6.95 29.54 -5.32 29.77M-22.11 26.97C-20.48 27.79 -15.47 30.82 -12.32 31.87C-9.17 32.92 -4.74 33.03 -3.22 33.27M-16.52 22.77C-15.82 23.35 -14.07 25.45 -12.32 26.27C-10.57 27.09 -7.07 27.44 -6.02 27.67M-34.01 8.78 L-28.41 22.77M-14.42 36.07C-14.07 37.23 -13.13 41.32 -12.32 43.07C-11.5 44.81 -9.98 45.98 -9.52 46.56M-9.52 40.97 L-6.72 43.76M-3.22 35.37C-2.64 36.3 -1 39.45 0.28 40.97C1.56 42.48 3.78 43.88 4.48 44.46M-20.71 29.98 L-17.91 36.28M0.28 39.78 L4.48 44.67" fill="none" stroke="#0c0c0c" stroke-width="1" stroke-linecap="round" stroke-linejoin="round"/><path d="M-27.71 -12.92 L-27.01 -4.52M-25.61 -11.52 L-24.56 -1.72M-23.51 -10.12 L-21.76 1.08M-21.41 -7.32 L-19.66 4.58M-19.31 -3.82 L-17.91 10.17" fill="none" stroke="#0c0c0c" stroke-width="1.5" stroke-linecap="round"/><path d="M-33.66 6.68 L-22.81 36.77" fill="none" stroke="#0c0c0c" stroke-width="1.7" stroke-linecap="round"/><path d="M-6.72 -14.32 L-4.76 -10.61 L-5.18 -5.01 L-9.66 -4.45 L-7.98 -9.91ZM-21.41 -20.97 L-18.61 -21.81 L-21.97 -14.81Z" fill="#0c0c0c"/><ellipse cx="-13.72" cy="-13.41" rx="2.4" ry="1.5" fill="#0c0c0c"/><ellipse cx="3.78" cy="-13.41" rx="2.4" ry="1.5" fill="#0c0c0c"/></g><circle r="47.5" fill="none" stroke="#0c0c0c" stroke-width="0.9"/><path id="c28a" d="M2.78 -39.8 A39.9 39.9 0 0 1 34.55 19.95" fill="none"/><g fill="#0c0c0c" stroke="#0c0c0c" stroke-width="0.25" font-family="Liberation Sans, sans-serif"><text font-size="7.2"><textPath href="#c28a" textLength="76" lengthAdjust="spacing">IN GOD WE TRUST</textPath></text><text x="3" y="27.3" font-family="Liberation Serif, serif" font-style="italic" font-size="14" textLength="31" lengthAdjust="spacingAndGlyphs" transform="rotate(-6 3 27.3)">Liberty</text><text x="6.4" y="35.7" font-size="7.4" textLength="21.5" lengthAdjust="spacing">2006</text><text x="15.7" y="41.2" font-size="4.6">S</text></g></g>
<g transform="translate(421.9 982.3) scale(1.006)"><clipPath id="c29k"><circle r="47.3"/></clipPath><circle r="49.6" fill="#fff" stroke="#0c0c0c" stroke-width="1.2"/><circle r="47.5" fill="#cfcfcf"/><g clip-path="url(#c29k)"><path d="M-15.12 -45.25C-13.25 -44.22 -11.2 -43.73 -9.52 -43.5C-7.84 -43.27 -4.11 -43.87 -2.52 -43.5C-0.93 -43.13 1.07 -41.63 2.38 -40.7C3.69 -39.77 6.16 -37.81 7.28 -36.5C8.4 -35.19 10.08 -32.49 10.78 -30.9C11.48 -29.32 12.25 -26.38 12.53 -24.6C12.81 -22.83 12.88 -19.29 12.88 -17.61C12.88 -15.93 12.71 -13.29 12.53 -12.01C12.34 -10.73 11.15 -9.11 11.48 -8.02C11.8 -6.93 14.58 -5.03 14.98 -3.82C15.37 -2.61 14.96 -0.04 14.42 1.08C13.87 2.2 11.68 3.92 10.92 4.58C10.15 5.23 9.26 5.14 8.68 5.98C8.1 6.82 7.23 9.38 6.58 10.87C5.92 12.37 4.62 15.87 3.78 17.17C2.94 18.48 0.98 19.93 0.28 20.67C-0.42 21.42 -1 21.74 -1.47 22.77C-1.94 23.8 -3.08 26.97 -3.22 28.37C-3.36 29.77 -3.17 31.78 -2.52 33.27C-1.87 34.76 0.37 37.89 1.68 39.57C2.99 41.25 5.97 44.06 7.28 45.86C8.58 47.67 19.87 52.11 11.48 53.07C3.08 54.03 -46.75 66.79 -55.7 53.07C-64.66 39.36 -60 -35.89 -55.7 -49.8C-51.41 -63.7 -28.92 -51.8 -23.51 -51.2C-18.1 -50.59 -16.98 -46.27 -15.12 -45.25Z" fill="#fff" stroke="#0c0c0c" stroke-width="1.1"/><path d="M-49.41 -0.11C-48.85 -2.16 -45.17 1.1 -44.51 1.78C-43.84 2.46 -43.18 5.91 -42.76 6.68C-42.34 7.45 -40.97 8.99 -40.31 9.48C-39.64 9.97 -35.82 10.35 -36.11 11.57C-36.4 12.8 -41.85 20.65 -43.25 21.72C-44.65 22.79 -49.49 24.46 -50.1 22.28C-50.72 20.1 -49.97 1.94 -49.41 -0.11Z" fill="#cfcfcf"/><path d="M-8.12 -35.8C-8.21 -35.08 -9.61 -32.28 -8.68 -31.46C-7.74 -30.65 -4.6 -30.94 -2.52 -30.9C-0.44 -30.87 2.26 -31.39 3.78 -31.25C5.3 -31.11 6.11 -30.26 6.58 -30.06M6.58 -30.06C6.65 -29.15 6.55 -26.21 7 -24.6C7.44 -23 8.72 -22.04 9.24 -20.41C9.75 -18.77 10.03 -16.67 10.08 -14.81C10.12 -12.94 9.61 -10.14 9.52 -9.21M-23.51 -30.76C-23.05 -31.49 -21.44 -34.98 -20.71 -35.1C-19.99 -35.22 -19.76 -31.23 -19.17 -31.46C-18.59 -31.7 -17.8 -36.5 -17.21 -36.5C-16.63 -36.5 -16.17 -31.6 -15.68 -31.46C-15.19 -31.32 -14.51 -34.96 -14.28 -35.66M-31.21 -33.7 L-25.47 -39.3M-28.41 -32.16 L-22.67 -37.76M-35.41 -27.26C-34.69 -27.52 -31.19 -29.74 -31.07 -28.8C-30.95 -27.87 -34.83 -22.6 -34.71 -21.67C-34.59 -20.73 -31.09 -22.95 -30.37 -23.21M-29.11 -25.86 L-26.87 -30.2M-37.51 -24.6 L-33.31 -30.9M-39.61 -19.01C-38.91 -18.87 -36.93 -18.42 -35.41 -18.17C-33.89 -17.91 -31.91 -17.23 -30.51 -17.47C-29.11 -17.7 -28.08 -18.96 -27.01 -19.57C-25.94 -20.17 -24.56 -20.85 -24.07 -21.11M-23.51 -30.76C-23.68 -29.97 -24.49 -27.73 -24.49 -26C-24.49 -24.28 -23.91 -22.27 -23.51 -20.41C-23.12 -18.54 -22.35 -15.74 -22.11 -14.81M-40.31 -12.71C-39.96 -12.1 -38.91 -9.19 -38.21 -9.07C-37.51 -8.95 -36.81 -12.13 -36.11 -12.01C-35.41 -11.89 -34.36 -8.98 -34.01 -8.37M-42.41 -0.67 L-37.51 -7.81M-39.26 1.29 L-37.51 5.14M-37.16 0.59 L-35.41 4.44M-35.06 -0.11 L-33.45 3.53M-39.61 -19.01C-40.28 -17.84 -42.73 -14.34 -43.67 -12.01C-44.6 -9.68 -45.07 -7.31 -45.21 -5.01C-45.35 -2.71 -44.62 0.65 -44.51 1.78M-41.01 -14.81 L-42.41 -9.21M-32.61 -9.21C-32.38 -8.28 -31.33 -5.24 -31.21 -3.61C-31.09 -1.98 -31.79 -0.11 -31.91 0.59M-44.51 1.78C-44.22 2.59 -43.46 5.39 -42.76 6.68C-42.06 7.96 -41.42 8.66 -40.31 9.48C-39.2 10.29 -36.81 11.22 -36.11 11.57M-36.11 11.57 L-43.25 21.72M-20.36 -13.41C-19.72 -13.85 -18.09 -15.72 -16.52 -16.07C-14.94 -16.42 -12.08 -16.01 -10.92 -15.51C-9.75 -15.01 -9.05 -13.71 -9.52 -13.06C-9.98 -12.4 -12.2 -11.76 -13.72 -11.59C-15.23 -11.41 -17.51 -11.71 -18.61 -12.01C-19.72 -12.31 -20.07 -13.17 -20.36 -13.41M-0.77 -13.41C-0.24 -13.78 1.04 -15.47 2.38 -15.65C3.72 -15.82 6.34 -14.95 7.28 -14.46C8.21 -13.97 8.56 -13.19 7.98 -12.71C7.39 -12.23 5.06 -11.68 3.78 -11.59C2.5 -11.5 1.04 -11.85 0.28 -12.15C-0.48 -12.45 -0.59 -13.2 -0.77 -13.41M-19.66 -16.07C-18.91 -16.3 -16.81 -17.41 -15.12 -17.47C-13.42 -17.53 -10.45 -16.59 -9.52 -16.42M-2.52 -16.07C-1.7 -16.24 0.51 -17.23 2.38 -17.12C4.25 -17 7.63 -15.66 8.68 -15.37M-3.22 -15.02C-2.87 -13.85 -1.77 -10.12 -1.12 -8.02C-0.47 -5.92 0.68 -3.82 0.7 -2.42C0.72 -1.02 -0.33 -0.21 -0.98 0.38C-1.63 0.96 -2.38 1.37 -3.22 1.08C-4.06 0.79 -5.2 -0.91 -6.02 -1.37C-6.83 -1.84 -7.77 -1.66 -8.12 -1.72M-9.52 -4.52 L-13.37 4.58M-13.72 6.33C-12.43 6.4 -8.7 6.7 -6.02 6.75C-3.34 6.79 0.98 6.63 2.38 6.61M-8.47 10.52C-7.88 10.65 -6.19 11.35 -4.97 11.29C-3.74 11.24 -1.76 10.36 -1.12 10.17M-15.12 16.12C-14.88 16.65 -14.88 18.4 -13.72 19.27C-12.55 20.15 -9.98 21.08 -8.12 21.37C-6.25 21.66 -3.98 21.2 -2.52 21.02C-1.06 20.85 0.1 20.44 0.63 20.32M11.48 -6.41C11.65 -5.71 12.53 -3.61 12.53 -2.21C12.53 -0.81 11.65 1.29 11.48 1.99M-28.41 -15.02C-28.53 -13.27 -29.23 -8.02 -29.11 -4.52C-28.99 -1.02 -28.64 2.83 -27.71 5.98C-26.78 9.13 -25.03 12.27 -23.51 14.37C-22 16.47 -19.43 17.87 -18.61 18.57M-27.01 15.07 L-19.31 18.57M-23.51 24.17C-22.11 24.87 -18.15 27.44 -15.12 28.37C-12.08 29.3 -6.95 29.54 -5.32 29.77M-22.11 26.97C-20.48 27.79 -15.47 30.82 -12.32 31.87C-9.17 32.92 -4.74 33.03 -3.22 33.27M-16.52 22.77C-15.82 23.35 -14.07 25.45 -12.32 26.27C-10.57 27.09 -7.07 27.44 -6.02 27.67M-34.01 8.78 L-28.41 22.77M-14.42 36.07C-14.07 37.23 -13.13 41.32 -12.32 43.07C-11.5 44.81 -9.98 45.98 -9.52 46.56M-9.52 40.97 L-6.72 43.76M-3.22 35.37C-2.64 36.3 -1 39.45 0.28 40.97C1.56 42.48 3.78 43.88 4.48 44.46M-20.71 29.98 L-17.91 36.28M0.28 39.78 L4.48 44.67" fill="none" stroke="#0c0c0c" stroke-width="1" stroke-linecap="round" stroke-linejoin="round"/><path d="M-27.71 -12.92 L-27.01 -4.52M-25.61 -11.52 L-24.56 -1.72M-23.51 -10.12 L-21.76 1.08M-21.41 -7.32 L-19.66 4.58M-19.31 -3.82 L-17.91 10.17" fill="none" stroke="#0c0c0c" stroke-width="1.5" stroke-linecap="round"/><path d="M-33.66 6.68 L-22.81 36.77" fill="none" stroke="#0c0c0c" stroke-width="1.7" stroke-linecap="round"/><path d="M-6.72 -14.32 L-4.76 -10.61 L-5.18 -5.01 L-9.66 -4.45 L-7.98 -9.91ZM-21.41 -20.97 L-18.61 -21.81 L-21.97 -14.81Z" fill="#0c0c0c"/><ellipse cx="-13.72" cy="-13.41" rx="2.4" ry="1.5" fill="#0c0c0c"/><ellipse cx="3.78" cy="-13.41" rx="2.4" ry="1.5" fill="#0c0c0c"/></g><circle r="47.5" fill="none" stroke="#0c0c0c" stroke-width="0.9"/><path id="c29a" d="M2.78 -39.8 A39.9 39.9 0 0 1 34.55 19.95" fill="none"/><g fill="#0c0c0c" stroke="#0c0c0c" stroke-width="0.25" font-family="Liberation Sans, sans-serif"><text font-size="7.2"><textPath href="#c29a" textLength="76" lengthAdjust="spacing">IN GOD WE TRUST</textPath></text><text x="3" y="27.3" font-family="Liberation Serif, serif" font-style="italic" font-size="14" textLength="31" lengthAdjust="spacingAndGlyphs" transform="rotate(-6 3 27.3)">Liberty</text><text x="6.4" y="35.7" font-size="7.4" textLength="21.5" lengthAdjust="spacing">2006</text><text x="15.7" y="41.2" font-size="4.6">S</text></g></g>
<g transform="translate(127.1 1102.3) scale(1.003)"><circle r="56.9" fill="#fff" stroke="#0c0c0c" stroke-width="1.3"/><circle r="54.4" fill="#cfcfcf" stroke="#0c0c0c" stroke-width="1"/><path d="M-9 -37.25C-11.19 -36.35 -11.96 -35.73 -13.38 -34.38C-14.79 -33.02 -16.46 -30.98 -17.5 -29.12C-18.54 -27.27 -19 -24.92 -19.62 -23.25C-20.25 -21.58 -20.48 -20.58 -21.25 -19.12C-22.02 -17.67 -23.17 -16.27 -24.25 -14.5C-25.33 -12.73 -27.33 -9.96 -27.75 -8.5C-28.17 -7.04 -27.5 -6.42 -26.75 -5.75C-26 -5.08 -23.67 -5.21 -23.25 -4.5C-22.83 -3.79 -24.33 -2.33 -24.25 -1.5C-24.17 -0.67 -22.71 -0.25 -22.75 0.5C-22.79 1.25 -24.42 2.17 -24.5 3C-24.58 3.83 -23.33 4.75 -23.25 5.5C-23.17 6.25 -24.54 6.88 -24 7.5C-23.46 8.12 -21.67 8.88 -20 9.25C-18.33 9.62 -15.42 8.92 -14 9.75C-12.58 10.58 -12.02 12.5 -11.5 14.25C-10.98 16 -10.75 18.17 -10.88 20.25C-11 22.33 -11.56 24.62 -12.25 26.75C-12.94 28.88 -15.54 31.54 -15 33C-14.46 34.46 -11.04 34.85 -9 35.5C-6.96 36.15 -5.46 36.79 -2.75 36.88C-0.04 36.96 4.12 36.56 7.25 36C10.38 35.44 13.88 34.25 16 33.5C18.12 32.75 18.83 31.96 20 31.5C21.17 31.04 21.96 31.12 23 30.75C24.04 30.38 25.29 30.38 26.25 29.25C27.21 28.12 28.25 25.92 28.75 24C29.25 22.08 29.42 19.33 29.25 17.75C29.08 16.17 28.54 15.21 27.75 14.5C26.96 13.79 25.62 13.92 24.5 13.5C23.38 13.08 21.79 12.83 21 12C20.21 11.17 19.71 9.62 19.75 8.5C19.79 7.38 20.42 6.62 21.25 5.25C22.08 3.88 23.85 2.12 24.75 0.25C25.65 -1.62 26.4 -3.71 26.62 -6C26.85 -8.29 26.46 -11 26.12 -13.5C25.79 -16 25.4 -18.5 24.62 -21C23.85 -23.5 22.94 -26.21 21.5 -28.5C20.06 -30.79 18.17 -33.08 16 -34.75C13.83 -36.42 11.21 -37.67 8.5 -38.5C5.79 -39.33 2.67 -39.96 -0.25 -39.75C-3.17 -39.54 -6.81 -38.15 -9 -37.25Z" fill="#fff" stroke="#0c0c0c" stroke-width="1.5" stroke-linejoin="round"/><path d="M-6.5 -34.75C-5.88 -34.96 -4 -36 -2.75 -36C-1.5 -36 0.38 -34.96 1 -34.75M1 -36.62C1.62 -36.31 3.81 -35.58 4.75 -34.75C5.69 -33.92 6.31 -32.15 6.62 -31.62M-2.75 -31.62C-2.12 -31.31 0.17 -30.58 1 -29.75C1.83 -28.92 2.04 -27.15 2.25 -26.62M-7.75 -28.5C-8.27 -27.88 -10.15 -26.1 -10.88 -24.75C-11.6 -23.4 -11.92 -21.1 -12.12 -20.38M-4.62 -26.62C-4.94 -26 -6.29 -24.12 -6.5 -22.88C-6.71 -21.62 -5.98 -19.75 -5.88 -19.12M3.5 -28.5C4.33 -28.19 7.04 -27.46 8.5 -26.62C9.96 -25.79 11.62 -24.02 12.25 -23.5M8.5 -31C9.33 -30.58 12.15 -29.65 13.5 -28.5C14.85 -27.35 16.1 -24.85 16.62 -24.12M-2.75 -18.5C-1.92 -18.19 0.79 -16.73 2.25 -16.62C3.71 -16.52 5.38 -17.67 6 -17.88M1 -22.25C1.83 -22.04 4.44 -21.62 6 -21C7.56 -20.38 9.65 -18.92 10.38 -18.5M12.25 -20.38C13.08 -20.06 16 -19.44 17.25 -18.5C18.5 -17.56 19.33 -15.38 19.75 -14.75M-2.75 -7.25C-1.92 -7.67 0.38 -9.54 2.25 -9.75C4.12 -9.96 6.62 -9.33 8.5 -8.5C10.38 -7.67 12.67 -5.38 13.5 -4.75M-5.88 -2.88C-4.94 -2.98 -1.81 -2.88 -0.25 -3.5C1.31 -4.12 2.88 -6.1 3.5 -6.62M8.5 -3.5C9.33 -3.08 11.83 -1.31 13.5 -1C15.17 -0.69 17.67 -1.52 18.5 -1.62M14.75 -9.75C15.58 -9.85 18.29 -10.79 19.75 -10.38C21.21 -9.96 22.88 -7.77 23.5 -7.25M11 0.25C11.42 1.08 13.12 3.58 13.5 5.25C13.88 6.92 13.29 9.42 13.25 10.25M16 2.75C16.42 3.58 18.17 6.08 18.5 7.75C18.83 9.42 18.08 11.92 18 12.75M8.5 -12.25C9.54 -12.46 12.88 -13.5 14.75 -13.5C16.62 -13.5 18.92 -12.46 19.75 -12.25M3.5 -33.5C4.12 -33.25 6.21 -32.73 7.25 -32C8.29 -31.27 9.33 -29.6 9.75 -29.12M13.5 -32.88C14.23 -32.25 16.73 -30.48 17.88 -29.12C19.02 -27.77 19.96 -25.48 20.38 -24.75M-1.5 -25.38C-0.67 -25.06 2.15 -24.33 3.5 -23.5C4.85 -22.67 6.1 -20.9 6.62 -20.38M4.75 -15.38C5.58 -15.44 8.29 -15.96 9.75 -15.75C11.21 -15.54 12.88 -14.4 13.5 -14.12M-9 -32.88C-9.42 -32.35 -10.92 -30.9 -11.5 -29.75C-12.08 -28.6 -12.33 -26.62 -12.5 -26M18.5 -22.25C19.08 -21.52 21.17 -19.44 22 -17.88C22.83 -16.31 23.25 -13.71 23.5 -12.88M1 -6C1.83 -5.69 4.44 -4.33 6 -4.12C7.56 -3.92 9.65 -4.65 10.38 -4.75M18.5 -6C18.96 -5.17 20.94 -2.67 21.25 -1C21.56 0.67 20.52 3.17 20.38 4M6 -0.38C6.52 0.25 8.71 2.02 9.12 3.38C9.54 4.73 8.6 7.02 8.5 7.75M14.75 10.25C15.12 11.08 16.75 13.58 17 15.25C17.25 16.92 16.38 19.42 16.25 20.25M-5.25 -14.75C-4.62 -14.23 -2.96 -12.04 -1.5 -11.62C-0.04 -11.21 2.67 -12.15 3.5 -12.25M13.5 -18.5C14.02 -17.98 15.79 -16.52 16.62 -15.38C17.46 -14.23 18.19 -12.25 18.5 -11.62M-6.5 3.38C-6.81 3.9 -7.54 5.6 -8.38 6.5C-9.21 7.4 -10.98 8.38 -11.5 8.75M-1.5 15.25 L1 13.38M-4.62 20.25 L-2.12 17.75M-7.75 26.5 L-5.25 23.38M11 10.25C11.1 11.08 11.21 13.58 11.62 15.25C12.04 16.92 13.19 19.42 13.5 20.25M13.5 22.75C13.71 23.38 14.12 25.42 14.75 26.5C15.38 27.58 16.83 28.79 17.25 29.25M-20.25 -17.88C-19.73 -17.98 -18 -18.71 -17.12 -18.5C-16.25 -18.29 -15.35 -16.94 -15 -16.62M-19.25 -14.12C-18.96 -14.27 -18 -15.02 -17.5 -15C-17 -14.98 -16.46 -14.17 -16.25 -14M22 15.25C22.46 16.08 24.38 18.38 24.75 20.25C25.12 22.12 24.79 24.92 24.25 26.5C23.71 28.08 21.96 29.21 21.5 29.75M24.75 15.25C25.08 16.29 26.54 19.42 26.75 21.5C26.96 23.58 26.12 26.71 26 27.75" fill="none" stroke="#0c0c0c" stroke-width="1.05" stroke-linecap="round"/><path d="M-9.62 -13.25C-9 -13.15 -8.1 -11.17 -8 -9.75C-7.9 -8.33 -8.42 -5.83 -9 -4.75C-9.58 -3.67 -10.83 -2.94 -11.5 -3.25C-12.17 -3.56 -12.96 -5.44 -13 -6.62C-13.04 -7.81 -12.31 -9.27 -11.75 -10.38C-11.19 -11.48 -10.25 -13.35 -9.62 -13.25Z" fill="#0c0c0c"/><path id="c30a" d="M-41.04 -3.59 A41.2 41.2 0 0 1 40.97 -4.31" fill="none"/><path id="c30b" d="M-37.43 32.54 A49.6 49.6 0 0 0 38 -31.88" fill="none"/><g fill="#0c0c0c" stroke="#0c0c0c" stroke-width="0.65" font-family="Liberation Sans, sans-serif"><text font-size="12.6"><textPath href="#c30a" textLength="121" lengthAdjust="spacingAndGlyphs">UNITED STATES OF AMERICA</textPath></text><text font-size="12"><textPath href="#c30b" textLength="86" lengthAdjust="spacingAndGlyphs">QUARTER DOLLAR</textPath></text><text x="-44.2" y="21.6" font-size="10.2" stroke-width="0.3" textLength="29" lengthAdjust="spacingAndGlyphs">LIBERTY</text><g font-size="5" font-weight="bold" text-anchor="middle" stroke="none"><text x="36" y="0.8">IN</text><text x="37" y="6.4" textLength="21" lengthAdjust="spacingAndGlyphs">GOD WE</text><text x="36.8" y="11.6" textLength="16" lengthAdjust="spacingAndGlyphs">TRUST</text><text x="36.6" y="21" font-size="4.4">S</text></g></g></g>
<g transform="translate(226.3 1118.8) scale(1.005)"><circle r="40.7" fill="#fff" stroke="#0c0c0c" stroke-width="1"/><circle r="39.1" fill="#cfcfcf" stroke="#0c0c0c" stroke-width="0.8"/><text x="0" y="15.8" text-anchor="middle" font-family="Liberation Sans, sans-serif" font-weight="bold" font-size="4.5" fill="#0c0c0c" stroke="#0c0c0c" stroke-width="0.35" textLength="62" lengthAdjust="spacing">• E PLURIBUS UNUM •</text><g fill="#fff" stroke="#0c0c0c" stroke-width="1.15" stroke-linejoin="round"><path d="M-15.49 8.36C-15.55 11.05 -14.88 13.55 -14.73 15.96C-14.57 18.37 -14.88 21.66 -14.54 22.8C-14.19 23.94 -12.95 23.94 -12.64 22.8C-12.32 21.66 -12.6 18.37 -12.64 15.96C-12.67 13.55 -12.83 11.05 -12.83 8.36C-12.83 5.67 -12.56 2.66 -12.64 -0.19C-12.71 -3.04 -12.98 -7.32 -13.3 -8.74C-13.62 -10.17 -14.36 -10.17 -14.54 -8.74C-14.71 -7.32 -14.19 -3.04 -14.35 -0.19C-14.5 2.66 -15.42 5.67 -15.49 8.36Z"/><path d="M13.59 6.46C13.36 9.15 13.36 11.53 13.02 14.06C12.67 16.59 11.43 20.33 11.5 21.66C11.56 22.99 12.83 23.24 13.4 22.04C13.97 20.84 14.54 17.04 14.92 14.44C15.3 11.84 15.52 9.22 15.68 6.46C15.83 3.71 16.09 -0.67 15.87 -2.09C15.64 -3.52 14.73 -3.52 14.35 -2.09C13.97 -0.67 13.81 3.77 13.59 6.46Z"/><ellipse cx="-13.97" cy="-14.63" rx="2.57" ry="5.89" transform="rotate(-4 -13.97 -14.63)"/><ellipse cx="-8.84" cy="-7.6" rx="2.28" ry="5.32" transform="rotate(25 -8.84 -7.6)"/><ellipse cx="-17.96" cy="-13.49" rx="1.81" ry="4.75" transform="rotate(-18 -17.96 -13.49)"/><ellipse cx="-22.52" cy="-3.04" rx="2.38" ry="5.51" transform="rotate(-42 -22.52 -3.04)"/><ellipse cx="-24.42" cy="3.61" rx="2.09" ry="5.13" transform="rotate(-80 -24.42 3.61)"/><ellipse cx="-7.32" cy="2.09" rx="2.09" ry="5.32" transform="rotate(35 -7.32 2.09)"/><ellipse cx="-18.72" cy="1.33" rx="1.81" ry="4.37" transform="rotate(-25 -18.72 1.33)"/><ellipse cx="-4.47" cy="6.08" rx="1.71" ry="3.99" transform="rotate(55 -4.47 6.08)"/><ellipse cx="-17.58" cy="-4.94" rx="1.52" ry="3.8" transform="rotate(-30 -17.58 -4.94)"/><ellipse cx="15.11" cy="-13.87" rx="3.61" ry="5.32" transform="rotate(8 15.11 -13.87)"/><ellipse cx="24.8" cy="-7.03" rx="2.66" ry="5.32" transform="rotate(40 24.8 -7.03)"/><ellipse cx="21" cy="2.85" rx="2.95" ry="4.75" transform="rotate(52 21 2.85)"/><ellipse cx="10.74" cy="-3.04" rx="2.57" ry="4.94" transform="rotate(-20 10.74 -3.04)"/><ellipse cx="26.13" cy="3.61" rx="2.19" ry="3.23" transform="rotate(72 26.13 3.61)"/><ellipse cx="8.08" cy="0.95" rx="1.9" ry="4.18" transform="rotate(-32 8.08 0.95)"/><ellipse cx="17.39" cy="-3.04" rx="1.9" ry="3.8" transform="rotate(20 17.39 -3.04)"/><path d="M-2.66 -13.02C-3.93 -13.7 -2.9 -15.79 -3.33 -17.1C-3.75 -18.41 -5.16 -19.68 -5.23 -20.9C-5.29 -22.12 -4.4 -23.47 -3.71 -24.42C-3.01 -25.37 -1.9 -26.11 -1.05 -26.6C-0.19 -27.09 0.7 -27.49 1.43 -27.36C2.15 -27.23 2.69 -25.78 3.33 -25.84C3.96 -25.9 4.59 -27.74 5.23 -27.74C5.86 -27.74 6.71 -26.79 7.13 -25.84C7.54 -24.89 7.82 -23.47 7.7 -22.04C7.57 -20.62 6.94 -18.79 6.37 -17.29C5.8 -15.79 5.78 -13.73 4.28 -13.02C2.77 -12.3 -1.39 -12.33 -2.66 -13.02Z"/><path d="M-2.76 -10.45 L3.71 -10.45 L2.38 20.71 L-1.05 20.71Z"/><path d="M-3.9 -13.11 L4.85 -13.11 L4.28 -10.07 L-3.33 -10.07Z"/><path d="M-2.38 20.71 L3.9 20.71 L2.95 25.27 L-1.43 25.27Z"/><circle cx="0.67" cy="26.6" r="1.5"/></g><path d="M-0.67 -8.74 L-0.29 19.76M1.24 -8.74 L1.24 19.76M-1.62 -24.42 L-0.48 -16.34M4.28 -24.42 L3.33 -16.34M-14.25 -18.24 L-14.16 -10.64M14.92 -17.1 L14.73 -9.5" fill="none" stroke="#0c0c0c" stroke-width="0.6"/><path id="c31a" d="M-29.03 8.32 A30.2 30.2 0 1 1 29.3 7.31" fill="none"/><path id="c31b" d="M-30.47 21.34 A37.2 37.2 0 0 0 30.47 21.34" fill="none"/><g fill="#fff" stroke="#0c0c0c" stroke-width="2" font-family="Liberation Sans, sans-serif" font-weight="normal" paint-order="stroke" stroke-linejoin="round"><text font-size="9.6"><textPath href="#c31a" textLength="110" lengthAdjust="spacingAndGlyphs">UNITED STATES OF AMERICA</textPath></text><text font-size="13.4"><textPath href="#c31b" textLength="70" lengthAdjust="spacingAndGlyphs">ONE DIME</textPath></text></g></g>
<g transform="translate(311.3 1118.8) scale(1.005)"><circle r="40.7" fill="#fff" stroke="#0c0c0c" stroke-width="1"/><circle r="39.1" fill="#cfcfcf" stroke="#0c0c0c" stroke-width="0.8"/><text x="0" y="15.8" text-anchor="middle" font-family="Liberation Sans, sans-serif" font-weight="bold" font-size="4.5" fill="#0c0c0c" stroke="#0c0c0c" stroke-width="0.35" textLength="62" lengthAdjust="spacing">• E PLURIBUS UNUM •</text><g fill="#fff" stroke="#0c0c0c" stroke-width="1.15" stroke-linejoin="round"><path d="M-15.49 8.36C-15.55 11.05 -14.88 13.55 -14.73 15.96C-14.57 18.37 -14.88 21.66 -14.54 22.8C-14.19 23.94 -12.95 23.94 -12.64 22.8C-12.32 21.66 -12.6 18.37 -12.64 15.96C-12.67 13.55 -12.83 11.05 -12.83 8.36C-12.83 5.67 -12.56 2.66 -12.64 -0.19C-12.71 -3.04 -12.98 -7.32 -13.3 -8.74C-13.62 -10.17 -14.36 -10.17 -14.54 -8.74C-14.71 -7.32 -14.19 -3.04 -14.35 -0.19C-14.5 2.66 -15.42 5.67 -15.49 8.36Z"/><path d="M13.59 6.46C13.36 9.15 13.36 11.53 13.02 14.06C12.67 16.59 11.43 20.33 11.5 21.66C11.56 22.99 12.83 23.24 13.4 22.04C13.97 20.84 14.54 17.04 14.92 14.44C15.3 11.84 15.52 9.22 15.68 6.46C15.83 3.71 16.09 -0.67 15.87 -2.09C15.64 -3.52 14.73 -3.52 14.35 -2.09C13.97 -0.67 13.81 3.77 13.59 6.46Z"/><ellipse cx="-13.97" cy="-14.63" rx="2.57" ry="5.89" transform="rotate(-4 -13.97 -14.63)"/><ellipse cx="-8.84" cy="-7.6" rx="2.28" ry="5.32" transform="rotate(25 -8.84 -7.6)"/><ellipse cx="-17.96" cy="-13.49" rx="1.81" ry="4.75" transform="rotate(-18 -17.96 -13.49)"/><ellipse cx="-22.52" cy="-3.04" rx="2.38" ry="5.51" transform="rotate(-42 -22.52 -3.04)"/><ellipse cx="-24.42" cy="3.61" rx="2.09" ry="5.13" transform="rotate(-80 -24.42 3.61)"/><ellipse cx="-7.32" cy="2.09" rx="2.09" ry="5.32" transform="rotate(35 -7.32 2.09)"/><ellipse cx="-18.72" cy="1.33" rx="1.81" ry="4.37" transform="rotate(-25 -18.72 1.33)"/><ellipse cx="-4.47" cy="6.08" rx="1.71" ry="3.99" transform="rotate(55 -4.47 6.08)"/><ellipse cx="-17.58" cy="-4.94" rx="1.52" ry="3.8" transform="rotate(-30 -17.58 -4.94)"/><ellipse cx="15.11" cy="-13.87" rx="3.61" ry="5.32" transform="rotate(8 15.11 -13.87)"/><ellipse cx="24.8" cy="-7.03" rx="2.66" ry="5.32" transform="rotate(40 24.8 -7.03)"/><ellipse cx="21" cy="2.85" rx="2.95" ry="4.75" transform="rotate(52 21 2.85)"/><ellipse cx="10.74" cy="-3.04" rx="2.57" ry="4.94" transform="rotate(-20 10.74 -3.04)"/><ellipse cx="26.13" cy="3.61" rx="2.19" ry="3.23" transform="rotate(72 26.13 3.61)"/><ellipse cx="8.08" cy="0.95" rx="1.9" ry="4.18" transform="rotate(-32 8.08 0.95)"/><ellipse cx="17.39" cy="-3.04" rx="1.9" ry="3.8" transform="rotate(20 17.39 -3.04)"/><path d="M-2.66 -13.02C-3.93 -13.7 -2.9 -15.79 -3.33 -17.1C-3.75 -18.41 -5.16 -19.68 -5.23 -20.9C-5.29 -22.12 -4.4 -23.47 -3.71 -24.42C-3.01 -25.37 -1.9 -26.11 -1.05 -26.6C-0.19 -27.09 0.7 -27.49 1.43 -27.36C2.15 -27.23 2.69 -25.78 3.33 -25.84C3.96 -25.9 4.59 -27.74 5.23 -27.74C5.86 -27.74 6.71 -26.79 7.13 -25.84C7.54 -24.89 7.82 -23.47 7.7 -22.04C7.57 -20.62 6.94 -18.79 6.37 -17.29C5.8 -15.79 5.78 -13.73 4.28 -13.02C2.77 -12.3 -1.39 -12.33 -2.66 -13.02Z"/><path d="M-2.76 -10.45 L3.71 -10.45 L2.38 20.71 L-1.05 20.71Z"/><path d="M-3.9 -13.11 L4.85 -13.11 L4.28 -10.07 L-3.33 -10.07Z"/><path d="M-2.38 20.71 L3.9 20.71 L2.95 25.27 L-1.43 25.27Z"/><circle cx="0.67" cy="26.6" r="1.5"/></g><path d="M-0.67 -8.74 L-0.29 19.76M1.24 -8.74 L1.24 19.76M-1.62 -24.42 L-0.48 -16.34M4.28 -24.42 L3.33 -16.34M-14.25 -18.24 L-14.16 -10.64M14.92 -17.1 L14.73 -9.5" fill="none" stroke="#0c0c0c" stroke-width="0.6"/><path id="c32a" d="M-29.03 8.32 A30.2 30.2 0 1 1 29.3 7.31" fill="none"/><path id="c32b" d="M-30.47 21.34 A37.2 37.2 0 0 0 30.47 21.34" fill="none"/><g fill="#fff" stroke="#0c0c0c" stroke-width="2" font-family="Liberation Sans, sans-serif" font-weight="normal" paint-order="stroke" stroke-linejoin="round"><text font-size="9.6"><textPath href="#c32a" textLength="110" lengthAdjust="spacingAndGlyphs">UNITED STATES OF AMERICA</textPath></text><text font-size="13.4"><textPath href="#c32b" textLength="70" lengthAdjust="spacingAndGlyphs">ONE DIME</textPath></text></g></g>
<g transform="translate(399.5 1115) scale(1.007)"><circle r="44.2" fill="#ef8a5d" stroke="#1c0d05" stroke-width="1.2"/><circle r="42.6" fill="none" stroke="#2a1408" stroke-width="0.7"/><clipPath id="c33k"><path d="M-22.7 -5.4 L-21.7 1.4 L-19.1 9.4 L-15.1 19.4 L-9.1 29.4 L-0.7 39 L7.7 29.4 L13.7 19.4 L18.7 9.4 L21.7 1.4 L23.3 -5.8 L0.2 -8.2Z"/></clipPath><g fill="#fbcfa8" stroke="#0c0c0c" stroke-width="1.3" stroke-linejoin="round"><path d="M-22.7 -5.4 L-21.7 1.4 L-19.1 9.4 L-15.1 19.4 L-9.1 29.4 L-0.7 39 L7.7 29.4 L13.7 19.4 L18.7 9.4 L21.7 1.4 L23.3 -5.8 L0.2 -8.2Z"/><path d="M-20.8 -7.6 L-20.8 39.4M-17.3 -7.6 L-17.3 39.4M-13.8 -7.6 L-13.8 39.4M-10.3 -7.6 L-10.3 39.4M-6.8 -7.6 L-6.8 39.4M-3.3 -7.6 L-3.3 39.4M0.2 -7.6 L0.2 39.4M3.7 -7.6 L3.7 39.4M7.2 -7.6 L7.2 39.4M10.7 -7.6 L10.7 39.4M14.2 -7.6 L14.2 39.4M17.7 -7.6 L17.7 39.4M21.2 -7.6 L21.2 39.4" fill="none" stroke-width="1" clip-path="url(#c33k)"/><path d="M-24.7 -19.4C-23.52 -20.32 -14.79 -21.04 -12.3 -21.8C-9.81 -22.56 -2.3 -27 0.2 -27C2.7 -27 10.19 -22.56 12.7 -21.8C15.21 -21.04 24.1 -20.32 25.3 -19.4C26.5 -18.48 24.88 -13.94 24.7 -12.6C24.52 -11.26 24.7 -6.52 23.5 -6C22.3 -5.48 15.03 -7.16 12.7 -7.4C10.37 -7.64 2.7 -8.4 0.2 -8.4C-2.3 -8.4 -9.99 -7.7 -12.3 -7.4C-14.61 -7.1 -21.72 -4.88 -22.9 -5.4C-24.08 -5.92 -23.92 -11.2 -24.1 -12.6C-24.28 -14 -25.88 -18.48 -24.7 -19.4Z"/><path d="M-23.5 -17.4C-22.38 -17.62 -14.67 -18.88 -12.3 -19.6C-9.93 -20.32 -2.3 -24.6 0.2 -24.6C2.7 -24.6 10.31 -20.32 12.7 -19.6C15.09 -18.88 22.96 -17.62 24.1 -17.4" fill="none" stroke-width="0.6"/><path d="M-31.7 8.6C-29.42 7.04 -27.38 6.12 -21.3 6C-15.22 5.88 -9.3 7.32 -1.3 8C6.7 8.68 12.7 9.36 18.7 9.4C24.7 9.44 26.14 9.2 28.7 8.2C31.26 7.2 30.34 5.48 31.5 4.4C32.66 3.32 33.58 2.6 34.5 2.8C35.42 3 36.14 4.08 36.1 5.4C36.06 6.72 35.18 8.04 34.3 9.4C33.42 10.76 32.34 9.8 31.7 12.2C31.06 14.6 33.7 19.24 31.1 21.4C28.5 23.56 25.18 22.88 18.7 23C12.22 23.12 6.7 22.6 -1.3 22C-9.3 21.4 -16.02 20.12 -21.3 20C-26.58 19.88 -26.14 20.32 -27.7 21.4C-29.26 22.48 -28.26 24.68 -29.1 25.4C-29.94 26.12 -31.1 26.16 -31.9 25C-32.7 23.84 -32.94 21.84 -33.1 19.6C-33.26 17.36 -32.98 16 -32.7 13.8C-32.42 11.6 -33.98 10.16 -31.7 8.6Z"/></g><g font-family="Liberation Sans, sans-serif" font-weight="bold"><text x="0" y="-10.4" text-anchor="middle" font-size="6.4" fill="#0c0c0c" stroke="#0c0c0c" stroke-width="0.3" textLength="45" lengthAdjust="spacingAndGlyphs">E PLURIBUS UNUM</text><text x="-0.6" y="20.2" text-anchor="middle" font-size="14" fill="#fbcfa8" stroke="#0c0c0c" stroke-width="2.4" stroke-linejoin="round" paint-order="stroke" textLength="56" lengthAdjust="spacingAndGlyphs" transform="rotate(1.5)">ONE CENT</text><path id="c33a" d="M-33.98 1.19 A34 34 0 1 1 33.98 1.19" fill="none"/><text font-size="9.8" fill="#0c0603" stroke="#0c0603" stroke-width="0.4" font-weight="normal"><textPath href="#c33a" textLength="108" lengthAdjust="spacingAndGlyphs">UNITED STATES OF AMERICA</textPath></text></g></g>
<g transform="translate(491 1115) scale(1.007)"><circle r="44.2" fill="#ef8a5d" stroke="#1c0d05" stroke-width="1.2"/><circle r="42.6" fill="none" stroke="#2a1408" stroke-width="0.7"/><clipPath id="c34k"><path d="M-22.7 -5.4 L-21.7 1.4 L-19.1 9.4 L-15.1 19.4 L-9.1 29.4 L-0.7 39 L7.7 29.4 L13.7 19.4 L18.7 9.4 L21.7 1.4 L23.3 -5.8 L0.2 -8.2Z"/></clipPath><g fill="#fbcfa8" stroke="#0c0c0c" stroke-width="1.3" stroke-linejoin="round"><path d="M-22.7 -5.4 L-21.7 1.4 L-19.1 9.4 L-15.1 19.4 L-9.1 29.4 L-0.7 39 L7.7 29.4 L13.7 19.4 L18.7 9.4 L21.7 1.4 L23.3 -5.8 L0.2 -8.2Z"/><path d="M-20.8 -7.6 L-20.8 39.4M-17.3 -7.6 L-17.3 39.4M-13.8 -7.6 L-13.8 39.4M-10.3 -7.6 L-10.3 39.4M-6.8 -7.6 L-6.8 39.4M-3.3 -7.6 L-3.3 39.4M0.2 -7.6 L0.2 39.4M3.7 -7.6 L3.7 39.4M7.2 -7.6 L7.2 39.4M10.7 -7.6 L10.7 39.4M14.2 -7.6 L14.2 39.4M17.7 -7.6 L17.7 39.4M21.2 -7.6 L21.2 39.4" fill="none" stroke-width="1" clip-path="url(#c34k)"/><path d="M-24.7 -19.4C-23.52 -20.32 -14.79 -21.04 -12.3 -21.8C-9.81 -22.56 -2.3 -27 0.2 -27C2.7 -27 10.19 -22.56 12.7 -21.8C15.21 -21.04 24.1 -20.32 25.3 -19.4C26.5 -18.48 24.88 -13.94 24.7 -12.6C24.52 -11.26 24.7 -6.52 23.5 -6C22.3 -5.48 15.03 -7.16 12.7 -7.4C10.37 -7.64 2.7 -8.4 0.2 -8.4C-2.3 -8.4 -9.99 -7.7 -12.3 -7.4C-14.61 -7.1 -21.72 -4.88 -22.9 -5.4C-24.08 -5.92 -23.92 -11.2 -24.1 -12.6C-24.28 -14 -25.88 -18.48 -24.7 -19.4Z"/><path d="M-23.5 -17.4C-22.38 -17.62 -14.67 -18.88 -12.3 -19.6C-9.93 -20.32 -2.3 -24.6 0.2 -24.6C2.7 -24.6 10.31 -20.32 12.7 -19.6C15.09 -18.88 22.96 -17.62 24.1 -17.4" fill="none" stroke-width="0.6"/><path d="M-31.7 8.6C-29.42 7.04 -27.38 6.12 -21.3 6C-15.22 5.88 -9.3 7.32 -1.3 8C6.7 8.68 12.7 9.36 18.7 9.4C24.7 9.44 26.14 9.2 28.7 8.2C31.26 7.2 30.34 5.48 31.5 4.4C32.66 3.32 33.58 2.6 34.5 2.8C35.42 3 36.14 4.08 36.1 5.4C36.06 6.72 35.18 8.04 34.3 9.4C33.42 10.76 32.34 9.8 31.7 12.2C31.06 14.6 33.7 19.24 31.1 21.4C28.5 23.56 25.18 22.88 18.7 23C12.22 23.12 6.7 22.6 -1.3 22C-9.3 21.4 -16.02 20.12 -21.3 20C-26.58 19.88 -26.14 20.32 -27.7 21.4C-29.26 22.48 -28.26 24.68 -29.1 25.4C-29.94 26.12 -31.1 26.16 -31.9 25C-32.7 23.84 -32.94 21.84 -33.1 19.6C-33.26 17.36 -32.98 16 -32.7 13.8C-32.42 11.6 -33.98 10.16 -31.7 8.6Z"/></g><g font-family="Liberation Sans, sans-serif" font-weight="bold"><text x="0" y="-10.4" text-anchor="middle" font-size="6.4" fill="#0c0c0c" stroke="#0c0c0c" stroke-width="0.3" textLength="45" lengthAdjust="spacingAndGlyphs">E PLURIBUS UNUM</text><text x="-0.6" y="20.2" text-anchor="middle" font-size="14" fill="#fbcfa8" stroke="#0c0c0c" stroke-width="2.4" stroke-linejoin="round" paint-order="stroke" textLength="56" lengthAdjust="spacingAndGlyphs" transform="rotate(1.5)">ONE CENT</text><path id="c34a" d="M-33.98 1.19 A34 34 0 1 1 33.98 1.19" fill="none"/><text font-size="9.8" fill="#0c0603" stroke="#0c0603" stroke-width="0.4" font-weight="normal"><textPath href="#c34a" textLength="108" lengthAdjust="spacingAndGlyphs">UNITED STATES OF AMERICA</textPath></text></g></g>
<g transform="translate(583.3 1115) scale(1.007)"><circle r="44.2" fill="#ef8a5d" stroke="#1c0d05" stroke-width="1.2"/><circle r="42.6" fill="none" stroke="#2a1408" stroke-width="0.7"/><clipPath id="c35k"><path d="M-22.7 -5.4 L-21.7 1.4 L-19.1 9.4 L-15.1 19.4 L-9.1 29.4 L-0.7 39 L7.7 29.4 L13.7 19.4 L18.7 9.4 L21.7 1.4 L23.3 -5.8 L0.2 -8.2Z"/></clipPath><g fill="#fbcfa8" stroke="#0c0c0c" stroke-width="1.3" stroke-linejoin="round"><path d="M-22.7 -5.4 L-21.7 1.4 L-19.1 9.4 L-15.1 19.4 L-9.1 29.4 L-0.7 39 L7.7 29.4 L13.7 19.4 L18.7 9.4 L21.7 1.4 L23.3 -5.8 L0.2 -8.2Z"/><path d="M-20.8 -7.6 L-20.8 39.4M-17.3 -7.6 L-17.3 39.4M-13.8 -7.6 L-13.8 39.4M-10.3 -7.6 L-10.3 39.4M-6.8 -7.6 L-6.8 39.4M-3.3 -7.6 L-3.3 39.4M0.2 -7.6 L0.2 39.4M3.7 -7.6 L3.7 39.4M7.2 -7.6 L7.2 39.4M10.7 -7.6 L10.7 39.4M14.2 -7.6 L14.2 39.4M17.7 -7.6 L17.7 39.4M21.2 -7.6 L21.2 39.4" fill="none" stroke-width="1" clip-path="url(#c35k)"/><path d="M-24.7 -19.4C-23.52 -20.32 -14.79 -21.04 -12.3 -21.8C-9.81 -22.56 -2.3 -27 0.2 -27C2.7 -27 10.19 -22.56 12.7 -21.8C15.21 -21.04 24.1 -20.32 25.3 -19.4C26.5 -18.48 24.88 -13.94 24.7 -12.6C24.52 -11.26 24.7 -6.52 23.5 -6C22.3 -5.48 15.03 -7.16 12.7 -7.4C10.37 -7.64 2.7 -8.4 0.2 -8.4C-2.3 -8.4 -9.99 -7.7 -12.3 -7.4C-14.61 -7.1 -21.72 -4.88 -22.9 -5.4C-24.08 -5.92 -23.92 -11.2 -24.1 -12.6C-24.28 -14 -25.88 -18.48 -24.7 -19.4Z"/><path d="M-23.5 -17.4C-22.38 -17.62 -14.67 -18.88 -12.3 -19.6C-9.93 -20.32 -2.3 -24.6 0.2 -24.6C2.7 -24.6 10.31 -20.32 12.7 -19.6C15.09 -18.88 22.96 -17.62 24.1 -17.4" fill="none" stroke-width="0.6"/><path d="M-31.7 8.6C-29.42 7.04 -27.38 6.12 -21.3 6C-15.22 5.88 -9.3 7.32 -1.3 8C6.7 8.68 12.7 9.36 18.7 9.4C24.7 9.44 26.14 9.2 28.7 8.2C31.26 7.2 30.34 5.48 31.5 4.4C32.66 3.32 33.58 2.6 34.5 2.8C35.42 3 36.14 4.08 36.1 5.4C36.06 6.72 35.18 8.04 34.3 9.4C33.42 10.76 32.34 9.8 31.7 12.2C31.06 14.6 33.7 19.24 31.1 21.4C28.5 23.56 25.18 22.88 18.7 23C12.22 23.12 6.7 22.6 -1.3 22C-9.3 21.4 -16.02 20.12 -21.3 20C-26.58 19.88 -26.14 20.32 -27.7 21.4C-29.26 22.48 -28.26 24.68 -29.1 25.4C-29.94 26.12 -31.1 26.16 -31.9 25C-32.7 23.84 -32.94 21.84 -33.1 19.6C-33.26 17.36 -32.98 16 -32.7 13.8C-32.42 11.6 -33.98 10.16 -31.7 8.6Z"/></g><g font-family="Liberation Sans, sans-serif" font-weight="bold"><text x="0" y="-10.4" text-anchor="middle" font-size="6.4" fill="#0c0c0c" stroke="#0c0c0c" stroke-width="0.3" textLength="45" lengthAdjust="spacingAndGlyphs">E PLURIBUS UNUM</text><text x="-0.6" y="20.2" text-anchor="middle" font-size="14" fill="#fbcfa8" stroke="#0c0c0c" stroke-width="2.4" stroke-linejoin="round" paint-order="stroke" textLength="56" lengthAdjust="spacingAndGlyphs" transform="rotate(1.5)">ONE CENT</text><path id="c35a" d="M-33.98 1.19 A34 34 0 1 1 33.98 1.19" fill="none"/><text font-size="9.8" fill="#0c0603" stroke="#0c0603" stroke-width="0.4" font-weight="normal"><textPath href="#c35a" textLength="108" lengthAdjust="spacingAndGlyphs">UNITED STATES OF AMERICA</textPath></text></g></g>
<line x1="315.2" y1="289.2" x2="843.4" y2="402.2" stroke="#0a0a0a" stroke-width="2.1"/>
<g stroke="#0a0a0a" fill="none"><path d="M324.3 1239.5L311.5 1271.5" stroke-width="6"/><path d="M334.3 1240L320.5 1271.5" stroke-width="6"/><path d="M324.5 1240L340 1271.5" stroke-width="3"/><path d="M334.5 1240L350.5 1271.5" stroke-width="6.4"/></g><rect x="316.6" y="1212.2" width="26" height="26.2" fill="#cdeef3" stroke="#333" stroke-width="1"/><text x="329.8" y="1223.5" text-anchor="middle" font-size="7" fill="#333" textLength="19" lengthAdjust="spacingAndGlyphs">3x5=</text><text x="329.6" y="1233" text-anchor="middle" font-size="8.4" fill="#333">15</text><g transform="translate(260 1200) scale(0.1)" fill="none" stroke-linecap="round" stroke-linejoin="round"><path d="M285 640H410M300 645V700M330 645V700M365 645V700M395 645V700" stroke="#5a3a1a" stroke-width="16"/><path d="M350 575C295 590 245 625 220 672C210 712 255 726 272 694" stroke="#0a0a0a" stroke-width="64"/><path d="M395 590C430 620 455 650 500 690" stroke="#0a0a0a" stroke-width="58"/><path d="M400 330C450 300 500 250 540 195" stroke="#0a0a0a" stroke-width="54"/><path d="M395 400C450 400 510 402 570 406" stroke="#0a0a0a" stroke-width="50"/><path d="M352 300C346 370 358 470 388 560" stroke="#0a0a0a" stroke-width="138"/><path d="M275 240C285 185 350 170 400 195C430 210 448 225 440 245C420 262 400 262 380 290C340 310 280 295 275 240Z" fill="#f3e400" stroke="#0a0a0a" stroke-width="18"/><path d="M350 575C295 590 245 625 220 672C210 712 255 726 272 694" stroke="#f3e400" stroke-width="46"/><path d="M395 590C430 620 455 650 500 690" stroke="#f3e400" stroke-width="40"/><path d="M400 330C450 300 500 250 540 195" stroke="#f3e400" stroke-width="36"/><path d="M395 400C450 400 510 402 570 406" stroke="#f3e400" stroke-width="32"/><path d="M352 300C346 370 358 470 388 560" stroke="#f3e400" stroke-width="116"/><path d="M285 240C295 195 350 182 395 203C420 215 436 228 430 242C412 255 395 255 372 284C340 300 292 290 285 240Z" fill="#f3e400"/><ellipse cx="300" cy="470" rx="14" ry="18" transform="rotate(0 300 470)" fill="#0a0a0a"/><ellipse cx="420" cy="450" rx="14" ry="18" transform="rotate(10 420 450)" fill="#0a0a0a"/><ellipse cx="400" cy="300" rx="14" ry="10" transform="rotate(30 400 300)" fill="#0a0a0a"/><ellipse cx="300" cy="360" rx="12" ry="16" transform="rotate(0 300 360)" fill="#0a0a0a"/><ellipse cx="430" cy="560" rx="12" ry="10" transform="rotate(0 430 560)" fill="#0a0a0a"/><ellipse cx="290" cy="600" rx="14" ry="9" transform="rotate(-20 290 600)" fill="#0a0a0a"/><ellipse cx="310" cy="250" rx="20" ry="13" transform="rotate(-20 310 250)" fill="#0a0a0a"/><ellipse cx="350" cy="215" rx="16" ry="10" transform="rotate(10 350 215)" fill="#0a0a0a"/><ellipse cx="315" cy="300" rx="18" ry="12" transform="rotate(20 315 300)" fill="#0a0a0a"/><ellipse cx="350" cy="350" rx="22" ry="14" transform="rotate(-30 350 350)" fill="#0a0a0a"/><ellipse cx="385" cy="380" rx="14" ry="10" transform="rotate(0 385 380)" fill="#0a0a0a"/><ellipse cx="320" cy="410" rx="16" ry="22" transform="rotate(10 320 410)" fill="#0a0a0a"/><ellipse cx="360" cy="460" rx="30" ry="16" transform="rotate(-35 360 460)" fill="#0a0a0a"/><ellipse cx="390" cy="520" rx="18" ry="12" transform="rotate(10 390 520)" fill="#0a0a0a"/><ellipse cx="335" cy="520" rx="14" ry="18" transform="rotate(0 335 520)" fill="#0a0a0a"/><ellipse cx="360" cy="580" rx="20" ry="12" transform="rotate(20 360 580)" fill="#0a0a0a"/><ellipse cx="300" cy="560" rx="14" ry="10" transform="rotate(0 300 560)" fill="#0a0a0a"/><ellipse cx="250" cy="610" rx="14" ry="10" transform="rotate(-30 250 610)" fill="#0a0a0a"/><ellipse cx="210" cy="660" rx="10" ry="12" transform="rotate(0 210 660)" fill="#0a0a0a"/><ellipse cx="440" cy="640" rx="14" ry="9" transform="rotate(40 440 640)" fill="#0a0a0a"/><ellipse cx="470" cy="300" rx="12" ry="8" transform="rotate(-45 470 300)" fill="#0a0a0a"/><ellipse cx="510" cy="250" rx="10" ry="7" transform="rotate(-50 510 250)" fill="#0a0a0a"/><ellipse cx="470" cy="402" rx="12" ry="8" transform="rotate(0 470 402)" fill="#0a0a0a"/><ellipse cx="520" cy="404" rx="10" ry="7" transform="rotate(0 520 404)" fill="#0a0a0a"/><ellipse cx="385" cy="230" rx="8" ry="6" transform="rotate(0 385 230)" fill="#0a0a0a"/><path d="M520 175L548 200" stroke="#ddd" stroke-width="14"/><path d="M512 168L524 180" stroke="#0a0a0a" stroke-width="14"/></g><rect x="357.5" y="1241.8" width="360" height="1.6" fill="#0a0a0a"/><text x="477.5" y="1234.6" font-size="18.6" font-weight="bold" fill="#0a0a0a" stroke="#0a0a0a" stroke-width="0.7" textLength="142" lengthAdjust="spacing">2ND GRADE</text><text x="347" y="1269.6" font-size="28" font-weight="bold" fill="#fffbe6" stroke="#0a0a0a" stroke-width="3.2" stroke-linejoin="round" paint-order="stroke" textLength="375" lengthAdjust="spacingAndGlyphs" style="filter:drop-shadow(1.6px 1.9px 0.5px #6a6a6a)">ATH-SALAMANDERS.COM</text>
</svg></body></html>
